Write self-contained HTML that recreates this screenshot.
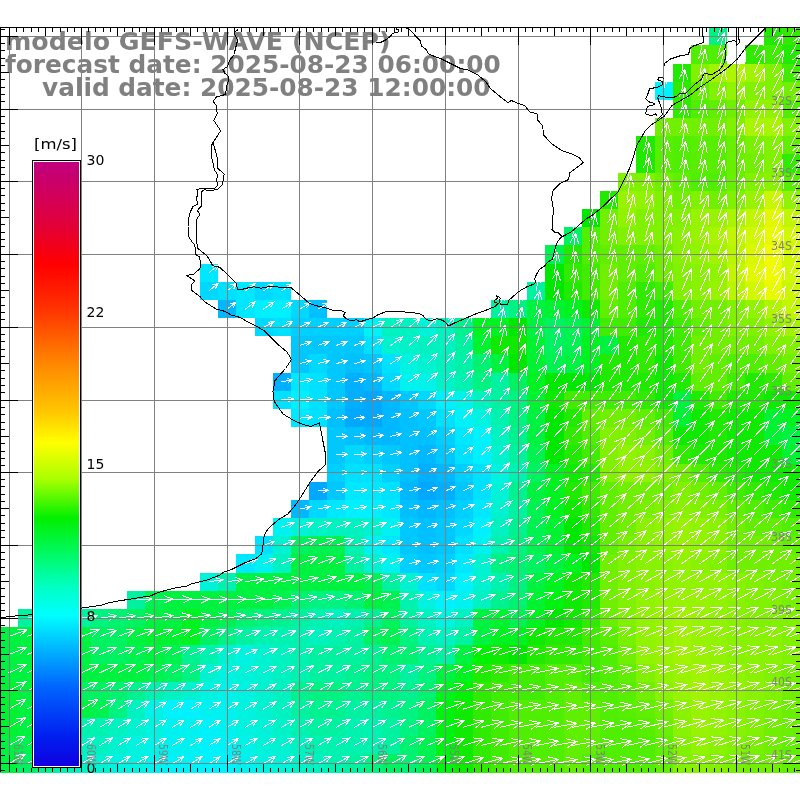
<!DOCTYPE html><html><head><meta charset="utf-8"><style>html,body{margin:0;padding:0;background:#fff;}svg{display:block}</style></head><body>
<svg width="800" height="800" viewBox="0 0 800 800">
<defs><linearGradient id="cb" x1="0" y1="1" x2="0" y2="0"><stop offset="0" stop-color="#1000e0"/><stop offset="0.05" stop-color="#0020f0"/><stop offset="0.13" stop-color="#0064ff"/><stop offset="0.19" stop-color="#00b0ff"/><stop offset="0.25" stop-color="#00ffff"/><stop offset="0.30" stop-color="#00ffbe"/><stop offset="0.345" stop-color="#00fa6e"/><stop offset="0.41" stop-color="#00f000"/><stop offset="0.475" stop-color="#aaff00"/><stop offset="0.535" stop-color="#ffff00"/><stop offset="0.585" stop-color="#ffc800"/><stop offset="0.66" stop-color="#ff8c00"/><stop offset="0.76" stop-color="#ff3000"/><stop offset="0.83" stop-color="#ff0000"/><stop offset="0.90" stop-color="#e0003c"/><stop offset="1" stop-color="#c0007f"/></linearGradient></defs>
<g shape-rendering="crispEdges">
<rect x="709" y="27" width="18" height="18" fill="#00f280"/>
<rect x="764" y="27" width="18" height="18" fill="#20ea00"/>
<rect x="782" y="27" width="18" height="18" fill="#30eb00"/>
<rect x="691" y="45" width="18" height="19" fill="#50ee00"/>
<rect x="709" y="45" width="18" height="19" fill="#50ee00"/>
<rect x="745" y="45" width="19" height="19" fill="#30eb00"/>
<rect x="764" y="45" width="18" height="19" fill="#40ed00"/>
<rect x="782" y="45" width="18" height="19" fill="#20ea00"/>
<rect x="673" y="64" width="18" height="18" fill="#20ea00"/>
<rect x="691" y="64" width="18" height="18" fill="#80f200"/>
<rect x="709" y="64" width="18" height="18" fill="#a0f400"/>
<rect x="727" y="64" width="18" height="18" fill="#b0f500"/>
<rect x="745" y="64" width="19" height="18" fill="#a0f400"/>
<rect x="764" y="64" width="18" height="18" fill="#80f200"/>
<rect x="782" y="64" width="18" height="18" fill="#40ed00"/>
<rect x="655" y="82" width="18" height="18" fill="#00f2ff"/>
<rect x="673" y="82" width="18" height="18" fill="#30eb00"/>
<rect x="691" y="82" width="18" height="18" fill="#60ef00"/>
<rect x="709" y="82" width="18" height="18" fill="#80f200"/>
<rect x="727" y="82" width="18" height="18" fill="#90f300"/>
<rect x="745" y="82" width="19" height="18" fill="#80f200"/>
<rect x="764" y="82" width="18" height="18" fill="#80f200"/>
<rect x="782" y="82" width="18" height="18" fill="#70f000"/>
<rect x="673" y="100" width="18" height="18" fill="#30eb00"/>
<rect x="691" y="100" width="18" height="18" fill="#50ee00"/>
<rect x="709" y="100" width="18" height="18" fill="#60ef00"/>
<rect x="727" y="100" width="18" height="18" fill="#70f000"/>
<rect x="745" y="100" width="19" height="18" fill="#90f300"/>
<rect x="764" y="100" width="18" height="18" fill="#90f300"/>
<rect x="782" y="100" width="18" height="18" fill="#50ee00"/>
<rect x="655" y="118" width="18" height="18" fill="#70f000"/>
<rect x="673" y="118" width="18" height="18" fill="#70f000"/>
<rect x="691" y="118" width="18" height="18" fill="#70f000"/>
<rect x="709" y="118" width="18" height="18" fill="#70f000"/>
<rect x="727" y="118" width="18" height="18" fill="#80f200"/>
<rect x="745" y="118" width="19" height="18" fill="#a8f500"/>
<rect x="764" y="118" width="18" height="18" fill="#a8f500"/>
<rect x="782" y="118" width="18" height="18" fill="#80f200"/>
<rect x="636" y="136" width="19" height="18" fill="#20ea00"/>
<rect x="655" y="136" width="18" height="18" fill="#58ee00"/>
<rect x="673" y="136" width="18" height="18" fill="#50ee00"/>
<rect x="691" y="136" width="18" height="18" fill="#58ee00"/>
<rect x="709" y="136" width="18" height="18" fill="#58ee00"/>
<rect x="727" y="136" width="18" height="18" fill="#68f000"/>
<rect x="745" y="136" width="19" height="18" fill="#78f100"/>
<rect x="764" y="136" width="18" height="18" fill="#80f200"/>
<rect x="782" y="136" width="18" height="18" fill="#60ef00"/>
<rect x="636" y="154" width="19" height="19" fill="#20ea00"/>
<rect x="655" y="154" width="18" height="19" fill="#58ee00"/>
<rect x="673" y="154" width="18" height="19" fill="#50ee00"/>
<rect x="691" y="154" width="18" height="19" fill="#58ee00"/>
<rect x="709" y="154" width="18" height="19" fill="#58ee00"/>
<rect x="727" y="154" width="18" height="19" fill="#68f000"/>
<rect x="745" y="154" width="19" height="19" fill="#70f000"/>
<rect x="764" y="154" width="18" height="19" fill="#80f200"/>
<rect x="782" y="154" width="18" height="19" fill="#30eb00"/>
<rect x="618" y="173" width="18" height="18" fill="#80f200"/>
<rect x="636" y="173" width="19" height="18" fill="#80f200"/>
<rect x="655" y="173" width="18" height="18" fill="#70f000"/>
<rect x="673" y="173" width="18" height="18" fill="#60ef00"/>
<rect x="691" y="173" width="18" height="18" fill="#50ee00"/>
<rect x="709" y="173" width="18" height="18" fill="#50ee00"/>
<rect x="727" y="173" width="18" height="18" fill="#68f000"/>
<rect x="745" y="173" width="19" height="18" fill="#80f200"/>
<rect x="764" y="173" width="18" height="18" fill="#88f200"/>
<rect x="782" y="173" width="18" height="18" fill="#58ee00"/>
<rect x="600" y="191" width="18" height="18" fill="#20ea00"/>
<rect x="618" y="191" width="18" height="18" fill="#98f300"/>
<rect x="636" y="191" width="19" height="18" fill="#90f300"/>
<rect x="655" y="191" width="18" height="18" fill="#80f200"/>
<rect x="673" y="191" width="18" height="18" fill="#70f000"/>
<rect x="691" y="191" width="18" height="18" fill="#80f200"/>
<rect x="709" y="191" width="18" height="18" fill="#70f000"/>
<rect x="727" y="191" width="18" height="18" fill="#80f200"/>
<rect x="745" y="191" width="19" height="18" fill="#98f300"/>
<rect x="764" y="191" width="18" height="18" fill="#c8f700"/>
<rect x="782" y="191" width="18" height="18" fill="#90f300"/>
<rect x="582" y="209" width="18" height="18" fill="#00e800"/>
<rect x="600" y="209" width="18" height="18" fill="#70f000"/>
<rect x="618" y="209" width="18" height="18" fill="#90f300"/>
<rect x="636" y="209" width="19" height="18" fill="#80f200"/>
<rect x="655" y="209" width="18" height="18" fill="#80f200"/>
<rect x="673" y="209" width="18" height="18" fill="#80f200"/>
<rect x="691" y="209" width="18" height="18" fill="#98f300"/>
<rect x="709" y="209" width="18" height="18" fill="#98f300"/>
<rect x="727" y="209" width="18" height="18" fill="#a8f500"/>
<rect x="745" y="209" width="19" height="18" fill="#c0f700"/>
<rect x="764" y="209" width="18" height="18" fill="#e0f900"/>
<rect x="782" y="209" width="18" height="18" fill="#c0f700"/>
<rect x="564" y="227" width="18" height="18" fill="#00f260"/>
<rect x="582" y="227" width="18" height="18" fill="#50ee00"/>
<rect x="600" y="227" width="18" height="18" fill="#70f000"/>
<rect x="618" y="227" width="18" height="18" fill="#80f200"/>
<rect x="636" y="227" width="19" height="18" fill="#80f200"/>
<rect x="655" y="227" width="18" height="18" fill="#80f200"/>
<rect x="673" y="227" width="18" height="18" fill="#88f200"/>
<rect x="691" y="227" width="18" height="18" fill="#98f300"/>
<rect x="709" y="227" width="18" height="18" fill="#a8f500"/>
<rect x="727" y="227" width="18" height="18" fill="#c0f700"/>
<rect x="745" y="227" width="19" height="18" fill="#d0f800"/>
<rect x="764" y="227" width="18" height="18" fill="#e8fa00"/>
<rect x="782" y="227" width="18" height="18" fill="#d0f800"/>
<rect x="545" y="245" width="19" height="19" fill="#00f250"/>
<rect x="564" y="245" width="18" height="19" fill="#20ea00"/>
<rect x="582" y="245" width="18" height="19" fill="#50ee00"/>
<rect x="600" y="245" width="18" height="19" fill="#60ef00"/>
<rect x="618" y="245" width="18" height="19" fill="#60ef00"/>
<rect x="636" y="245" width="19" height="19" fill="#60ef00"/>
<rect x="655" y="245" width="18" height="19" fill="#70f000"/>
<rect x="673" y="245" width="18" height="19" fill="#88f200"/>
<rect x="691" y="245" width="18" height="19" fill="#90f300"/>
<rect x="709" y="245" width="18" height="19" fill="#a0f400"/>
<rect x="727" y="245" width="18" height="19" fill="#b8f600"/>
<rect x="745" y="245" width="19" height="19" fill="#d8f800"/>
<rect x="764" y="245" width="18" height="19" fill="#f0fa00"/>
<rect x="782" y="245" width="18" height="19" fill="#d0f800"/>
<rect x="200" y="264" width="18" height="18" fill="#00e8ff"/>
<rect x="545" y="264" width="19" height="18" fill="#00e800"/>
<rect x="564" y="264" width="18" height="18" fill="#30eb00"/>
<rect x="582" y="264" width="18" height="18" fill="#40ed00"/>
<rect x="600" y="264" width="18" height="18" fill="#70f000"/>
<rect x="618" y="264" width="18" height="18" fill="#60ef00"/>
<rect x="636" y="264" width="19" height="18" fill="#50ee00"/>
<rect x="655" y="264" width="18" height="18" fill="#70f000"/>
<rect x="673" y="264" width="18" height="18" fill="#80f200"/>
<rect x="691" y="264" width="18" height="18" fill="#88f200"/>
<rect x="709" y="264" width="18" height="18" fill="#90f300"/>
<rect x="727" y="264" width="18" height="18" fill="#c0f700"/>
<rect x="745" y="264" width="19" height="18" fill="#e0f900"/>
<rect x="764" y="264" width="18" height="18" fill="#f0fa00"/>
<rect x="782" y="264" width="18" height="18" fill="#d0f800"/>
<rect x="200" y="282" width="18" height="18" fill="#00d8ff"/>
<rect x="218" y="282" width="18" height="18" fill="#00e0ff"/>
<rect x="236" y="282" width="19" height="18" fill="#00e8ff"/>
<rect x="255" y="282" width="18" height="18" fill="#00d8ff"/>
<rect x="273" y="282" width="18" height="18" fill="#00e0ff"/>
<rect x="527" y="282" width="18" height="18" fill="#00f2a0"/>
<rect x="545" y="282" width="19" height="18" fill="#00e800"/>
<rect x="564" y="282" width="18" height="18" fill="#20ea00"/>
<rect x="582" y="282" width="18" height="18" fill="#40ed00"/>
<rect x="600" y="282" width="18" height="18" fill="#70f000"/>
<rect x="618" y="282" width="18" height="18" fill="#50ee00"/>
<rect x="636" y="282" width="19" height="18" fill="#30eb00"/>
<rect x="655" y="282" width="18" height="18" fill="#40ed00"/>
<rect x="673" y="282" width="18" height="18" fill="#80f200"/>
<rect x="691" y="282" width="18" height="18" fill="#88f200"/>
<rect x="709" y="282" width="18" height="18" fill="#98f300"/>
<rect x="727" y="282" width="18" height="18" fill="#b8f600"/>
<rect x="745" y="282" width="19" height="18" fill="#d0f800"/>
<rect x="764" y="282" width="18" height="18" fill="#e8fa00"/>
<rect x="782" y="282" width="18" height="18" fill="#c8f700"/>
<rect x="218" y="300" width="18" height="18" fill="#00b8ff"/>
<rect x="236" y="300" width="19" height="18" fill="#00e8ff"/>
<rect x="255" y="300" width="18" height="18" fill="#00f0ff"/>
<rect x="273" y="300" width="18" height="18" fill="#00f0ff"/>
<rect x="291" y="300" width="18" height="18" fill="#00d8ff"/>
<rect x="309" y="300" width="18" height="18" fill="#00c0ff"/>
<rect x="491" y="300" width="18" height="18" fill="#00f2a0"/>
<rect x="509" y="300" width="18" height="18" fill="#00f280"/>
<rect x="527" y="300" width="18" height="18" fill="#00f240"/>
<rect x="545" y="300" width="19" height="18" fill="#00f230"/>
<rect x="564" y="300" width="18" height="18" fill="#00f220"/>
<rect x="582" y="300" width="18" height="18" fill="#10e900"/>
<rect x="600" y="300" width="18" height="18" fill="#60ef00"/>
<rect x="618" y="300" width="18" height="18" fill="#50ee00"/>
<rect x="636" y="300" width="19" height="18" fill="#30eb00"/>
<rect x="655" y="300" width="18" height="18" fill="#20ea00"/>
<rect x="673" y="300" width="18" height="18" fill="#50ee00"/>
<rect x="691" y="300" width="18" height="18" fill="#70f000"/>
<rect x="709" y="300" width="18" height="18" fill="#70f000"/>
<rect x="727" y="300" width="18" height="18" fill="#80f200"/>
<rect x="745" y="300" width="19" height="18" fill="#90f300"/>
<rect x="764" y="300" width="18" height="18" fill="#b0f500"/>
<rect x="782" y="300" width="18" height="18" fill="#c0f700"/>
<rect x="255" y="318" width="18" height="18" fill="#00d8ff"/>
<rect x="273" y="318" width="18" height="18" fill="#00e0ff"/>
<rect x="291" y="318" width="18" height="18" fill="#00d0ff"/>
<rect x="309" y="318" width="18" height="18" fill="#00d0ff"/>
<rect x="327" y="318" width="18" height="18" fill="#00d0ff"/>
<rect x="345" y="318" width="19" height="18" fill="#00d0ff"/>
<rect x="364" y="318" width="18" height="18" fill="#00f2f8"/>
<rect x="382" y="318" width="18" height="18" fill="#00f2c0"/>
<rect x="400" y="318" width="18" height="18" fill="#00f2c0"/>
<rect x="418" y="318" width="18" height="18" fill="#00f2d8"/>
<rect x="436" y="318" width="19" height="18" fill="#00f2c0"/>
<rect x="455" y="318" width="18" height="18" fill="#00f290"/>
<rect x="473" y="318" width="18" height="18" fill="#00f220"/>
<rect x="491" y="318" width="18" height="18" fill="#00f220"/>
<rect x="509" y="318" width="18" height="18" fill="#00e800"/>
<rect x="527" y="318" width="18" height="18" fill="#00f240"/>
<rect x="545" y="318" width="19" height="18" fill="#00f260"/>
<rect x="564" y="318" width="18" height="18" fill="#00f250"/>
<rect x="582" y="318" width="18" height="18" fill="#00f230"/>
<rect x="600" y="318" width="18" height="18" fill="#40ed00"/>
<rect x="618" y="318" width="18" height="18" fill="#40ed00"/>
<rect x="636" y="318" width="19" height="18" fill="#20ea00"/>
<rect x="655" y="318" width="18" height="18" fill="#20ea00"/>
<rect x="673" y="318" width="18" height="18" fill="#40ed00"/>
<rect x="691" y="318" width="18" height="18" fill="#60ef00"/>
<rect x="709" y="318" width="18" height="18" fill="#70f000"/>
<rect x="727" y="318" width="18" height="18" fill="#80f200"/>
<rect x="745" y="318" width="19" height="18" fill="#80f200"/>
<rect x="764" y="318" width="18" height="18" fill="#90f300"/>
<rect x="782" y="318" width="18" height="18" fill="#a0f400"/>
<rect x="291" y="336" width="18" height="18" fill="#00c8ff"/>
<rect x="309" y="336" width="18" height="18" fill="#00c8ff"/>
<rect x="327" y="336" width="18" height="18" fill="#00c8ff"/>
<rect x="345" y="336" width="19" height="18" fill="#00c8ff"/>
<rect x="364" y="336" width="18" height="18" fill="#00e0ff"/>
<rect x="382" y="336" width="18" height="18" fill="#00f2d0"/>
<rect x="400" y="336" width="18" height="18" fill="#00f2c8"/>
<rect x="418" y="336" width="18" height="18" fill="#00f2c0"/>
<rect x="436" y="336" width="19" height="18" fill="#00f2c0"/>
<rect x="455" y="336" width="18" height="18" fill="#00f2a0"/>
<rect x="473" y="336" width="18" height="18" fill="#00f230"/>
<rect x="491" y="336" width="18" height="18" fill="#10e900"/>
<rect x="509" y="336" width="18" height="18" fill="#10e900"/>
<rect x="527" y="336" width="18" height="18" fill="#00f230"/>
<rect x="545" y="336" width="19" height="18" fill="#00f260"/>
<rect x="564" y="336" width="18" height="18" fill="#00f250"/>
<rect x="582" y="336" width="18" height="18" fill="#00f220"/>
<rect x="600" y="336" width="18" height="18" fill="#00f240"/>
<rect x="618" y="336" width="18" height="18" fill="#20ea00"/>
<rect x="636" y="336" width="19" height="18" fill="#30eb00"/>
<rect x="655" y="336" width="18" height="18" fill="#20ea00"/>
<rect x="673" y="336" width="18" height="18" fill="#40ed00"/>
<rect x="691" y="336" width="18" height="18" fill="#70f000"/>
<rect x="709" y="336" width="18" height="18" fill="#70f000"/>
<rect x="727" y="336" width="18" height="18" fill="#70f000"/>
<rect x="745" y="336" width="19" height="18" fill="#70f000"/>
<rect x="764" y="336" width="18" height="18" fill="#80f200"/>
<rect x="782" y="336" width="18" height="18" fill="#80f200"/>
<rect x="291" y="354" width="18" height="19" fill="#00c8ff"/>
<rect x="309" y="354" width="18" height="19" fill="#00d8ff"/>
<rect x="327" y="354" width="18" height="19" fill="#00c8ff"/>
<rect x="345" y="354" width="19" height="19" fill="#00c0ff"/>
<rect x="364" y="354" width="18" height="19" fill="#00c8ff"/>
<rect x="382" y="354" width="18" height="19" fill="#00e0ff"/>
<rect x="400" y="354" width="18" height="19" fill="#00f2e0"/>
<rect x="418" y="354" width="18" height="19" fill="#00f2d0"/>
<rect x="436" y="354" width="19" height="19" fill="#00f2c0"/>
<rect x="455" y="354" width="18" height="19" fill="#00f2a8"/>
<rect x="473" y="354" width="18" height="19" fill="#00f270"/>
<rect x="491" y="354" width="18" height="19" fill="#00f240"/>
<rect x="509" y="354" width="18" height="19" fill="#00e800"/>
<rect x="527" y="354" width="18" height="19" fill="#00f230"/>
<rect x="545" y="354" width="19" height="19" fill="#00f250"/>
<rect x="564" y="354" width="18" height="19" fill="#00f240"/>
<rect x="582" y="354" width="18" height="19" fill="#00f220"/>
<rect x="600" y="354" width="18" height="19" fill="#20ea00"/>
<rect x="618" y="354" width="18" height="19" fill="#20ea00"/>
<rect x="636" y="354" width="19" height="19" fill="#30eb00"/>
<rect x="655" y="354" width="18" height="19" fill="#10e900"/>
<rect x="673" y="354" width="18" height="19" fill="#40ed00"/>
<rect x="691" y="354" width="18" height="19" fill="#70f000"/>
<rect x="709" y="354" width="18" height="19" fill="#60ef00"/>
<rect x="727" y="354" width="18" height="19" fill="#50ee00"/>
<rect x="745" y="354" width="19" height="19" fill="#50ee00"/>
<rect x="764" y="354" width="18" height="19" fill="#60ef00"/>
<rect x="782" y="354" width="18" height="19" fill="#70f000"/>
<rect x="273" y="373" width="18" height="18" fill="#00b0ff"/>
<rect x="291" y="373" width="18" height="18" fill="#00e8ff"/>
<rect x="309" y="373" width="18" height="18" fill="#00e0ff"/>
<rect x="327" y="373" width="18" height="18" fill="#00c8ff"/>
<rect x="345" y="373" width="19" height="18" fill="#00b0ff"/>
<rect x="364" y="373" width="18" height="18" fill="#00b8ff"/>
<rect x="382" y="373" width="18" height="18" fill="#00d8ff"/>
<rect x="400" y="373" width="18" height="18" fill="#00f2f0"/>
<rect x="418" y="373" width="18" height="18" fill="#00f2e8"/>
<rect x="436" y="373" width="19" height="18" fill="#00f2c8"/>
<rect x="455" y="373" width="18" height="18" fill="#00f2b0"/>
<rect x="473" y="373" width="18" height="18" fill="#00f280"/>
<rect x="491" y="373" width="18" height="18" fill="#00f2a0"/>
<rect x="509" y="373" width="18" height="18" fill="#00f260"/>
<rect x="527" y="373" width="18" height="18" fill="#00f220"/>
<rect x="545" y="373" width="19" height="18" fill="#00e800"/>
<rect x="564" y="373" width="18" height="18" fill="#00e800"/>
<rect x="582" y="373" width="18" height="18" fill="#00e800"/>
<rect x="600" y="373" width="18" height="18" fill="#20ea00"/>
<rect x="618" y="373" width="18" height="18" fill="#20ea00"/>
<rect x="636" y="373" width="19" height="18" fill="#20ea00"/>
<rect x="655" y="373" width="18" height="18" fill="#10e900"/>
<rect x="673" y="373" width="18" height="18" fill="#20ea00"/>
<rect x="691" y="373" width="18" height="18" fill="#60ef00"/>
<rect x="709" y="373" width="18" height="18" fill="#60ef00"/>
<rect x="727" y="373" width="18" height="18" fill="#40ed00"/>
<rect x="745" y="373" width="19" height="18" fill="#20ea00"/>
<rect x="764" y="373" width="18" height="18" fill="#30eb00"/>
<rect x="782" y="373" width="18" height="18" fill="#60ef00"/>
<rect x="273" y="391" width="18" height="18" fill="#00e0ff"/>
<rect x="291" y="391" width="18" height="18" fill="#00f0ff"/>
<rect x="309" y="391" width="18" height="18" fill="#00e0ff"/>
<rect x="327" y="391" width="18" height="18" fill="#00c8ff"/>
<rect x="345" y="391" width="19" height="18" fill="#00b0ff"/>
<rect x="364" y="391" width="18" height="18" fill="#00a8ff"/>
<rect x="382" y="391" width="18" height="18" fill="#00b8ff"/>
<rect x="400" y="391" width="18" height="18" fill="#00c8ff"/>
<rect x="418" y="391" width="18" height="18" fill="#00d8ff"/>
<rect x="436" y="391" width="19" height="18" fill="#00f0ff"/>
<rect x="455" y="391" width="18" height="18" fill="#00f2e8"/>
<rect x="473" y="391" width="18" height="18" fill="#00f2c0"/>
<rect x="491" y="391" width="18" height="18" fill="#00f2a0"/>
<rect x="509" y="391" width="18" height="18" fill="#00f280"/>
<rect x="527" y="391" width="18" height="18" fill="#00f230"/>
<rect x="545" y="391" width="19" height="18" fill="#10e900"/>
<rect x="564" y="391" width="18" height="18" fill="#40ed00"/>
<rect x="582" y="391" width="18" height="18" fill="#40ed00"/>
<rect x="600" y="391" width="18" height="18" fill="#40ed00"/>
<rect x="618" y="391" width="18" height="18" fill="#40ed00"/>
<rect x="636" y="391" width="19" height="18" fill="#30eb00"/>
<rect x="655" y="391" width="18" height="18" fill="#10e900"/>
<rect x="673" y="391" width="18" height="18" fill="#00f240"/>
<rect x="691" y="391" width="18" height="18" fill="#20ea00"/>
<rect x="709" y="391" width="18" height="18" fill="#40ed00"/>
<rect x="727" y="391" width="18" height="18" fill="#20ea00"/>
<rect x="745" y="391" width="19" height="18" fill="#20ea00"/>
<rect x="764" y="391" width="18" height="18" fill="#10e900"/>
<rect x="782" y="391" width="18" height="18" fill="#10e900"/>
<rect x="291" y="409" width="18" height="18" fill="#00e8ff"/>
<rect x="309" y="409" width="18" height="18" fill="#00e0ff"/>
<rect x="327" y="409" width="18" height="18" fill="#00c0ff"/>
<rect x="345" y="409" width="19" height="18" fill="#00a8ff"/>
<rect x="364" y="409" width="18" height="18" fill="#00a8ff"/>
<rect x="382" y="409" width="18" height="18" fill="#00b8ff"/>
<rect x="400" y="409" width="18" height="18" fill="#00c0ff"/>
<rect x="418" y="409" width="18" height="18" fill="#00c8ff"/>
<rect x="436" y="409" width="19" height="18" fill="#00e0ff"/>
<rect x="455" y="409" width="18" height="18" fill="#00f2f8"/>
<rect x="473" y="409" width="18" height="18" fill="#00f2e0"/>
<rect x="491" y="409" width="18" height="18" fill="#00f2b0"/>
<rect x="509" y="409" width="18" height="18" fill="#00f280"/>
<rect x="527" y="409" width="18" height="18" fill="#00f240"/>
<rect x="545" y="409" width="19" height="18" fill="#00e800"/>
<rect x="564" y="409" width="18" height="18" fill="#20ea00"/>
<rect x="582" y="409" width="18" height="18" fill="#60ef00"/>
<rect x="600" y="409" width="18" height="18" fill="#70f000"/>
<rect x="618" y="409" width="18" height="18" fill="#70f000"/>
<rect x="636" y="409" width="19" height="18" fill="#60ef00"/>
<rect x="655" y="409" width="18" height="18" fill="#40ed00"/>
<rect x="673" y="409" width="18" height="18" fill="#00f230"/>
<rect x="691" y="409" width="18" height="18" fill="#10e900"/>
<rect x="709" y="409" width="18" height="18" fill="#20ea00"/>
<rect x="727" y="409" width="18" height="18" fill="#10e900"/>
<rect x="745" y="409" width="19" height="18" fill="#10e900"/>
<rect x="764" y="409" width="18" height="18" fill="#00f230"/>
<rect x="782" y="409" width="18" height="18" fill="#00f220"/>
<rect x="327" y="427" width="18" height="18" fill="#00c8ff"/>
<rect x="345" y="427" width="19" height="18" fill="#00c0ff"/>
<rect x="364" y="427" width="18" height="18" fill="#00b8ff"/>
<rect x="382" y="427" width="18" height="18" fill="#00b8ff"/>
<rect x="400" y="427" width="18" height="18" fill="#00c0ff"/>
<rect x="418" y="427" width="18" height="18" fill="#00c0ff"/>
<rect x="436" y="427" width="19" height="18" fill="#00d0ff"/>
<rect x="455" y="427" width="18" height="18" fill="#00e8ff"/>
<rect x="473" y="427" width="18" height="18" fill="#00f2ff"/>
<rect x="491" y="427" width="18" height="18" fill="#00f2c0"/>
<rect x="509" y="427" width="18" height="18" fill="#00f290"/>
<rect x="527" y="427" width="18" height="18" fill="#00f240"/>
<rect x="545" y="427" width="19" height="18" fill="#00e800"/>
<rect x="564" y="427" width="18" height="18" fill="#30eb00"/>
<rect x="582" y="427" width="18" height="18" fill="#50ee00"/>
<rect x="600" y="427" width="18" height="18" fill="#80f200"/>
<rect x="618" y="427" width="18" height="18" fill="#80f200"/>
<rect x="636" y="427" width="19" height="18" fill="#70f000"/>
<rect x="655" y="427" width="18" height="18" fill="#50ee00"/>
<rect x="673" y="427" width="18" height="18" fill="#10e900"/>
<rect x="691" y="427" width="18" height="18" fill="#10e900"/>
<rect x="709" y="427" width="18" height="18" fill="#20ea00"/>
<rect x="727" y="427" width="18" height="18" fill="#10e900"/>
<rect x="745" y="427" width="19" height="18" fill="#10e900"/>
<rect x="764" y="427" width="18" height="18" fill="#00f230"/>
<rect x="782" y="427" width="18" height="18" fill="#00f240"/>
<rect x="327" y="445" width="18" height="19" fill="#00c8ff"/>
<rect x="345" y="445" width="19" height="19" fill="#00d8ff"/>
<rect x="364" y="445" width="18" height="19" fill="#00d0ff"/>
<rect x="382" y="445" width="18" height="19" fill="#00c8ff"/>
<rect x="400" y="445" width="18" height="19" fill="#00c0ff"/>
<rect x="418" y="445" width="18" height="19" fill="#00b8ff"/>
<rect x="436" y="445" width="19" height="19" fill="#00c8ff"/>
<rect x="455" y="445" width="18" height="19" fill="#00e0ff"/>
<rect x="473" y="445" width="18" height="19" fill="#00f0ff"/>
<rect x="491" y="445" width="18" height="19" fill="#00f2d0"/>
<rect x="509" y="445" width="18" height="19" fill="#00f2a0"/>
<rect x="527" y="445" width="18" height="19" fill="#00f250"/>
<rect x="545" y="445" width="19" height="19" fill="#00e800"/>
<rect x="564" y="445" width="18" height="19" fill="#20ea00"/>
<rect x="582" y="445" width="18" height="19" fill="#40ed00"/>
<rect x="600" y="445" width="18" height="19" fill="#80f200"/>
<rect x="618" y="445" width="18" height="19" fill="#90f300"/>
<rect x="636" y="445" width="19" height="19" fill="#88f200"/>
<rect x="655" y="445" width="18" height="19" fill="#70f000"/>
<rect x="673" y="445" width="18" height="19" fill="#30eb00"/>
<rect x="691" y="445" width="18" height="19" fill="#20ea00"/>
<rect x="709" y="445" width="18" height="19" fill="#20ea00"/>
<rect x="727" y="445" width="18" height="19" fill="#10e900"/>
<rect x="745" y="445" width="19" height="19" fill="#10e900"/>
<rect x="764" y="445" width="18" height="19" fill="#10e900"/>
<rect x="782" y="445" width="18" height="19" fill="#00f230"/>
<rect x="327" y="464" width="18" height="18" fill="#00d0ff"/>
<rect x="345" y="464" width="19" height="18" fill="#00e0ff"/>
<rect x="364" y="464" width="18" height="18" fill="#00e0ff"/>
<rect x="382" y="464" width="18" height="18" fill="#00d0ff"/>
<rect x="400" y="464" width="18" height="18" fill="#00c0ff"/>
<rect x="418" y="464" width="18" height="18" fill="#00b0ff"/>
<rect x="436" y="464" width="19" height="18" fill="#00b8ff"/>
<rect x="455" y="464" width="18" height="18" fill="#00d0ff"/>
<rect x="473" y="464" width="18" height="18" fill="#00e0ff"/>
<rect x="491" y="464" width="18" height="18" fill="#00f2e0"/>
<rect x="509" y="464" width="18" height="18" fill="#00f2b0"/>
<rect x="527" y="464" width="18" height="18" fill="#00f260"/>
<rect x="545" y="464" width="19" height="18" fill="#00f220"/>
<rect x="564" y="464" width="18" height="18" fill="#10e900"/>
<rect x="582" y="464" width="18" height="18" fill="#20ea00"/>
<rect x="600" y="464" width="18" height="18" fill="#80f200"/>
<rect x="618" y="464" width="18" height="18" fill="#90f300"/>
<rect x="636" y="464" width="19" height="18" fill="#90f300"/>
<rect x="655" y="464" width="18" height="18" fill="#80f200"/>
<rect x="673" y="464" width="18" height="18" fill="#70f000"/>
<rect x="691" y="464" width="18" height="18" fill="#50ee00"/>
<rect x="709" y="464" width="18" height="18" fill="#30eb00"/>
<rect x="727" y="464" width="18" height="18" fill="#20ea00"/>
<rect x="745" y="464" width="19" height="18" fill="#10e900"/>
<rect x="764" y="464" width="18" height="18" fill="#10e900"/>
<rect x="782" y="464" width="18" height="18" fill="#10e900"/>
<rect x="309" y="482" width="18" height="18" fill="#00a8ff"/>
<rect x="327" y="482" width="18" height="18" fill="#00c8ff"/>
<rect x="345" y="482" width="19" height="18" fill="#00e8ff"/>
<rect x="364" y="482" width="18" height="18" fill="#00e8ff"/>
<rect x="382" y="482" width="18" height="18" fill="#00e0ff"/>
<rect x="400" y="482" width="18" height="18" fill="#00b8ff"/>
<rect x="418" y="482" width="18" height="18" fill="#00a8ff"/>
<rect x="436" y="482" width="19" height="18" fill="#00b0ff"/>
<rect x="455" y="482" width="18" height="18" fill="#00c8ff"/>
<rect x="473" y="482" width="18" height="18" fill="#00e0ff"/>
<rect x="491" y="482" width="18" height="18" fill="#00f2d8"/>
<rect x="509" y="482" width="18" height="18" fill="#00f290"/>
<rect x="527" y="482" width="18" height="18" fill="#00f240"/>
<rect x="545" y="482" width="19" height="18" fill="#00f220"/>
<rect x="564" y="482" width="18" height="18" fill="#20ea00"/>
<rect x="582" y="482" width="18" height="18" fill="#40ed00"/>
<rect x="600" y="482" width="18" height="18" fill="#60ef00"/>
<rect x="618" y="482" width="18" height="18" fill="#70f000"/>
<rect x="636" y="482" width="19" height="18" fill="#70f000"/>
<rect x="655" y="482" width="18" height="18" fill="#70f000"/>
<rect x="673" y="482" width="18" height="18" fill="#80f200"/>
<rect x="691" y="482" width="18" height="18" fill="#70f000"/>
<rect x="709" y="482" width="18" height="18" fill="#60ef00"/>
<rect x="727" y="482" width="18" height="18" fill="#40ed00"/>
<rect x="745" y="482" width="19" height="18" fill="#30eb00"/>
<rect x="764" y="482" width="18" height="18" fill="#20ea00"/>
<rect x="782" y="482" width="18" height="18" fill="#10e900"/>
<rect x="291" y="500" width="18" height="18" fill="#00b8ff"/>
<rect x="309" y="500" width="18" height="18" fill="#00d8ff"/>
<rect x="327" y="500" width="18" height="18" fill="#00e8ff"/>
<rect x="345" y="500" width="19" height="18" fill="#00f0ff"/>
<rect x="364" y="500" width="18" height="18" fill="#00f0ff"/>
<rect x="382" y="500" width="18" height="18" fill="#00e8ff"/>
<rect x="400" y="500" width="18" height="18" fill="#00c0ff"/>
<rect x="418" y="500" width="18" height="18" fill="#00b8ff"/>
<rect x="436" y="500" width="19" height="18" fill="#00c0ff"/>
<rect x="455" y="500" width="18" height="18" fill="#00d0ff"/>
<rect x="473" y="500" width="18" height="18" fill="#00e8ff"/>
<rect x="491" y="500" width="18" height="18" fill="#00f2d0"/>
<rect x="509" y="500" width="18" height="18" fill="#00f2a0"/>
<rect x="527" y="500" width="18" height="18" fill="#00f250"/>
<rect x="545" y="500" width="19" height="18" fill="#00f220"/>
<rect x="564" y="500" width="18" height="18" fill="#10e900"/>
<rect x="582" y="500" width="18" height="18" fill="#30eb00"/>
<rect x="600" y="500" width="18" height="18" fill="#60ef00"/>
<rect x="618" y="500" width="18" height="18" fill="#70f000"/>
<rect x="636" y="500" width="19" height="18" fill="#78f100"/>
<rect x="655" y="500" width="18" height="18" fill="#80f200"/>
<rect x="673" y="500" width="18" height="18" fill="#88f200"/>
<rect x="691" y="500" width="18" height="18" fill="#80f200"/>
<rect x="709" y="500" width="18" height="18" fill="#78f100"/>
<rect x="727" y="500" width="18" height="18" fill="#60ef00"/>
<rect x="745" y="500" width="19" height="18" fill="#50ee00"/>
<rect x="764" y="500" width="18" height="18" fill="#40ed00"/>
<rect x="782" y="500" width="18" height="18" fill="#30eb00"/>
<rect x="273" y="518" width="18" height="18" fill="#00f2f0"/>
<rect x="291" y="518" width="18" height="18" fill="#00f2d8"/>
<rect x="309" y="518" width="18" height="18" fill="#00f2c8"/>
<rect x="327" y="518" width="18" height="18" fill="#00f2c0"/>
<rect x="345" y="518" width="19" height="18" fill="#00f2c0"/>
<rect x="364" y="518" width="18" height="18" fill="#00f2d0"/>
<rect x="382" y="518" width="18" height="18" fill="#00f2f0"/>
<rect x="400" y="518" width="18" height="18" fill="#00c8ff"/>
<rect x="418" y="518" width="18" height="18" fill="#00c0ff"/>
<rect x="436" y="518" width="19" height="18" fill="#00c8ff"/>
<rect x="455" y="518" width="18" height="18" fill="#00d8ff"/>
<rect x="473" y="518" width="18" height="18" fill="#00f0ff"/>
<rect x="491" y="518" width="18" height="18" fill="#00f2c0"/>
<rect x="509" y="518" width="18" height="18" fill="#00f290"/>
<rect x="527" y="518" width="18" height="18" fill="#00f250"/>
<rect x="545" y="518" width="19" height="18" fill="#00f230"/>
<rect x="564" y="518" width="18" height="18" fill="#00e800"/>
<rect x="582" y="518" width="18" height="18" fill="#20ea00"/>
<rect x="600" y="518" width="18" height="18" fill="#60ef00"/>
<rect x="618" y="518" width="18" height="18" fill="#70f000"/>
<rect x="636" y="518" width="19" height="18" fill="#88f200"/>
<rect x="655" y="518" width="18" height="18" fill="#90f300"/>
<rect x="673" y="518" width="18" height="18" fill="#98f300"/>
<rect x="691" y="518" width="18" height="18" fill="#90f300"/>
<rect x="709" y="518" width="18" height="18" fill="#88f200"/>
<rect x="727" y="518" width="18" height="18" fill="#70f000"/>
<rect x="745" y="518" width="19" height="18" fill="#60ef00"/>
<rect x="764" y="518" width="18" height="18" fill="#60ef00"/>
<rect x="782" y="518" width="18" height="18" fill="#50ee00"/>
<rect x="255" y="536" width="18" height="18" fill="#00e0ff"/>
<rect x="273" y="536" width="18" height="18" fill="#00f2d0"/>
<rect x="291" y="536" width="18" height="18" fill="#00f260"/>
<rect x="309" y="536" width="18" height="18" fill="#00f250"/>
<rect x="327" y="536" width="18" height="18" fill="#00f250"/>
<rect x="345" y="536" width="19" height="18" fill="#00f2b0"/>
<rect x="364" y="536" width="18" height="18" fill="#00f2f0"/>
<rect x="382" y="536" width="18" height="18" fill="#00e8ff"/>
<rect x="400" y="536" width="18" height="18" fill="#00c8ff"/>
<rect x="418" y="536" width="18" height="18" fill="#00c0ff"/>
<rect x="436" y="536" width="19" height="18" fill="#00c8ff"/>
<rect x="455" y="536" width="18" height="18" fill="#00e0ff"/>
<rect x="473" y="536" width="18" height="18" fill="#00f2f0"/>
<rect x="491" y="536" width="18" height="18" fill="#00f2b0"/>
<rect x="509" y="536" width="18" height="18" fill="#00f280"/>
<rect x="527" y="536" width="18" height="18" fill="#00f250"/>
<rect x="545" y="536" width="19" height="18" fill="#00f230"/>
<rect x="564" y="536" width="18" height="18" fill="#00e800"/>
<rect x="582" y="536" width="18" height="18" fill="#10e900"/>
<rect x="600" y="536" width="18" height="18" fill="#60ef00"/>
<rect x="618" y="536" width="18" height="18" fill="#78f100"/>
<rect x="636" y="536" width="19" height="18" fill="#88f200"/>
<rect x="655" y="536" width="18" height="18" fill="#90f300"/>
<rect x="673" y="536" width="18" height="18" fill="#98f300"/>
<rect x="691" y="536" width="18" height="18" fill="#90f300"/>
<rect x="709" y="536" width="18" height="18" fill="#88f200"/>
<rect x="727" y="536" width="18" height="18" fill="#70f000"/>
<rect x="745" y="536" width="19" height="18" fill="#70f000"/>
<rect x="764" y="536" width="18" height="18" fill="#70f000"/>
<rect x="782" y="536" width="18" height="18" fill="#60ef00"/>
<rect x="236" y="554" width="19" height="19" fill="#00e8ff"/>
<rect x="255" y="554" width="18" height="19" fill="#00f2f0"/>
<rect x="273" y="554" width="18" height="19" fill="#00f2c0"/>
<rect x="291" y="554" width="18" height="19" fill="#00f240"/>
<rect x="309" y="554" width="18" height="19" fill="#00f240"/>
<rect x="327" y="554" width="18" height="19" fill="#00f240"/>
<rect x="345" y="554" width="19" height="19" fill="#00f2a0"/>
<rect x="364" y="554" width="18" height="19" fill="#00f2d0"/>
<rect x="382" y="554" width="18" height="19" fill="#00f2f0"/>
<rect x="400" y="554" width="18" height="19" fill="#00d0ff"/>
<rect x="418" y="554" width="18" height="19" fill="#00c8ff"/>
<rect x="436" y="554" width="19" height="19" fill="#00d0ff"/>
<rect x="455" y="554" width="18" height="19" fill="#00e8ff"/>
<rect x="473" y="554" width="18" height="19" fill="#00f2d0"/>
<rect x="491" y="554" width="18" height="19" fill="#00f280"/>
<rect x="509" y="554" width="18" height="19" fill="#00f270"/>
<rect x="527" y="554" width="18" height="19" fill="#00f260"/>
<rect x="545" y="554" width="19" height="19" fill="#00f240"/>
<rect x="564" y="554" width="18" height="19" fill="#00f220"/>
<rect x="582" y="554" width="18" height="19" fill="#00e800"/>
<rect x="600" y="554" width="18" height="19" fill="#70f000"/>
<rect x="618" y="554" width="18" height="19" fill="#80f200"/>
<rect x="636" y="554" width="19" height="19" fill="#88f200"/>
<rect x="655" y="554" width="18" height="19" fill="#88f200"/>
<rect x="673" y="554" width="18" height="19" fill="#90f300"/>
<rect x="691" y="554" width="18" height="19" fill="#88f200"/>
<rect x="709" y="554" width="18" height="19" fill="#80f200"/>
<rect x="727" y="554" width="18" height="19" fill="#70f000"/>
<rect x="745" y="554" width="19" height="19" fill="#70f000"/>
<rect x="764" y="554" width="18" height="19" fill="#70f000"/>
<rect x="782" y="554" width="18" height="19" fill="#70f000"/>
<rect x="200" y="573" width="18" height="18" fill="#00f2d8"/>
<rect x="218" y="573" width="18" height="18" fill="#00f2b0"/>
<rect x="236" y="573" width="19" height="18" fill="#00f240"/>
<rect x="255" y="573" width="18" height="18" fill="#00f240"/>
<rect x="273" y="573" width="18" height="18" fill="#00f240"/>
<rect x="291" y="573" width="18" height="18" fill="#00f240"/>
<rect x="309" y="573" width="18" height="18" fill="#00f240"/>
<rect x="327" y="573" width="18" height="18" fill="#00f240"/>
<rect x="345" y="573" width="19" height="18" fill="#00f240"/>
<rect x="364" y="573" width="18" height="18" fill="#00f250"/>
<rect x="382" y="573" width="18" height="18" fill="#00f2a0"/>
<rect x="400" y="573" width="18" height="18" fill="#00f2d0"/>
<rect x="418" y="573" width="18" height="18" fill="#00e0ff"/>
<rect x="436" y="573" width="19" height="18" fill="#00d8ff"/>
<rect x="455" y="573" width="18" height="18" fill="#00f2ff"/>
<rect x="473" y="573" width="18" height="18" fill="#00f2d0"/>
<rect x="491" y="573" width="18" height="18" fill="#00f2b0"/>
<rect x="509" y="573" width="18" height="18" fill="#00f280"/>
<rect x="527" y="573" width="18" height="18" fill="#00f240"/>
<rect x="545" y="573" width="19" height="18" fill="#00f220"/>
<rect x="564" y="573" width="18" height="18" fill="#10e900"/>
<rect x="582" y="573" width="18" height="18" fill="#20ea00"/>
<rect x="600" y="573" width="18" height="18" fill="#70f000"/>
<rect x="618" y="573" width="18" height="18" fill="#80f200"/>
<rect x="636" y="573" width="19" height="18" fill="#88f200"/>
<rect x="655" y="573" width="18" height="18" fill="#90f300"/>
<rect x="673" y="573" width="18" height="18" fill="#90f300"/>
<rect x="691" y="573" width="18" height="18" fill="#90f300"/>
<rect x="709" y="573" width="18" height="18" fill="#90f300"/>
<rect x="727" y="573" width="18" height="18" fill="#88f200"/>
<rect x="745" y="573" width="19" height="18" fill="#80f200"/>
<rect x="764" y="573" width="18" height="18" fill="#78f100"/>
<rect x="782" y="573" width="18" height="18" fill="#70f000"/>
<rect x="127" y="591" width="18" height="18" fill="#00f2a0"/>
<rect x="145" y="591" width="19" height="18" fill="#00f250"/>
<rect x="164" y="591" width="18" height="18" fill="#00f240"/>
<rect x="182" y="591" width="18" height="18" fill="#00f240"/>
<rect x="200" y="591" width="18" height="18" fill="#00f240"/>
<rect x="218" y="591" width="18" height="18" fill="#00f240"/>
<rect x="236" y="591" width="19" height="18" fill="#00f240"/>
<rect x="255" y="591" width="18" height="18" fill="#00f240"/>
<rect x="273" y="591" width="18" height="18" fill="#00f250"/>
<rect x="291" y="591" width="18" height="18" fill="#00f270"/>
<rect x="309" y="591" width="18" height="18" fill="#00f280"/>
<rect x="327" y="591" width="18" height="18" fill="#00f280"/>
<rect x="345" y="591" width="19" height="18" fill="#00f270"/>
<rect x="364" y="591" width="18" height="18" fill="#00f240"/>
<rect x="382" y="591" width="18" height="18" fill="#00f250"/>
<rect x="400" y="591" width="18" height="18" fill="#00f2b0"/>
<rect x="418" y="591" width="18" height="18" fill="#00f2e0"/>
<rect x="436" y="591" width="19" height="18" fill="#00f2ff"/>
<rect x="455" y="591" width="18" height="18" fill="#00f2f0"/>
<rect x="473" y="591" width="18" height="18" fill="#00f2c0"/>
<rect x="491" y="591" width="18" height="18" fill="#00f290"/>
<rect x="509" y="591" width="18" height="18" fill="#00f270"/>
<rect x="527" y="591" width="18" height="18" fill="#00f230"/>
<rect x="545" y="591" width="19" height="18" fill="#00f210"/>
<rect x="564" y="591" width="18" height="18" fill="#10e900"/>
<rect x="582" y="591" width="18" height="18" fill="#20ea00"/>
<rect x="600" y="591" width="18" height="18" fill="#70f000"/>
<rect x="618" y="591" width="18" height="18" fill="#80f200"/>
<rect x="636" y="591" width="19" height="18" fill="#90f300"/>
<rect x="655" y="591" width="18" height="18" fill="#98f300"/>
<rect x="673" y="591" width="18" height="18" fill="#98f300"/>
<rect x="691" y="591" width="18" height="18" fill="#98f300"/>
<rect x="709" y="591" width="18" height="18" fill="#90f300"/>
<rect x="727" y="591" width="18" height="18" fill="#88f200"/>
<rect x="745" y="591" width="19" height="18" fill="#80f200"/>
<rect x="764" y="591" width="18" height="18" fill="#80f200"/>
<rect x="782" y="591" width="18" height="18" fill="#78f100"/>
<rect x="18" y="609" width="18" height="18" fill="#00f2a0"/>
<rect x="36" y="609" width="19" height="18" fill="#00f2a0"/>
<rect x="55" y="609" width="18" height="18" fill="#00f2a0"/>
<rect x="73" y="609" width="18" height="18" fill="#00f2a0"/>
<rect x="91" y="609" width="18" height="18" fill="#00f280"/>
<rect x="109" y="609" width="18" height="18" fill="#00f270"/>
<rect x="127" y="609" width="18" height="18" fill="#00f260"/>
<rect x="145" y="609" width="19" height="18" fill="#00f240"/>
<rect x="164" y="609" width="18" height="18" fill="#00f240"/>
<rect x="182" y="609" width="18" height="18" fill="#00f220"/>
<rect x="200" y="609" width="18" height="18" fill="#00f240"/>
<rect x="218" y="609" width="18" height="18" fill="#00f250"/>
<rect x="236" y="609" width="19" height="18" fill="#00f270"/>
<rect x="255" y="609" width="18" height="18" fill="#00f280"/>
<rect x="273" y="609" width="18" height="18" fill="#00f290"/>
<rect x="291" y="609" width="18" height="18" fill="#00f2a0"/>
<rect x="309" y="609" width="18" height="18" fill="#00f2b0"/>
<rect x="327" y="609" width="18" height="18" fill="#00f2c0"/>
<rect x="345" y="609" width="19" height="18" fill="#00f2b0"/>
<rect x="364" y="609" width="18" height="18" fill="#00f290"/>
<rect x="382" y="609" width="18" height="18" fill="#00f260"/>
<rect x="400" y="609" width="18" height="18" fill="#00f2a0"/>
<rect x="418" y="609" width="18" height="18" fill="#00f2c0"/>
<rect x="436" y="609" width="19" height="18" fill="#00f2e0"/>
<rect x="455" y="609" width="18" height="18" fill="#00f2c0"/>
<rect x="473" y="609" width="18" height="18" fill="#00f240"/>
<rect x="491" y="609" width="18" height="18" fill="#00f230"/>
<rect x="509" y="609" width="18" height="18" fill="#00f250"/>
<rect x="527" y="609" width="18" height="18" fill="#00f220"/>
<rect x="545" y="609" width="19" height="18" fill="#00e800"/>
<rect x="564" y="609" width="18" height="18" fill="#10e900"/>
<rect x="582" y="609" width="18" height="18" fill="#30eb00"/>
<rect x="600" y="609" width="18" height="18" fill="#68f000"/>
<rect x="618" y="609" width="18" height="18" fill="#80f200"/>
<rect x="636" y="609" width="19" height="18" fill="#90f300"/>
<rect x="655" y="609" width="18" height="18" fill="#98f300"/>
<rect x="673" y="609" width="18" height="18" fill="#a0f400"/>
<rect x="691" y="609" width="18" height="18" fill="#98f300"/>
<rect x="709" y="609" width="18" height="18" fill="#90f300"/>
<rect x="727" y="609" width="18" height="18" fill="#88f200"/>
<rect x="745" y="609" width="19" height="18" fill="#80f200"/>
<rect x="764" y="609" width="18" height="18" fill="#80f200"/>
<rect x="782" y="609" width="18" height="18" fill="#80f200"/>
<rect x="0" y="627" width="18" height="18" fill="#00f240"/>
<rect x="18" y="627" width="18" height="18" fill="#00f240"/>
<rect x="36" y="627" width="19" height="18" fill="#00f240"/>
<rect x="55" y="627" width="18" height="18" fill="#00f240"/>
<rect x="73" y="627" width="18" height="18" fill="#00f240"/>
<rect x="91" y="627" width="18" height="18" fill="#00f260"/>
<rect x="109" y="627" width="18" height="18" fill="#00f260"/>
<rect x="127" y="627" width="18" height="18" fill="#00f240"/>
<rect x="145" y="627" width="19" height="18" fill="#00f230"/>
<rect x="164" y="627" width="18" height="18" fill="#00f230"/>
<rect x="182" y="627" width="18" height="18" fill="#00f220"/>
<rect x="200" y="627" width="18" height="18" fill="#00f260"/>
<rect x="218" y="627" width="18" height="18" fill="#00f280"/>
<rect x="236" y="627" width="19" height="18" fill="#00f2a0"/>
<rect x="255" y="627" width="18" height="18" fill="#00f2b0"/>
<rect x="273" y="627" width="18" height="18" fill="#00f2b0"/>
<rect x="291" y="627" width="18" height="18" fill="#00f2b0"/>
<rect x="309" y="627" width="18" height="18" fill="#00f2c0"/>
<rect x="327" y="627" width="18" height="18" fill="#00f2b0"/>
<rect x="345" y="627" width="19" height="18" fill="#00f2a0"/>
<rect x="364" y="627" width="18" height="18" fill="#00f260"/>
<rect x="382" y="627" width="18" height="18" fill="#00f250"/>
<rect x="400" y="627" width="18" height="18" fill="#00f280"/>
<rect x="418" y="627" width="18" height="18" fill="#00f2b0"/>
<rect x="436" y="627" width="19" height="18" fill="#00f2c0"/>
<rect x="455" y="627" width="18" height="18" fill="#00f2a0"/>
<rect x="473" y="627" width="18" height="18" fill="#00f240"/>
<rect x="491" y="627" width="18" height="18" fill="#00f220"/>
<rect x="509" y="627" width="18" height="18" fill="#00f220"/>
<rect x="527" y="627" width="18" height="18" fill="#10e900"/>
<rect x="545" y="627" width="19" height="18" fill="#20ea00"/>
<rect x="564" y="627" width="18" height="18" fill="#20ea00"/>
<rect x="582" y="627" width="18" height="18" fill="#40ed00"/>
<rect x="600" y="627" width="18" height="18" fill="#58ee00"/>
<rect x="618" y="627" width="18" height="18" fill="#78f100"/>
<rect x="636" y="627" width="19" height="18" fill="#90f300"/>
<rect x="655" y="627" width="18" height="18" fill="#98f300"/>
<rect x="673" y="627" width="18" height="18" fill="#a0f400"/>
<rect x="691" y="627" width="18" height="18" fill="#98f300"/>
<rect x="709" y="627" width="18" height="18" fill="#90f300"/>
<rect x="727" y="627" width="18" height="18" fill="#88f200"/>
<rect x="745" y="627" width="19" height="18" fill="#88f200"/>
<rect x="764" y="627" width="18" height="18" fill="#88f200"/>
<rect x="782" y="627" width="18" height="18" fill="#80f200"/>
<rect x="0" y="645" width="18" height="19" fill="#00f240"/>
<rect x="18" y="645" width="18" height="19" fill="#00f240"/>
<rect x="36" y="645" width="19" height="19" fill="#00f240"/>
<rect x="55" y="645" width="18" height="19" fill="#00f240"/>
<rect x="73" y="645" width="18" height="19" fill="#00f240"/>
<rect x="91" y="645" width="18" height="19" fill="#00f260"/>
<rect x="109" y="645" width="18" height="19" fill="#00f260"/>
<rect x="127" y="645" width="18" height="19" fill="#00f250"/>
<rect x="145" y="645" width="19" height="19" fill="#00f240"/>
<rect x="164" y="645" width="18" height="19" fill="#00f250"/>
<rect x="182" y="645" width="18" height="19" fill="#00f290"/>
<rect x="200" y="645" width="18" height="19" fill="#00f2b0"/>
<rect x="218" y="645" width="18" height="19" fill="#00f2d0"/>
<rect x="236" y="645" width="19" height="19" fill="#00f2e0"/>
<rect x="255" y="645" width="18" height="19" fill="#00f2d0"/>
<rect x="273" y="645" width="18" height="19" fill="#00f2c0"/>
<rect x="291" y="645" width="18" height="19" fill="#00f2b0"/>
<rect x="309" y="645" width="18" height="19" fill="#00f2a0"/>
<rect x="327" y="645" width="18" height="19" fill="#00f2a0"/>
<rect x="345" y="645" width="19" height="19" fill="#00f2a0"/>
<rect x="364" y="645" width="18" height="19" fill="#00f290"/>
<rect x="382" y="645" width="18" height="19" fill="#00f270"/>
<rect x="400" y="645" width="18" height="19" fill="#00f270"/>
<rect x="418" y="645" width="18" height="19" fill="#00f290"/>
<rect x="436" y="645" width="19" height="19" fill="#00f2a0"/>
<rect x="455" y="645" width="18" height="19" fill="#00f240"/>
<rect x="473" y="645" width="18" height="19" fill="#00f200"/>
<rect x="491" y="645" width="18" height="19" fill="#10e900"/>
<rect x="509" y="645" width="18" height="19" fill="#00e800"/>
<rect x="527" y="645" width="18" height="19" fill="#20ea00"/>
<rect x="545" y="645" width="19" height="19" fill="#30eb00"/>
<rect x="564" y="645" width="18" height="19" fill="#30eb00"/>
<rect x="582" y="645" width="18" height="19" fill="#40ed00"/>
<rect x="600" y="645" width="18" height="19" fill="#50ee00"/>
<rect x="618" y="645" width="18" height="19" fill="#70f000"/>
<rect x="636" y="645" width="19" height="19" fill="#90f300"/>
<rect x="655" y="645" width="18" height="19" fill="#98f300"/>
<rect x="673" y="645" width="18" height="19" fill="#a0f400"/>
<rect x="691" y="645" width="18" height="19" fill="#98f300"/>
<rect x="709" y="645" width="18" height="19" fill="#90f300"/>
<rect x="727" y="645" width="18" height="19" fill="#88f200"/>
<rect x="745" y="645" width="19" height="19" fill="#88f200"/>
<rect x="764" y="645" width="18" height="19" fill="#88f200"/>
<rect x="782" y="645" width="18" height="19" fill="#80f200"/>
<rect x="0" y="664" width="18" height="18" fill="#00f240"/>
<rect x="18" y="664" width="18" height="18" fill="#00f240"/>
<rect x="36" y="664" width="19" height="18" fill="#00f240"/>
<rect x="55" y="664" width="18" height="18" fill="#00f240"/>
<rect x="73" y="664" width="18" height="18" fill="#00f240"/>
<rect x="91" y="664" width="18" height="18" fill="#00f240"/>
<rect x="109" y="664" width="18" height="18" fill="#00f240"/>
<rect x="127" y="664" width="18" height="18" fill="#00f240"/>
<rect x="145" y="664" width="19" height="18" fill="#00f250"/>
<rect x="164" y="664" width="18" height="18" fill="#00f260"/>
<rect x="182" y="664" width="18" height="18" fill="#00f280"/>
<rect x="200" y="664" width="18" height="18" fill="#00f2d0"/>
<rect x="218" y="664" width="18" height="18" fill="#00f2e0"/>
<rect x="236" y="664" width="19" height="18" fill="#00f2d8"/>
<rect x="255" y="664" width="18" height="18" fill="#00f2d0"/>
<rect x="273" y="664" width="18" height="18" fill="#00f2c0"/>
<rect x="291" y="664" width="18" height="18" fill="#00f2b0"/>
<rect x="309" y="664" width="18" height="18" fill="#00f2a0"/>
<rect x="327" y="664" width="18" height="18" fill="#00f2a0"/>
<rect x="345" y="664" width="19" height="18" fill="#00f290"/>
<rect x="364" y="664" width="18" height="18" fill="#00f280"/>
<rect x="382" y="664" width="18" height="18" fill="#00f280"/>
<rect x="400" y="664" width="18" height="18" fill="#00f2a0"/>
<rect x="418" y="664" width="18" height="18" fill="#00f280"/>
<rect x="436" y="664" width="19" height="18" fill="#00f240"/>
<rect x="455" y="664" width="18" height="18" fill="#00f220"/>
<rect x="473" y="664" width="18" height="18" fill="#20ea00"/>
<rect x="491" y="664" width="18" height="18" fill="#30eb00"/>
<rect x="509" y="664" width="18" height="18" fill="#40ed00"/>
<rect x="527" y="664" width="18" height="18" fill="#40ed00"/>
<rect x="545" y="664" width="19" height="18" fill="#50ee00"/>
<rect x="564" y="664" width="18" height="18" fill="#50ee00"/>
<rect x="582" y="664" width="18" height="18" fill="#40ed00"/>
<rect x="600" y="664" width="18" height="18" fill="#50ee00"/>
<rect x="618" y="664" width="18" height="18" fill="#60ef00"/>
<rect x="636" y="664" width="19" height="18" fill="#80f200"/>
<rect x="655" y="664" width="18" height="18" fill="#90f300"/>
<rect x="673" y="664" width="18" height="18" fill="#98f300"/>
<rect x="691" y="664" width="18" height="18" fill="#a0f400"/>
<rect x="709" y="664" width="18" height="18" fill="#98f300"/>
<rect x="727" y="664" width="18" height="18" fill="#90f300"/>
<rect x="745" y="664" width="19" height="18" fill="#88f200"/>
<rect x="764" y="664" width="18" height="18" fill="#80f200"/>
<rect x="782" y="664" width="18" height="18" fill="#70f000"/>
<rect x="0" y="682" width="18" height="18" fill="#00f230"/>
<rect x="18" y="682" width="18" height="18" fill="#00f240"/>
<rect x="36" y="682" width="19" height="18" fill="#00f240"/>
<rect x="55" y="682" width="18" height="18" fill="#00f240"/>
<rect x="73" y="682" width="18" height="18" fill="#00f260"/>
<rect x="91" y="682" width="18" height="18" fill="#00f260"/>
<rect x="109" y="682" width="18" height="18" fill="#00f270"/>
<rect x="127" y="682" width="18" height="18" fill="#00f290"/>
<rect x="145" y="682" width="19" height="18" fill="#00f2b0"/>
<rect x="164" y="682" width="18" height="18" fill="#00f2c0"/>
<rect x="182" y="682" width="18" height="18" fill="#00f2d0"/>
<rect x="200" y="682" width="18" height="18" fill="#00f2e0"/>
<rect x="218" y="682" width="18" height="18" fill="#00f2e8"/>
<rect x="236" y="682" width="19" height="18" fill="#00f2e0"/>
<rect x="255" y="682" width="18" height="18" fill="#00f2d0"/>
<rect x="273" y="682" width="18" height="18" fill="#00f2c0"/>
<rect x="291" y="682" width="18" height="18" fill="#00f290"/>
<rect x="309" y="682" width="18" height="18" fill="#00f280"/>
<rect x="327" y="682" width="18" height="18" fill="#00f280"/>
<rect x="345" y="682" width="19" height="18" fill="#00f290"/>
<rect x="364" y="682" width="18" height="18" fill="#00f280"/>
<rect x="382" y="682" width="18" height="18" fill="#00f280"/>
<rect x="400" y="682" width="18" height="18" fill="#00f290"/>
<rect x="418" y="682" width="18" height="18" fill="#00f270"/>
<rect x="436" y="682" width="19" height="18" fill="#00f220"/>
<rect x="455" y="682" width="18" height="18" fill="#00f200"/>
<rect x="473" y="682" width="18" height="18" fill="#30eb00"/>
<rect x="491" y="682" width="18" height="18" fill="#40ed00"/>
<rect x="509" y="682" width="18" height="18" fill="#40ed00"/>
<rect x="527" y="682" width="18" height="18" fill="#40ed00"/>
<rect x="545" y="682" width="19" height="18" fill="#50ee00"/>
<rect x="564" y="682" width="18" height="18" fill="#60ef00"/>
<rect x="582" y="682" width="18" height="18" fill="#50ee00"/>
<rect x="600" y="682" width="18" height="18" fill="#50ee00"/>
<rect x="618" y="682" width="18" height="18" fill="#58ee00"/>
<rect x="636" y="682" width="19" height="18" fill="#70f000"/>
<rect x="655" y="682" width="18" height="18" fill="#88f200"/>
<rect x="673" y="682" width="18" height="18" fill="#98f300"/>
<rect x="691" y="682" width="18" height="18" fill="#a0f400"/>
<rect x="709" y="682" width="18" height="18" fill="#98f300"/>
<rect x="727" y="682" width="18" height="18" fill="#90f300"/>
<rect x="745" y="682" width="19" height="18" fill="#88f200"/>
<rect x="764" y="682" width="18" height="18" fill="#80f200"/>
<rect x="782" y="682" width="18" height="18" fill="#70f000"/>
<rect x="0" y="700" width="18" height="18" fill="#00f230"/>
<rect x="18" y="700" width="18" height="18" fill="#00f240"/>
<rect x="36" y="700" width="19" height="18" fill="#00f240"/>
<rect x="55" y="700" width="18" height="18" fill="#00f240"/>
<rect x="73" y="700" width="18" height="18" fill="#00f240"/>
<rect x="91" y="700" width="18" height="18" fill="#00f250"/>
<rect x="109" y="700" width="18" height="18" fill="#00f280"/>
<rect x="127" y="700" width="18" height="18" fill="#00f2c0"/>
<rect x="145" y="700" width="19" height="18" fill="#00f2e8"/>
<rect x="164" y="700" width="18" height="18" fill="#00f2ff"/>
<rect x="182" y="700" width="18" height="18" fill="#00f2ff"/>
<rect x="200" y="700" width="18" height="18" fill="#00f2f0"/>
<rect x="218" y="700" width="18" height="18" fill="#00f2f0"/>
<rect x="236" y="700" width="19" height="18" fill="#00f2e0"/>
<rect x="255" y="700" width="18" height="18" fill="#00f2d0"/>
<rect x="273" y="700" width="18" height="18" fill="#00f2c0"/>
<rect x="291" y="700" width="18" height="18" fill="#00f2a0"/>
<rect x="309" y="700" width="18" height="18" fill="#00f290"/>
<rect x="327" y="700" width="18" height="18" fill="#00f290"/>
<rect x="345" y="700" width="19" height="18" fill="#00f2a0"/>
<rect x="364" y="700" width="18" height="18" fill="#00f2a0"/>
<rect x="382" y="700" width="18" height="18" fill="#00f290"/>
<rect x="400" y="700" width="18" height="18" fill="#00f280"/>
<rect x="418" y="700" width="18" height="18" fill="#00f260"/>
<rect x="436" y="700" width="19" height="18" fill="#00f210"/>
<rect x="455" y="700" width="18" height="18" fill="#10e900"/>
<rect x="473" y="700" width="18" height="18" fill="#30eb00"/>
<rect x="491" y="700" width="18" height="18" fill="#40ed00"/>
<rect x="509" y="700" width="18" height="18" fill="#50ee00"/>
<rect x="527" y="700" width="18" height="18" fill="#50ee00"/>
<rect x="545" y="700" width="19" height="18" fill="#50ee00"/>
<rect x="564" y="700" width="18" height="18" fill="#60ef00"/>
<rect x="582" y="700" width="18" height="18" fill="#60ef00"/>
<rect x="600" y="700" width="18" height="18" fill="#50ee00"/>
<rect x="618" y="700" width="18" height="18" fill="#58ee00"/>
<rect x="636" y="700" width="19" height="18" fill="#60ef00"/>
<rect x="655" y="700" width="18" height="18" fill="#70f000"/>
<rect x="673" y="700" width="18" height="18" fill="#88f200"/>
<rect x="691" y="700" width="18" height="18" fill="#98f300"/>
<rect x="709" y="700" width="18" height="18" fill="#90f300"/>
<rect x="727" y="700" width="18" height="18" fill="#88f200"/>
<rect x="745" y="700" width="19" height="18" fill="#80f200"/>
<rect x="764" y="700" width="18" height="18" fill="#78f100"/>
<rect x="782" y="700" width="18" height="18" fill="#68f000"/>
<rect x="0" y="718" width="18" height="18" fill="#00f230"/>
<rect x="18" y="718" width="18" height="18" fill="#00f240"/>
<rect x="36" y="718" width="19" height="18" fill="#00f250"/>
<rect x="55" y="718" width="18" height="18" fill="#00f260"/>
<rect x="73" y="718" width="18" height="18" fill="#00f2b0"/>
<rect x="91" y="718" width="18" height="18" fill="#00f2b0"/>
<rect x="109" y="718" width="18" height="18" fill="#00f2c0"/>
<rect x="127" y="718" width="18" height="18" fill="#00f2d0"/>
<rect x="145" y="718" width="19" height="18" fill="#00f2e0"/>
<rect x="164" y="718" width="18" height="18" fill="#00f2f0"/>
<rect x="182" y="718" width="18" height="18" fill="#00f2f0"/>
<rect x="200" y="718" width="18" height="18" fill="#00f2f8"/>
<rect x="218" y="718" width="18" height="18" fill="#00f2f0"/>
<rect x="236" y="718" width="19" height="18" fill="#00f2e0"/>
<rect x="255" y="718" width="18" height="18" fill="#00f2d8"/>
<rect x="273" y="718" width="18" height="18" fill="#00f2c8"/>
<rect x="291" y="718" width="18" height="18" fill="#00f2b0"/>
<rect x="309" y="718" width="18" height="18" fill="#00f2a0"/>
<rect x="327" y="718" width="18" height="18" fill="#00f2a0"/>
<rect x="345" y="718" width="19" height="18" fill="#00f2b0"/>
<rect x="364" y="718" width="18" height="18" fill="#00f2b0"/>
<rect x="382" y="718" width="18" height="18" fill="#00f2a0"/>
<rect x="400" y="718" width="18" height="18" fill="#00f280"/>
<rect x="418" y="718" width="18" height="18" fill="#00f260"/>
<rect x="436" y="718" width="19" height="18" fill="#00f210"/>
<rect x="455" y="718" width="18" height="18" fill="#10e900"/>
<rect x="473" y="718" width="18" height="18" fill="#30eb00"/>
<rect x="491" y="718" width="18" height="18" fill="#40ed00"/>
<rect x="509" y="718" width="18" height="18" fill="#50ee00"/>
<rect x="527" y="718" width="18" height="18" fill="#50ee00"/>
<rect x="545" y="718" width="19" height="18" fill="#50ee00"/>
<rect x="564" y="718" width="18" height="18" fill="#60ef00"/>
<rect x="582" y="718" width="18" height="18" fill="#60ef00"/>
<rect x="600" y="718" width="18" height="18" fill="#50ee00"/>
<rect x="618" y="718" width="18" height="18" fill="#50ee00"/>
<rect x="636" y="718" width="19" height="18" fill="#58ee00"/>
<rect x="655" y="718" width="18" height="18" fill="#68f000"/>
<rect x="673" y="718" width="18" height="18" fill="#88f200"/>
<rect x="691" y="718" width="18" height="18" fill="#98f300"/>
<rect x="709" y="718" width="18" height="18" fill="#90f300"/>
<rect x="727" y="718" width="18" height="18" fill="#88f200"/>
<rect x="745" y="718" width="19" height="18" fill="#80f200"/>
<rect x="764" y="718" width="18" height="18" fill="#70f000"/>
<rect x="782" y="718" width="18" height="18" fill="#68f000"/>
<rect x="0" y="736" width="18" height="18" fill="#00f240"/>
<rect x="18" y="736" width="18" height="18" fill="#00f250"/>
<rect x="36" y="736" width="19" height="18" fill="#00f280"/>
<rect x="55" y="736" width="18" height="18" fill="#00f2a0"/>
<rect x="73" y="736" width="18" height="18" fill="#00f2c0"/>
<rect x="91" y="736" width="18" height="18" fill="#00f2c0"/>
<rect x="109" y="736" width="18" height="18" fill="#00f2d0"/>
<rect x="127" y="736" width="18" height="18" fill="#00f2e0"/>
<rect x="145" y="736" width="19" height="18" fill="#00f2e8"/>
<rect x="164" y="736" width="18" height="18" fill="#00f2f0"/>
<rect x="182" y="736" width="18" height="18" fill="#00f2f0"/>
<rect x="200" y="736" width="18" height="18" fill="#00f2ff"/>
<rect x="218" y="736" width="18" height="18" fill="#00f2f8"/>
<rect x="236" y="736" width="19" height="18" fill="#00f2e8"/>
<rect x="255" y="736" width="18" height="18" fill="#00f2d8"/>
<rect x="273" y="736" width="18" height="18" fill="#00f2d0"/>
<rect x="291" y="736" width="18" height="18" fill="#00f2c0"/>
<rect x="309" y="736" width="18" height="18" fill="#00f2b0"/>
<rect x="327" y="736" width="18" height="18" fill="#00f2b0"/>
<rect x="345" y="736" width="19" height="18" fill="#00f2b0"/>
<rect x="364" y="736" width="18" height="18" fill="#00f2b0"/>
<rect x="382" y="736" width="18" height="18" fill="#00f2a0"/>
<rect x="400" y="736" width="18" height="18" fill="#00f270"/>
<rect x="418" y="736" width="18" height="18" fill="#00f250"/>
<rect x="436" y="736" width="19" height="18" fill="#00f210"/>
<rect x="455" y="736" width="18" height="18" fill="#10e900"/>
<rect x="473" y="736" width="18" height="18" fill="#30eb00"/>
<rect x="491" y="736" width="18" height="18" fill="#40ed00"/>
<rect x="509" y="736" width="18" height="18" fill="#50ee00"/>
<rect x="527" y="736" width="18" height="18" fill="#50ee00"/>
<rect x="545" y="736" width="19" height="18" fill="#50ee00"/>
<rect x="564" y="736" width="18" height="18" fill="#60ef00"/>
<rect x="582" y="736" width="18" height="18" fill="#60ef00"/>
<rect x="600" y="736" width="18" height="18" fill="#50ee00"/>
<rect x="618" y="736" width="18" height="18" fill="#50ee00"/>
<rect x="636" y="736" width="19" height="18" fill="#50ee00"/>
<rect x="655" y="736" width="18" height="18" fill="#60ef00"/>
<rect x="673" y="736" width="18" height="18" fill="#80f200"/>
<rect x="691" y="736" width="18" height="18" fill="#90f300"/>
<rect x="709" y="736" width="18" height="18" fill="#88f200"/>
<rect x="727" y="736" width="18" height="18" fill="#80f200"/>
<rect x="745" y="736" width="19" height="18" fill="#78f100"/>
<rect x="764" y="736" width="18" height="18" fill="#70f000"/>
<rect x="782" y="736" width="18" height="18" fill="#60ef00"/>
<rect x="0" y="754" width="18" height="19" fill="#00f240"/>
<rect x="18" y="754" width="18" height="19" fill="#00f260"/>
<rect x="36" y="754" width="19" height="19" fill="#00f290"/>
<rect x="55" y="754" width="18" height="19" fill="#00f2b0"/>
<rect x="73" y="754" width="18" height="19" fill="#00f2c8"/>
<rect x="91" y="754" width="18" height="19" fill="#00f2d0"/>
<rect x="109" y="754" width="18" height="19" fill="#00f2e0"/>
<rect x="127" y="754" width="18" height="19" fill="#00f2e0"/>
<rect x="145" y="754" width="19" height="19" fill="#00f2f0"/>
<rect x="164" y="754" width="18" height="19" fill="#00f2f8"/>
<rect x="182" y="754" width="18" height="19" fill="#00f2f8"/>
<rect x="200" y="754" width="18" height="19" fill="#00f2ff"/>
<rect x="218" y="754" width="18" height="19" fill="#00f2ff"/>
<rect x="236" y="754" width="19" height="19" fill="#00f2f0"/>
<rect x="255" y="754" width="18" height="19" fill="#00f2e0"/>
<rect x="273" y="754" width="18" height="19" fill="#00f2d8"/>
<rect x="291" y="754" width="18" height="19" fill="#00f2c8"/>
<rect x="309" y="754" width="18" height="19" fill="#00f2c0"/>
<rect x="327" y="754" width="18" height="19" fill="#00f2b0"/>
<rect x="345" y="754" width="19" height="19" fill="#00f2a0"/>
<rect x="364" y="754" width="18" height="19" fill="#00f280"/>
<rect x="382" y="754" width="18" height="19" fill="#00f260"/>
<rect x="400" y="754" width="18" height="19" fill="#00f270"/>
<rect x="418" y="754" width="18" height="19" fill="#00f250"/>
<rect x="436" y="754" width="19" height="19" fill="#00f210"/>
<rect x="455" y="754" width="18" height="19" fill="#10e900"/>
<rect x="473" y="754" width="18" height="19" fill="#30eb00"/>
<rect x="491" y="754" width="18" height="19" fill="#40ed00"/>
<rect x="509" y="754" width="18" height="19" fill="#50ee00"/>
<rect x="527" y="754" width="18" height="19" fill="#50ee00"/>
<rect x="545" y="754" width="19" height="19" fill="#50ee00"/>
<rect x="564" y="754" width="18" height="19" fill="#60ef00"/>
<rect x="582" y="754" width="18" height="19" fill="#50ee00"/>
<rect x="600" y="754" width="18" height="19" fill="#50ee00"/>
<rect x="618" y="754" width="18" height="19" fill="#50ee00"/>
<rect x="636" y="754" width="19" height="19" fill="#50ee00"/>
<rect x="655" y="754" width="18" height="19" fill="#60ef00"/>
<rect x="673" y="754" width="18" height="19" fill="#80f200"/>
<rect x="691" y="754" width="18" height="19" fill="#88f200"/>
<rect x="709" y="754" width="18" height="19" fill="#80f200"/>
<rect x="727" y="754" width="18" height="19" fill="#78f100"/>
<rect x="745" y="754" width="19" height="19" fill="#70f000"/>
<rect x="764" y="754" width="18" height="19" fill="#70f000"/>
<rect x="782" y="754" width="18" height="19" fill="#60ef00"/>
</g>
<g stroke="#fff" stroke-width="1" fill="none" stroke-linecap="square" shape-rendering="crispEdges">
<path d="M718.2 36.3L722.7 20.4M717.6 26.5L722.7 20.4L723.9 28.2"/>
<path d="M772.7 36.3L782.0 17.2M774.2 23.7L782.0 17.2L781.7 27.4"/>
<path d="M790.9 36.3L801.1 17.1M792.9 23.6L801.1 17.1L800.4 27.5"/>
<path d="M700.0 54.5L704.7 32.4M698.3 41.2L704.7 32.4L706.9 43.0"/>
<path d="M718.2 54.5L724.4 32.8M717.4 41.1L724.4 32.8L725.9 43.5"/>
<path d="M754.5 54.5L763.4 34.7M755.6 41.6L763.4 34.7L763.4 45.1"/>
<path d="M772.7 54.5L782.4 34.6M774.3 41.4L782.4 34.6L782.0 45.2"/>
<path d="M790.9 54.5L800.9 35.7M792.8 42.0L800.9 35.7L800.2 45.9"/>
<path d="M681.8 72.7L684.8 51.6M679.4 60.3L684.8 51.6L687.6 61.4"/>
<path d="M700.0 72.7L705.0 49.4M698.2 58.6L705.0 49.4L707.3 60.5"/>
<path d="M718.2 72.7L725.0 48.9M717.4 58.0L725.0 48.9L726.6 60.7"/>
<path d="M736.4 72.7L744.9 49.1M736.6 57.7L744.9 49.1L745.8 61.1"/>
<path d="M754.5 72.7L764.6 50.1M755.8 58.0L764.6 50.1L764.6 62.0"/>
<path d="M772.7 72.7L783.2 51.3M774.4 58.6L783.2 51.3L782.8 62.7"/>
<path d="M790.9 72.7L801.3 53.1M792.9 59.7L801.3 53.1L800.5 63.7"/>
<path d="M663.6 90.8L665.3 78.2M662.1 83.4L665.3 78.2L667.0 84.1"/>
<path d="M681.8 90.8L684.8 69.4M679.3 78.2L684.8 69.4L687.7 79.4"/>
<path d="M700.0 90.8L704.8 68.4M698.3 77.3L704.8 68.4L707.1 79.2"/>
<path d="M718.2 90.8L724.7 67.9M717.4 76.7L724.7 67.9L726.3 79.3"/>
<path d="M736.4 90.8L744.7 68.1M736.6 76.4L744.7 68.1L745.5 79.7"/>
<path d="M754.5 90.8L764.2 69.1M755.7 76.7L764.2 69.1L764.2 80.5"/>
<path d="M772.7 90.8L783.2 69.4M774.4 76.8L783.2 69.4L782.8 80.9"/>
<path d="M790.9 90.8L801.9 70.2M793.0 77.1L801.9 70.2L801.1 81.4"/>
<path d="M681.8 109.0L684.8 87.5M679.3 96.4L684.8 87.5L687.7 97.6"/>
<path d="M700.0 109.0L704.7 87.0M698.3 95.7L704.7 87.0L706.9 97.6"/>
<path d="M718.2 109.0L724.5 86.9M717.4 95.4L724.5 86.9L726.0 97.9"/>
<path d="M736.4 109.0L744.4 87.0M736.6 95.1L744.4 87.0L745.1 98.2"/>
<path d="M754.5 109.0L764.4 86.9M755.8 94.7L764.4 86.9L764.4 98.5"/>
<path d="M772.7 109.0L783.4 87.2M774.4 94.7L783.4 87.2L782.9 98.9"/>
<path d="M790.9 109.0L801.5 89.1M793.0 95.8L801.5 89.1L800.7 99.9"/>
<path d="M663.6 127.2L667.5 104.1M661.3 113.5L667.5 104.1L670.3 115.0"/>
<path d="M681.8 127.2L685.9 104.2M679.6 113.5L685.9 104.2L688.6 115.1"/>
<path d="M700.0 127.2L705.1 104.4M698.4 113.4L705.1 104.4L707.3 115.4"/>
<path d="M718.2 127.2L724.2 104.6M717.2 113.3L724.2 104.6L726.0 115.7"/>
<path d="M736.4 127.2L743.9 104.6M736.2 113.0L743.9 104.6L745.0 116.0"/>
<path d="M754.5 127.2L763.9 104.1M755.3 112.4L763.9 104.1L764.3 116.1"/>
<path d="M772.7 127.2L782.8 104.5M774.0 112.5L782.8 104.5L782.8 116.4"/>
<path d="M790.9 127.2L801.3 105.8M792.6 113.1L801.3 105.8L800.9 117.2"/>
<path d="M645.5 145.4L648.8 124.4M643.2 132.9L648.8 124.4L651.4 134.2"/>
<path d="M663.6 145.4L667.4 122.9M661.4 132.1L667.4 122.9L670.1 133.5"/>
<path d="M681.8 145.4L685.7 123.2M679.7 132.2L685.7 123.2L688.3 133.7"/>
<path d="M700.0 145.4L704.9 123.2M698.4 132.0L704.9 123.2L707.1 133.9"/>
<path d="M718.2 145.4L724.1 123.4M717.2 131.9L724.1 123.4L725.8 134.2"/>
<path d="M736.4 145.4L743.7 123.4M736.2 131.6L743.7 123.4L744.8 134.5"/>
<path d="M754.5 145.4L763.4 123.5M755.2 131.4L763.4 123.5L763.8 134.8"/>
<path d="M772.7 145.4L782.4 123.6M773.9 131.3L782.4 123.6L782.4 135.1"/>
<path d="M790.9 145.4L801.0 124.7M792.5 131.8L801.0 124.7L800.6 135.8"/>
<path d="M645.5 163.6L648.8 142.6M643.2 151.1L648.8 142.6L651.4 152.4"/>
<path d="M663.6 163.6L667.4 141.1M661.4 150.2L667.4 141.1L670.1 151.7"/>
<path d="M681.8 163.6L685.7 141.4M679.7 150.3L685.7 141.4L688.3 151.9"/>
<path d="M700.0 163.6L704.9 141.4M698.4 150.1L704.9 141.4L707.1 152.1"/>
<path d="M718.2 163.6L724.1 141.6M717.2 150.1L724.1 141.6L725.8 152.4"/>
<path d="M736.4 163.6L743.7 141.6M736.2 149.8L743.7 141.6L744.8 152.7"/>
<path d="M754.5 163.6L763.3 141.9M755.2 149.7L763.3 141.9L763.7 153.1"/>
<path d="M772.7 163.6L782.4 141.8M773.9 149.5L782.4 141.8L782.4 153.2"/>
<path d="M790.9 163.6L800.4 144.1M792.4 150.8L800.4 144.1L800.0 154.5"/>
<path d="M627.3 181.7L630.8 158.2M624.7 167.8L630.8 158.2L633.8 169.2"/>
<path d="M645.5 181.7L649.2 158.2M643.0 167.8L649.2 158.2L652.1 169.3"/>
<path d="M663.6 181.7L667.5 158.7M661.3 168.0L667.5 158.7L670.3 169.5"/>
<path d="M681.8 181.7L685.8 159.1M679.6 168.3L685.8 159.1L688.5 169.8"/>
<path d="M700.0 181.7L704.9 159.7M698.4 168.4L704.9 159.7L707.0 170.3"/>
<path d="M718.2 181.7L724.0 160.0M717.2 168.4L724.0 160.0L725.7 170.7"/>
<path d="M736.4 181.7L743.7 159.8M736.2 168.0L743.7 159.8L744.8 170.8"/>
<path d="M754.5 181.7L763.5 159.7M755.2 167.6L763.5 159.7L763.9 171.1"/>
<path d="M772.7 181.7L782.5 159.8M773.9 167.5L782.5 159.8L782.5 171.3"/>
<path d="M790.9 181.7L800.9 161.3M792.5 168.3L800.9 161.3L800.5 172.2"/>
<path d="M609.1 199.9L612.0 178.9M606.6 187.5L612.0 178.9L614.9 188.7"/>
<path d="M627.3 199.9L630.9 175.7M624.6 185.6L630.9 175.7L634.0 187.1"/>
<path d="M645.5 199.9L649.2 176.0M642.9 185.7L649.2 176.0L652.3 187.2"/>
<path d="M663.6 199.9L667.6 176.4M661.3 186.0L667.6 176.4L670.4 187.5"/>
<path d="M681.8 199.9L685.9 176.9M679.6 186.2L685.9 176.9L688.6 187.8"/>
<path d="M700.0 199.9L705.2 176.7M698.4 185.9L705.2 176.7L707.4 187.9"/>
<path d="M718.2 199.9L724.2 177.3M717.2 186.1L724.2 177.3L726.0 188.4"/>
<path d="M736.4 199.9L743.9 177.3M736.2 185.8L743.9 177.3L745.0 188.7"/>
<path d="M754.5 199.9L763.7 177.3M755.3 185.4L763.7 177.3L764.1 189.0"/>
<path d="M772.7 199.9L783.2 176.4M774.0 184.7L783.2 176.4L783.2 188.8"/>
<path d="M790.9 199.9L801.5 178.1M792.6 185.6L801.5 178.1L801.1 189.8"/>
<path d="M590.9 218.1L594.8 198.1M589.2 206.1L594.8 198.1L597.0 207.6"/>
<path d="M609.1 218.1L614.7 195.4M607.8 204.3L614.7 195.4L616.7 206.5"/>
<path d="M627.3 218.1L633.7 194.7M626.3 203.7L633.7 194.7L635.4 206.2"/>
<path d="M645.5 218.1L652.3 195.3M644.8 204.0L652.3 195.3L653.7 206.6"/>
<path d="M663.6 218.1L671.0 195.5M663.3 204.0L671.0 195.5L672.2 206.8"/>
<path d="M681.8 218.1L689.4 195.5M681.7 204.0L689.4 195.5L690.5 206.9"/>
<path d="M700.0 218.1L708.0 195.0M700.0 203.6L708.0 195.0L709.0 206.7"/>
<path d="M718.2 218.1L726.3 195.1M718.3 203.6L726.3 195.1L727.3 206.8"/>
<path d="M736.4 218.1L744.9 194.7M736.6 203.3L744.9 194.7L745.7 206.6"/>
<path d="M754.5 218.1L763.8 194.3M755.1 202.9L763.8 194.3L764.4 206.6"/>
<path d="M772.7 218.1L782.9 193.8M773.7 202.5L782.9 193.8L783.2 206.4"/>
<path d="M790.9 218.1L801.3 194.8M792.2 203.0L801.3 194.8L801.3 207.0"/>
<path d="M572.7 236.3L575.2 218.9M570.7 226.1L575.2 218.9L577.5 227.0"/>
<path d="M590.9 236.3L595.2 214.2M589.0 223.0L595.2 214.2L597.6 224.7"/>
<path d="M609.1 236.3L614.7 213.6M607.8 222.4L614.7 213.6L616.7 224.7"/>
<path d="M627.3 236.3L633.6 213.3M626.3 222.2L633.6 213.3L635.3 224.6"/>
<path d="M645.5 236.3L652.3 213.5M644.8 222.1L652.3 213.5L653.7 224.8"/>
<path d="M663.6 236.3L671.0 213.6M663.3 222.1L671.0 213.6L672.2 225.0"/>
<path d="M681.8 236.3L689.4 213.5M681.7 222.0L689.4 213.5L690.5 225.0"/>
<path d="M700.0 236.3L708.0 213.2M700.0 221.8L708.0 213.2L709.0 224.9"/>
<path d="M718.2 236.3L726.5 212.8M718.3 221.5L726.5 212.8L727.4 224.7"/>
<path d="M736.4 236.3L745.1 212.3M736.6 221.1L745.1 212.3L745.9 224.5"/>
<path d="M754.5 236.3L764.0 212.1M755.1 220.9L764.0 212.1L764.6 224.6"/>
<path d="M772.7 236.3L783.0 211.8M773.7 220.5L783.0 211.8L783.3 224.5"/>
<path d="M790.9 236.3L801.5 212.6M792.2 220.9L801.5 212.6L801.5 225.0"/>
<path d="M554.5 254.5L556.8 236.6M552.4 244.0L556.8 236.6L559.3 244.9"/>
<path d="M572.7 254.5L575.7 233.4M570.3 242.1L575.7 233.4L578.5 243.2"/>
<path d="M590.9 254.5L595.2 232.4M589.0 241.2L595.2 232.4L597.6 242.9"/>
<path d="M609.1 254.5L614.6 232.2M607.9 240.9L614.6 232.2L616.6 243.0"/>
<path d="M627.3 254.5L633.3 232.3M626.4 240.9L633.3 232.3L635.0 243.2"/>
<path d="M645.5 254.5L652.0 232.5M644.9 240.8L652.0 232.5L653.4 243.4"/>
<path d="M663.6 254.5L670.9 232.2M663.4 240.6L670.9 232.2L672.0 243.4"/>
<path d="M681.8 254.5L689.4 231.7M681.7 240.2L689.4 231.7L690.5 243.2"/>
<path d="M700.0 254.5L707.9 231.6M700.0 240.1L707.9 231.6L708.9 243.1"/>
<path d="M718.2 254.5L726.4 231.2M718.3 239.8L726.4 231.2L727.3 243.0"/>
<path d="M736.4 254.5L745.0 230.7M736.6 239.4L745.0 230.7L745.9 242.8"/>
<path d="M754.5 254.5L764.1 230.1M755.1 238.9L764.1 230.1L764.6 242.6"/>
<path d="M772.7 254.5L783.1 229.7M773.7 238.6L783.1 229.7L783.4 242.6"/>
<path d="M790.9 254.5L801.5 230.8M792.2 239.1L801.5 230.8L801.5 243.2"/>
<path d="M209.1 272.7L218.4 264.9M212.8 266.5L218.4 264.9L215.8 270.1"/>
<path d="M554.5 272.7L557.1 252.4M552.1 260.8L557.1 252.4L560.0 261.8"/>
<path d="M572.7 272.7L575.7 251.2M570.2 260.0L575.7 251.2L578.6 261.2"/>
<path d="M590.9 272.7L595.1 251.0M589.0 259.6L595.1 251.0L597.5 261.3"/>
<path d="M609.1 272.7L614.7 250.0M607.8 258.8L614.7 250.0L616.7 261.0"/>
<path d="M627.3 272.7L633.3 250.5M626.4 259.0L633.3 250.5L635.0 261.4"/>
<path d="M645.5 272.7L651.9 251.1M644.9 259.3L651.9 251.1L653.3 261.8"/>
<path d="M663.6 272.7L670.9 250.4M663.4 258.8L670.9 250.4L672.0 261.6"/>
<path d="M681.8 272.7L689.4 250.1M681.7 258.5L689.4 250.1L690.5 261.4"/>
<path d="M700.0 272.7L707.8 249.9M700.0 258.4L707.8 249.9L708.8 261.4"/>
<path d="M718.2 272.7L726.3 249.8M718.3 258.2L726.3 249.8L727.2 261.4"/>
<path d="M736.4 272.7L745.1 248.7M736.6 257.5L745.1 248.7L745.9 260.9"/>
<path d="M754.5 272.7L764.1 248.1M755.1 257.0L764.1 248.1L764.7 260.7"/>
<path d="M772.7 272.7L783.1 247.9M773.7 256.8L783.1 247.9L783.4 260.8"/>
<path d="M790.9 272.7L801.5 249.0M792.2 257.3L801.5 249.0L801.5 261.4"/>
<path d="M209.1 290.8L218.1 283.3M212.7 284.9L218.1 283.3L215.6 288.4"/>
<path d="M227.3 290.8L236.6 283.4M231.0 284.8L236.6 283.4L234.0 288.5"/>
<path d="M245.5 290.8L255.1 283.4M249.4 284.8L255.1 283.4L252.3 288.6"/>
<path d="M263.6 290.8L273.1 283.9M267.6 285.1L273.1 283.9L270.3 288.8"/>
<path d="M281.8 290.8L291.6 284.0M286.0 285.1L291.6 284.0L288.6 288.9"/>
<path d="M536.4 290.8L538.4 275.4M534.5 281.8L538.4 275.4L540.5 282.5"/>
<path d="M554.5 290.8L557.6 270.7M552.3 278.9L557.6 270.7L560.2 280.1"/>
<path d="M572.7 290.8L576.4 269.9M570.7 278.4L576.4 269.9L578.9 279.8"/>
<path d="M590.9 290.8L596.3 269.4M589.7 277.7L596.3 269.4L598.1 279.8"/>
<path d="M609.1 290.8L616.3 268.6M608.8 276.9L616.3 268.6L617.5 279.8"/>
<path d="M627.3 290.8L634.7 269.6M627.3 277.4L634.7 269.6L635.6 280.4"/>
<path d="M645.5 290.8L653.1 270.6M645.8 278.0L653.1 270.6L653.7 280.9"/>
<path d="M663.6 290.8L671.9 270.3M664.3 277.7L671.9 270.3L672.3 280.9"/>
<path d="M681.8 290.8L691.1 268.9M682.7 276.7L691.1 268.9L691.3 280.3"/>
<path d="M700.0 290.8L709.7 268.8M701.1 276.6L709.7 268.8L709.7 280.4"/>
<path d="M718.2 290.8L728.4 268.6M719.5 276.4L728.4 268.6L728.2 280.3"/>
<path d="M736.4 290.8L747.2 268.0M738.0 275.9L747.2 268.0L746.9 280.1"/>
<path d="M754.5 290.8L766.0 267.6M756.5 275.5L766.0 267.6L765.5 280.0"/>
<path d="M772.7 290.8L784.9 267.2M774.9 275.2L784.9 267.2L784.2 279.9"/>
<path d="M790.9 290.8L803.0 268.1M793.3 275.7L803.0 268.1L802.1 280.4"/>
<path d="M227.3 309.0L235.8 302.3M230.8 303.6L235.8 302.3L233.4 306.9"/>
<path d="M245.5 309.0L255.2 301.8M249.5 303.1L255.2 301.8L252.3 306.9"/>
<path d="M263.6 309.0L273.8 302.0M268.0 303.1L273.8 302.0L270.7 307.0"/>
<path d="M281.8 309.0L292.2 302.3M286.3 303.2L292.2 302.3L288.9 307.2"/>
<path d="M300.0 309.0L310.0 302.9M304.4 303.6L310.0 302.9L306.8 307.5"/>
<path d="M318.2 309.0L327.8 303.5M322.5 304.0L327.8 303.5L324.6 307.8"/>
<path d="M500.0 309.0L502.2 293.6M498.2 299.9L502.2 293.6L504.2 300.8"/>
<path d="M518.2 309.0L520.8 292.7M516.4 299.3L520.8 292.7L522.8 300.3"/>
<path d="M536.4 309.0L539.6 290.8M534.6 298.2L539.6 290.8L541.7 299.4"/>
<path d="M554.5 309.0L558.2 290.4M552.9 297.9L558.2 290.4L560.2 299.3"/>
<path d="M572.7 309.0L576.8 290.0M571.3 297.6L576.8 290.0L578.7 299.1"/>
<path d="M590.9 309.0L596.6 289.0M590.2 296.7L596.6 289.0L598.0 298.9"/>
<path d="M609.1 309.0L616.9 287.4M609.3 295.4L616.9 287.4L617.7 298.4"/>
<path d="M627.3 309.0L635.7 288.1M627.9 295.6L635.7 288.1L636.1 298.9"/>
<path d="M645.5 309.0L654.3 289.2M646.5 296.2L654.3 289.2L654.3 299.6"/>
<path d="M663.6 309.0L673.0 289.9M665.1 296.5L673.0 289.9L672.6 300.1"/>
<path d="M681.8 309.0L691.9 288.9M683.5 295.7L691.9 288.9L691.4 299.7"/>
<path d="M700.0 309.0L710.7 288.2M701.9 295.2L710.7 288.2L710.1 299.4"/>
<path d="M718.2 309.0L729.1 288.3M720.2 295.3L729.1 288.3L728.3 299.5"/>
<path d="M736.4 309.0L747.6 288.0M738.6 295.0L747.6 288.0L746.8 299.4"/>
<path d="M754.5 309.0L766.2 287.8M757.0 294.8L766.2 287.8L765.3 299.4"/>
<path d="M772.7 309.0L785.1 287.2M775.4 294.3L785.1 287.2L783.9 299.2"/>
<path d="M790.9 309.0L803.7 286.9M793.8 294.1L803.7 286.9L802.4 299.1"/>
<path d="M263.6 327.2L274.0 321.7M268.4 322.1L274.0 321.7L270.5 326.1"/>
<path d="M281.8 327.2L292.4 321.7M286.7 322.0L292.4 321.7L288.8 326.2"/>
<path d="M300.0 327.2L310.2 322.0M304.7 322.3L310.2 322.0L306.8 326.3"/>
<path d="M318.2 327.2L328.5 322.1M323.0 322.3L328.5 322.1L325.0 326.3"/>
<path d="M336.4 327.2L346.7 322.2M341.2 322.4L346.7 322.2L343.1 326.4"/>
<path d="M354.5 327.2L364.9 322.3M359.4 322.4L364.9 322.3L361.3 326.4"/>
<path d="M372.7 327.2L384.5 321.7M378.3 321.8L384.5 321.7L380.4 326.4"/>
<path d="M390.9 327.2L403.3 319.3M396.3 320.4L403.3 319.3L399.4 325.2"/>
<path d="M409.1 327.2L420.3 317.8M413.6 319.7L420.3 317.8L417.2 324.1"/>
<path d="M427.3 327.2L437.1 317.4M430.9 319.8L437.1 317.4L434.7 323.6"/>
<path d="M445.5 327.2L454.9 316.0M448.5 319.1L454.9 316.0L452.9 322.7"/>
<path d="M463.6 327.2L472.3 313.6M465.8 317.9L472.3 313.6L471.1 321.3"/>
<path d="M481.8 327.2L490.0 309.6M483.0 315.7L490.0 309.6L489.9 318.9"/>
<path d="M500.0 327.2L503.4 308.1M498.2 315.8L503.4 308.1L505.6 317.1"/>
<path d="M518.2 327.2L522.0 307.2M516.4 315.2L522.0 307.2L524.2 316.7"/>
<path d="M536.4 327.2L540.0 309.1M534.9 316.3L540.0 309.1L541.9 317.7"/>
<path d="M554.5 327.2L558.2 310.1M553.2 316.9L558.2 310.1L559.9 318.3"/>
<path d="M572.7 327.2L577.4 309.8M571.9 316.5L577.4 309.8L578.7 318.3"/>
<path d="M590.9 327.2L596.8 309.2M590.7 315.9L596.8 309.2L597.7 318.2"/>
<path d="M609.1 327.2L617.0 306.6M609.5 314.1L617.0 306.6L617.6 317.2"/>
<path d="M627.3 327.2L636.3 307.0M628.4 314.1L636.3 307.0L636.3 317.6"/>
<path d="M645.5 327.2L654.6 308.0M646.8 314.6L654.6 308.0L654.3 318.2"/>
<path d="M663.6 327.2L673.3 308.3M665.4 314.7L673.3 308.3L672.8 318.5"/>
<path d="M681.8 327.2L692.4 307.8M683.9 314.2L692.4 307.8L691.5 318.4"/>
<path d="M700.0 327.2L711.5 307.3M702.6 313.8L711.5 307.3L710.3 318.3"/>
<path d="M718.2 327.2L730.1 307.1M720.9 313.6L730.1 307.1L728.8 318.2"/>
<path d="M736.4 327.2L748.7 306.8M739.3 313.4L748.7 306.8L747.3 318.2"/>
<path d="M754.5 327.2L767.1 307.0M757.6 313.4L767.1 307.0L765.5 318.3"/>
<path d="M772.7 327.2L785.7 306.7M776.0 313.2L785.7 306.7L784.0 318.2"/>
<path d="M790.9 327.2L804.3 306.5M794.4 313.0L804.3 306.5L802.5 318.2"/>
<path d="M300.0 345.4L310.7 341.9M305.3 341.3L310.7 341.9L306.7 345.5"/>
<path d="M318.2 345.4L328.9 341.8M323.5 341.3L328.9 341.8L324.9 345.4"/>
<path d="M336.4 345.4L347.0 341.6M341.6 341.2L347.0 341.6L343.1 345.4"/>
<path d="M354.5 345.4L365.1 341.5M359.7 341.1L365.1 341.5L361.3 345.3"/>
<path d="M372.7 345.4L383.1 339.4M377.4 340.0L383.1 339.4L379.7 344.1"/>
<path d="M390.9 345.4L402.4 337.1M395.7 338.5L402.4 337.1L399.0 342.9"/>
<path d="M409.1 345.4L419.8 335.7M413.2 337.9L419.8 335.7L417.0 342.1"/>
<path d="M427.3 345.4L437.3 334.7M430.8 337.4L437.3 334.7L435.0 341.3"/>
<path d="M445.5 345.4L454.5 333.8M448.3 337.1L454.5 333.8L452.8 340.7"/>
<path d="M463.6 345.4L472.1 332.3M465.9 336.4L472.1 332.3L471.0 339.7"/>
<path d="M481.8 345.4L490.7 328.6M483.5 334.2L490.7 328.6L490.1 337.7"/>
<path d="M500.0 345.4L505.0 325.2M498.9 333.1L505.0 325.2L506.8 335.0"/>
<path d="M518.2 345.4L523.5 325.2M517.2 333.0L523.5 325.2L525.1 335.1"/>
<path d="M536.4 345.4L541.4 327.1M535.6 334.1L541.4 327.1L542.7 336.1"/>
<path d="M554.5 345.4L559.4 328.5M554.0 335.0L559.4 328.5L560.5 336.9"/>
<path d="M572.7 345.4L578.6 328.4M572.7 334.7L578.6 328.4L579.3 337.0"/>
<path d="M590.9 345.4L598.2 327.4M591.5 333.8L598.2 327.4L598.5 336.7"/>
<path d="M609.1 345.4L616.8 328.6M610.1 334.4L616.8 328.6L616.7 337.4"/>
<path d="M627.3 345.4L636.9 326.4M629.0 332.9L636.9 326.4L636.4 336.6"/>
<path d="M645.5 345.4L655.5 326.2M647.4 332.6L655.5 326.2L654.9 336.6"/>
<path d="M663.6 345.4L673.8 326.7M665.7 332.9L673.8 326.7L673.0 336.9"/>
<path d="M681.8 345.4L692.6 326.1M684.1 332.4L692.6 326.1L691.6 336.7"/>
<path d="M700.0 345.4L711.7 325.1M702.6 331.7L711.7 325.1L710.5 336.3"/>
<path d="M718.2 345.4L730.1 325.3M720.9 331.8L730.1 325.3L728.8 336.4"/>
<path d="M736.4 345.4L748.5 325.4M739.3 331.8L748.5 325.4L747.1 336.5"/>
<path d="M754.5 345.4L766.9 325.5M757.6 331.8L766.9 325.5L765.3 336.6"/>
<path d="M772.7 345.4L785.5 325.3M776.0 331.6L785.5 325.3L783.8 336.6"/>
<path d="M790.9 345.4L803.9 325.4M794.3 331.6L803.9 325.4L802.1 336.7"/>
<path d="M300.0 363.6L310.9 360.6M305.5 359.8L310.9 360.6L306.7 364.1"/>
<path d="M318.2 363.6L329.5 360.5M323.9 359.7L329.5 360.5L325.1 364.1"/>
<path d="M336.4 363.6L347.3 360.6M341.9 359.8L347.3 360.6L343.1 364.1"/>
<path d="M354.5 363.6L365.2 360.7M360.0 359.9L365.2 360.7L361.1 364.0"/>
<path d="M372.7 363.6L382.7 358.3M377.3 358.6L382.7 358.3L379.4 362.5"/>
<path d="M390.9 363.6L400.8 356.9M395.2 357.9L400.8 356.9L397.8 361.7"/>
<path d="M409.1 363.6L419.6 354.8M413.3 356.6L419.6 354.8L416.7 360.7"/>
<path d="M427.3 363.6L437.3 353.6M430.9 356.0L437.3 353.6L434.8 359.9"/>
<path d="M445.5 363.6L454.9 352.3M448.5 355.4L454.9 352.3L452.9 359.1"/>
<path d="M463.6 363.6L472.7 351.1M466.3 354.8L472.7 351.1L471.1 358.3"/>
<path d="M481.8 363.6L490.8 349.1M484.1 353.7L490.8 349.1L489.7 357.2"/>
<path d="M500.0 363.6L508.1 347.0M501.3 352.7L508.1 347.0L507.8 355.8"/>
<path d="M518.2 363.6L525.2 344.4M518.4 351.4L525.2 344.4L525.8 354.2"/>
<path d="M536.4 363.6L543.2 345.9M536.7 352.3L543.2 345.9L543.6 355.0"/>
<path d="M554.5 363.6L561.3 346.9M555.1 352.9L561.3 346.9L561.6 355.5"/>
<path d="M572.7 363.6L580.1 346.6M573.6 352.6L580.1 346.6L580.2 355.5"/>
<path d="M590.9 363.6L599.2 346.0M592.1 352.1L599.2 346.0L599.0 355.3"/>
<path d="M609.1 363.6L618.7 344.6M610.8 351.0L618.7 344.6L618.2 354.8"/>
<path d="M627.3 363.6L637.3 344.8M629.2 351.1L637.3 344.8L636.5 355.0"/>
<path d="M645.5 363.6L656.0 344.6M647.7 350.9L656.0 344.6L655.1 355.0"/>
<path d="M663.6 363.6L674.0 345.5M666.0 351.4L674.0 345.5L673.0 355.5"/>
<path d="M681.8 363.6L693.2 344.6M684.5 350.7L693.2 344.6L691.9 355.1"/>
<path d="M700.0 363.6L712.4 343.7M703.1 350.0L712.4 343.7L710.8 354.8"/>
<path d="M718.2 363.6L730.6 344.2M721.4 350.3L730.6 344.2L728.9 355.1"/>
<path d="M736.4 363.6L748.7 344.7M739.6 350.6L748.7 344.7L747.0 355.4"/>
<path d="M754.5 363.6L767.1 344.8M757.9 350.6L767.1 344.8L765.2 355.5"/>
<path d="M772.7 363.6L785.7 344.6M776.3 350.4L785.7 344.6L783.7 355.5"/>
<path d="M790.9 363.6L804.3 344.4M794.7 350.2L804.3 344.4L802.2 355.4"/>
<path d="M281.8 381.7L292.3 379.9M287.3 378.7L292.3 379.9L288.1 382.8"/>
<path d="M300.0 381.7L311.9 379.5M306.3 378.2L311.9 379.5L307.1 382.8"/>
<path d="M318.2 381.7L329.9 379.5M324.3 378.2L329.9 379.5L325.2 382.8"/>
<path d="M336.4 381.7L347.4 379.5M342.1 378.3L347.4 379.5L343.0 382.6"/>
<path d="M354.5 381.7L365.0 379.5M360.0 378.5L365.0 379.5L360.8 382.5"/>
<path d="M372.7 381.7L382.9 377.9M377.7 377.6L382.9 377.9L379.2 381.5"/>
<path d="M390.9 381.7L401.1 375.9M395.5 376.5L401.1 375.9L397.7 380.4"/>
<path d="M409.1 381.7L419.8 374.0M413.6 375.3L419.8 374.0L416.6 379.5"/>
<path d="M427.3 381.7L437.3 372.8M431.1 374.7L437.3 372.8L434.6 378.6"/>
<path d="M445.5 381.7L455.5 371.4M449.0 374.0L455.5 371.4L453.1 377.9"/>
<path d="M463.6 381.7L473.4 370.2M466.8 373.3L473.4 370.2L471.4 377.1"/>
<path d="M481.8 381.7L491.6 368.3M484.7 372.3L491.6 368.3L489.9 376.1"/>
<path d="M500.0 381.7L508.3 368.5M502.1 372.7L508.3 368.5L507.2 375.9"/>
<path d="M518.2 381.7L527.5 366.9M520.5 371.6L527.5 366.9L526.3 375.2"/>
<path d="M536.4 381.7L546.7 365.3M538.9 370.5L546.7 365.3L545.4 374.5"/>
<path d="M554.5 381.7L565.4 364.4M557.2 369.9L565.4 364.4L564.0 374.1"/>
<path d="M572.7 381.7L583.7 364.5M575.5 369.9L583.7 364.5L582.2 374.2"/>
<path d="M590.9 381.7L601.9 364.6M593.8 370.0L601.9 364.6L600.5 374.3"/>
<path d="M609.1 381.7L620.7 363.9M612.1 369.5L620.7 363.9L619.1 374.0"/>
<path d="M627.3 381.7L639.0 364.0M630.4 369.5L639.0 364.0L637.3 374.1"/>
<path d="M645.5 381.7L657.3 364.1M648.7 369.5L657.3 364.1L655.6 374.2"/>
<path d="M663.6 381.7L675.4 364.5M666.9 369.8L675.4 364.5L673.6 374.4"/>
<path d="M681.8 381.7L693.9 364.3M685.2 369.6L693.9 364.3L692.0 374.3"/>
<path d="M700.0 381.7L713.2 362.9M703.7 368.6L713.2 362.9L711.1 373.8"/>
<path d="M718.2 381.7L731.5 363.1M722.0 368.7L731.5 363.1L729.3 373.9"/>
<path d="M736.4 381.7L749.4 363.9M740.2 369.2L749.4 363.9L747.2 374.3"/>
<path d="M754.5 381.7L767.3 364.7M758.4 369.7L767.3 364.7L765.0 374.7"/>
<path d="M772.7 381.7L785.9 364.5M776.8 369.5L785.9 364.5L783.5 374.6"/>
<path d="M790.9 381.7L805.0 363.7M795.3 368.8L805.0 363.7L802.4 374.3"/>
<path d="M281.8 399.9L293.7 398.9M288.3 397.0L293.7 398.9L288.7 401.7"/>
<path d="M300.0 399.9L312.3 398.9M306.7 396.9L312.3 398.9L307.1 401.7"/>
<path d="M318.2 399.9L330.1 398.9M324.6 397.0L330.1 398.9L325.1 401.7"/>
<path d="M336.4 399.9L347.6 398.9M342.5 397.2L347.6 398.9L342.9 401.6"/>
<path d="M354.5 399.9L365.1 399.0M360.3 397.3L365.1 399.0L360.7 401.5"/>
<path d="M372.7 399.9L382.8 397.2M377.9 396.4L382.8 397.2L378.9 400.4"/>
<path d="M390.9 399.9L400.5 394.8M395.3 395.2L400.5 394.8L397.3 398.9"/>
<path d="M409.1 399.9L418.3 393.5M413.0 394.5L418.3 393.5L415.5 398.1"/>
<path d="M427.3 399.9L436.0 392.1M430.6 393.8L436.0 392.1L433.7 397.2"/>
<path d="M445.5 399.9L454.2 391.2M448.7 393.3L454.2 391.2L452.1 396.7"/>
<path d="M463.6 399.9L472.6 389.9M466.7 392.6L472.6 389.9L470.6 396.1"/>
<path d="M481.8 399.9L491.2 388.7M484.9 391.8L491.2 388.7L489.3 395.5"/>
<path d="M500.0 399.9L509.6 387.6M503.0 391.1L509.6 387.6L507.8 394.9"/>
<path d="M518.2 399.9L528.3 386.8M521.3 390.6L528.3 386.8L526.4 394.5"/>
<path d="M536.4 399.9L547.9 384.9M539.9 389.2L547.9 384.9L545.8 393.7"/>
<path d="M554.5 399.9L567.1 383.3M558.3 388.1L567.1 383.3L564.8 393.0"/>
<path d="M572.7 399.9L585.9 382.2M576.7 387.4L585.9 382.2L583.6 392.5"/>
<path d="M590.9 399.9L604.0 382.1M594.8 387.4L604.0 382.1L601.7 392.5"/>
<path d="M609.1 399.9L622.1 382.0M612.9 387.3L622.1 382.0L619.9 392.4"/>
<path d="M627.3 399.9L640.4 382.1M631.2 387.4L640.4 382.1L638.1 392.5"/>
<path d="M645.5 399.9L658.4 382.6M649.4 387.6L658.4 382.6L656.1 392.7"/>
<path d="M663.6 399.9L676.2 383.3M667.5 388.2L676.2 383.3L673.9 393.1"/>
<path d="M681.8 399.9L693.1 385.3M685.3 389.5L693.1 385.3L691.0 393.9"/>
<path d="M700.0 399.9L713.1 383.2M704.1 388.0L713.1 383.2L710.6 393.1"/>
<path d="M718.2 399.9L731.9 382.6M722.5 387.5L731.9 382.6L729.3 392.9"/>
<path d="M736.4 399.9L749.7 383.4M740.6 388.0L749.7 383.4L747.1 393.2"/>
<path d="M754.5 399.9L768.0 383.5M758.9 388.1L768.0 383.5L765.3 393.3"/>
<path d="M772.7 399.9L786.0 383.9M777.0 388.3L786.0 383.9L783.3 393.5"/>
<path d="M790.9 399.9L804.3 384.0M795.3 388.4L804.3 384.0L801.5 393.6"/>
<path d="M300.0 418.1L312.1 417.1M306.6 415.2L312.1 417.1L307.0 419.9"/>
<path d="M318.2 418.1L330.1 417.1M324.6 415.2L330.1 417.1L325.1 419.8"/>
<path d="M336.4 418.1L347.4 417.1M342.4 415.4L347.4 417.1L342.7 419.7"/>
<path d="M354.5 418.1L364.9 417.2M360.2 415.6L364.9 417.2L360.6 419.6"/>
<path d="M372.7 418.1L382.9 415.7M377.9 414.8L382.9 415.7L378.9 418.7"/>
<path d="M390.9 418.1L401.0 414.0M395.8 413.9L401.0 414.0L397.4 417.8"/>
<path d="M409.1 418.1L418.7 412.6M413.4 413.1L418.7 412.6L415.6 416.9"/>
<path d="M427.3 418.1L436.2 411.2M430.9 412.5L436.2 411.2L433.6 415.9"/>
<path d="M445.5 418.1L454.4 410.2M448.9 411.9L454.4 410.2L452.0 415.4"/>
<path d="M463.6 418.1L472.8 408.9M467.0 411.2L472.8 408.9L470.6 414.8"/>
<path d="M481.8 418.1L491.3 408.3M485.2 410.7L491.3 408.3L489.1 414.4"/>
<path d="M500.0 418.1L510.3 407.1M503.6 409.9L510.3 407.1L507.9 413.9"/>
<path d="M518.2 418.1L529.3 405.8M522.0 409.0L529.3 405.8L526.8 413.4"/>
<path d="M536.4 418.1L548.6 404.3M540.6 408.0L548.6 404.3L546.0 412.7"/>
<path d="M554.5 418.1L568.0 402.8M559.1 406.9L568.0 402.8L565.1 412.1"/>
<path d="M572.7 418.1L586.6 402.0M577.4 406.4L586.6 402.0L583.7 411.8"/>
<path d="M590.9 418.1L605.8 400.6M595.9 405.4L605.8 400.6L602.7 411.2"/>
<path d="M609.1 418.1L624.1 400.2M614.0 405.1L624.1 400.2L621.0 411.0"/>
<path d="M627.3 418.1L642.4 400.2M632.3 405.1L642.4 400.2L639.2 411.0"/>
<path d="M645.5 418.1L660.3 400.6M650.4 405.4L660.3 400.6L657.2 411.2"/>
<path d="M663.6 418.1L678.0 401.3M668.4 405.9L678.0 401.3L675.0 411.5"/>
<path d="M681.8 418.1L694.2 403.8M686.0 407.6L694.2 403.8L691.6 412.5"/>
<path d="M700.0 418.1L713.7 402.4M704.6 406.6L713.7 402.4L710.7 412.0"/>
<path d="M718.2 418.1L732.2 402.1M722.9 406.4L732.2 402.1L729.2 411.9"/>
<path d="M736.4 418.1L750.1 402.5M741.0 406.6L750.1 402.5L747.1 412.0"/>
<path d="M754.5 418.1L768.4 402.5M759.3 406.7L768.4 402.5L765.4 412.1"/>
<path d="M772.7 418.1L785.4 404.0M777.1 407.7L785.4 404.0L782.6 412.6"/>
<path d="M790.9 418.1L803.9 403.7M795.4 407.5L803.9 403.7L801.0 412.5"/>
<path d="M336.4 436.3L347.6 436.3M342.7 434.1L347.6 436.3L342.7 438.5"/>
<path d="M354.5 436.3L365.6 435.8M360.7 433.9L365.6 435.8L360.8 438.2"/>
<path d="M372.7 436.3L383.5 435.3M378.6 433.6L383.5 435.3L379.0 437.9"/>
<path d="M390.9 436.3L401.4 433.5M396.2 432.7L401.4 433.5L397.3 436.8"/>
<path d="M409.1 436.3L419.2 431.9M413.9 431.8L419.2 431.9L415.7 435.8"/>
<path d="M427.3 436.3L436.7 430.4M431.4 431.2L436.7 430.4L433.7 434.8"/>
<path d="M445.5 436.3L454.6 429.4M449.3 430.6L454.6 429.4L452.0 434.2"/>
<path d="M463.6 436.3L472.7 428.2M467.1 430.0L472.7 428.2L470.3 433.5"/>
<path d="M481.8 436.3L491.1 427.5M485.3 429.6L491.1 427.5L488.7 433.2"/>
<path d="M500.0 436.3L510.4 426.0M503.8 428.5L510.4 426.0L507.9 432.5"/>
<path d="M518.2 436.3L529.4 424.7M522.2 427.6L529.4 424.7L526.7 432.0"/>
<path d="M536.4 436.3L549.1 422.9M540.9 426.3L549.1 422.9L546.1 431.3"/>
<path d="M554.5 436.3L568.5 421.4M559.5 425.2L568.5 421.4L565.3 430.7"/>
<path d="M572.7 436.3L587.5 420.4M577.9 424.5L587.5 420.4L584.1 430.2"/>
<path d="M590.9 436.3L606.1 419.7M596.2 424.0L606.1 419.7L602.7 429.9"/>
<path d="M609.1 436.3L625.0 418.6M614.6 423.2L625.0 418.6L621.5 429.5"/>
<path d="M627.3 436.3L643.3 418.6M632.8 423.3L643.3 418.6L639.7 429.5"/>
<path d="M645.5 436.3L661.2 419.0M650.9 423.5L661.2 419.0L657.7 429.7"/>
<path d="M663.6 436.3L678.9 419.7M669.0 424.0L678.9 419.7L675.4 430.0"/>
<path d="M681.8 436.3L696.0 421.0M686.8 424.9L696.0 421.0L692.7 430.5"/>
<path d="M700.0 436.3L714.2 421.1M705.0 425.0L714.2 421.1L710.9 430.5"/>
<path d="M718.2 436.3L732.7 420.8M723.3 424.8L732.7 420.8L729.4 430.4"/>
<path d="M736.4 436.3L750.7 421.2M741.4 425.0L750.7 421.2L747.4 430.6"/>
<path d="M754.5 436.3L768.9 421.2M759.7 425.0L768.9 421.2L765.6 430.6"/>
<path d="M772.7 436.3L785.9 422.6M777.4 426.0L785.9 422.6L782.8 431.2"/>
<path d="M790.9 436.3L803.7 423.0M795.5 426.3L803.7 423.0L800.7 431.3"/>
<path d="M336.4 454.5L347.6 454.1M342.6 452.1L347.6 454.1L342.8 456.5"/>
<path d="M354.5 454.5L366.2 453.8M361.0 451.8L366.2 453.8L361.2 456.4"/>
<path d="M372.7 454.5L384.2 453.5M379.0 451.7L384.2 453.5L379.4 456.1"/>
<path d="M390.9 454.5L401.9 452.1M396.6 451.0L401.9 452.1L397.6 455.3"/>
<path d="M409.1 454.5L419.5 450.7M414.2 450.3L419.5 450.7L415.7 454.4"/>
<path d="M427.3 454.5L436.9 449.4M431.7 449.7L436.9 449.4L433.7 453.5"/>
<path d="M445.5 454.5L454.9 448.3M449.6 449.2L454.9 448.3L452.0 452.9"/>
<path d="M463.6 454.5L473.0 447.1M467.5 448.5L473.0 447.1L470.3 452.2"/>
<path d="M481.8 454.5L491.1 446.3M485.4 448.1L491.1 446.3L488.6 451.7"/>
<path d="M500.0 454.5L510.0 444.5M503.7 446.9L510.0 444.5L507.6 450.8"/>
<path d="M518.2 454.5L529.2 443.4M522.2 446.1L529.2 443.4L526.5 450.4"/>
<path d="M536.4 454.5L549.0 441.7M541.0 444.8L549.0 441.7L546.0 449.8"/>
<path d="M554.5 454.5L568.8 439.9M559.7 443.5L568.8 439.9L565.4 449.1"/>
<path d="M572.7 454.5L587.6 439.3M578.1 443.0L587.6 439.3L584.0 448.8"/>
<path d="M590.9 454.5L606.3 438.6M596.5 442.6L606.3 438.6L602.7 448.6"/>
<path d="M609.1 454.5L625.6 437.3M615.0 441.6L625.6 437.3L621.7 448.1"/>
<path d="M627.3 454.5L644.1 437.1M633.3 441.4L644.1 437.1L640.1 448.0"/>
<path d="M645.5 454.5L662.2 437.2M651.5 441.5L662.2 437.2L658.2 448.1"/>
<path d="M663.6 454.5L680.0 437.7M669.5 441.9L680.0 437.7L676.1 448.3"/>
<path d="M681.8 454.5L697.0 439.0M687.3 442.8L697.0 439.0L693.4 448.7"/>
<path d="M700.0 454.5L714.9 439.3M705.4 443.1L714.9 439.3L711.3 448.9"/>
<path d="M718.2 454.5L733.1 439.3M723.6 443.1L733.1 439.3L729.5 448.9"/>
<path d="M736.4 454.5L751.0 439.7M741.7 443.3L751.0 439.7L747.5 449.0"/>
<path d="M754.5 454.5L769.2 439.7M759.9 443.3L769.2 439.7L765.7 449.0"/>
<path d="M772.7 454.5L787.4 439.7M778.1 443.3L787.4 439.7L783.9 449.1"/>
<path d="M790.9 454.5L804.3 441.1M795.8 444.3L804.3 441.1L801.1 449.6"/>
<path d="M336.4 472.7L347.9 472.3M342.7 470.2L347.9 472.3L342.9 474.7"/>
<path d="M354.5 472.7L366.4 471.9M361.1 469.9L366.4 471.9L361.4 474.6"/>
<path d="M372.7 472.7L384.6 471.6M379.2 469.8L384.6 471.6L379.6 474.4"/>
<path d="M390.9 472.7L402.2 470.3M396.8 469.1L402.2 470.3L397.7 473.5"/>
<path d="M409.1 472.7L419.6 469.1M414.3 468.6L419.6 469.1L415.7 472.7"/>
<path d="M427.3 472.7L436.9 468.2M431.8 468.2L436.9 468.2L433.6 472.0"/>
<path d="M445.5 472.7L454.9 467.2M449.7 467.8L454.9 467.2L451.8 471.4"/>
<path d="M463.6 472.7L473.1 466.1M467.6 467.1L473.1 466.1L470.2 470.8"/>
<path d="M481.8 472.7L491.0 465.0M485.5 466.6L491.0 465.0L488.4 470.1"/>
<path d="M500.0 472.7L509.7 463.0M503.5 465.3L509.7 463.0L507.3 469.1"/>
<path d="M518.2 472.7L528.9 462.0M522.1 464.6L528.9 462.0L526.3 468.7"/>
<path d="M536.4 472.7L548.8 460.3M540.9 463.3L548.8 460.3L545.7 468.1"/>
<path d="M554.5 472.7L568.3 458.9M559.6 462.3L568.3 458.9L564.9 467.6"/>
<path d="M572.7 472.7L587.5 457.9M578.1 461.5L587.5 457.9L583.9 467.3"/>
<path d="M590.9 472.7L605.9 457.6M596.4 461.3L605.9 457.6L602.3 467.2"/>
<path d="M609.1 472.7L625.9 455.8M615.3 459.9L625.9 455.8L621.8 466.5"/>
<path d="M627.3 472.7L644.4 455.5M633.6 459.7L644.4 455.5L640.3 466.4"/>
<path d="M645.5 472.7L662.7 455.6M651.8 459.7L662.7 455.6L658.4 466.4"/>
<path d="M663.6 472.7L680.6 455.9M669.9 459.9L680.6 455.9L676.4 466.6"/>
<path d="M681.8 472.7L698.5 456.2M688.0 460.2L698.5 456.2L694.4 466.7"/>
<path d="M700.0 472.7L716.1 456.9M705.9 460.6L716.1 456.9L712.1 466.9"/>
<path d="M718.2 472.7L733.7 457.5M723.9 461.1L733.7 457.5L729.8 467.2"/>
<path d="M736.4 472.7L751.6 457.8M742.0 461.4L751.6 457.8L747.8 467.3"/>
<path d="M754.5 472.7L769.5 458.1M760.1 461.6L769.5 458.1L765.8 467.4"/>
<path d="M772.7 472.7L787.7 458.2M778.3 461.6L787.7 458.2L784.0 467.4"/>
<path d="M790.9 472.7L805.9 458.2M796.5 461.6L805.9 458.2L802.1 467.5"/>
<path d="M318.2 490.8L328.6 490.3M323.9 488.5L328.6 490.3L324.1 492.6"/>
<path d="M336.4 490.8L347.6 490.1M342.5 488.2L347.6 490.1L342.8 492.6"/>
<path d="M354.5 490.8L366.6 489.9M361.2 488.0L366.6 489.9L361.5 492.7"/>
<path d="M372.7 490.8L384.8 489.8M379.3 487.9L384.8 489.8L379.7 492.6"/>
<path d="M390.9 490.8L402.7 489.1M397.2 487.5L402.7 489.1L397.9 492.1"/>
<path d="M409.1 490.8L419.7 488.6M414.6 487.5L419.7 488.6L415.5 491.6"/>
<path d="M427.3 490.8L437.2 487.8M432.3 487.2L437.2 487.8L433.5 491.1"/>
<path d="M445.5 490.8L455.3 486.8M450.2 486.7L455.3 486.8L451.8 490.5"/>
<path d="M463.6 490.8L473.7 485.7M468.3 486.0L473.7 485.7L470.3 489.9"/>
<path d="M481.8 490.8L491.9 484.5M486.3 485.3L491.9 484.5L488.7 489.3"/>
<path d="M500.0 490.8L511.1 482.5M504.6 484.0L511.1 482.5L507.9 488.3"/>
<path d="M518.2 490.8L530.1 480.1M522.8 482.5L530.1 480.1L527.0 487.1"/>
<path d="M536.4 490.8L550.0 478.4M541.6 481.2L550.0 478.4L546.5 486.5"/>
<path d="M554.5 490.8L568.8 477.6M560.0 480.6L568.8 477.6L565.1 486.2"/>
<path d="M572.7 490.8L588.2 476.3M578.6 479.6L588.2 476.3L584.3 485.7"/>
<path d="M590.9 490.8L606.9 475.6M596.9 479.2L606.9 475.6L602.9 485.4"/>
<path d="M609.1 490.8L625.6 474.9M615.3 478.7L625.6 474.9L621.5 485.1"/>
<path d="M627.3 490.8L644.1 474.6M633.6 478.4L644.1 474.6L639.9 485.0"/>
<path d="M645.5 490.8L662.3 474.6M651.8 478.5L662.3 474.6L658.1 485.0"/>
<path d="M663.6 490.8L680.5 474.7M670.0 478.5L680.5 474.7L676.3 485.1"/>
<path d="M681.8 490.8L699.1 474.4M688.3 478.2L699.1 474.4L694.7 485.0"/>
<path d="M700.0 490.8L717.0 474.7M706.4 478.5L717.0 474.7L712.7 485.1"/>
<path d="M718.2 490.8L734.9 475.1M724.5 478.7L734.9 475.1L730.6 485.2"/>
<path d="M736.4 490.8L752.5 475.7M742.4 479.2L752.5 475.7L748.4 485.5"/>
<path d="M754.5 490.8L770.3 476.0M760.5 479.4L770.3 476.0L766.3 485.6"/>
<path d="M772.7 490.8L788.2 476.3M778.6 479.7L788.2 476.3L784.3 485.7"/>
<path d="M790.9 490.8L806.1 476.6M796.7 479.9L806.1 476.6L802.2 485.8"/>
<path d="M300.0 509.0L310.6 506.8M305.5 505.7L310.6 506.8L306.4 509.8"/>
<path d="M318.2 509.0L329.6 506.6M324.1 505.4L329.6 506.6L325.1 509.9"/>
<path d="M336.4 509.0L348.2 506.5M342.5 505.3L348.2 506.5L343.5 509.9"/>
<path d="M354.5 509.0L366.6 506.5M360.8 505.2L366.6 506.5L361.8 509.9"/>
<path d="M372.7 509.0L384.8 506.5M379.0 505.2L384.8 506.5L380.0 509.9"/>
<path d="M390.9 509.0L402.7 506.2M397.0 505.1L402.7 506.2L398.1 509.7"/>
<path d="M409.1 509.0L419.8 506.2M414.5 505.3L419.8 506.2L415.7 509.5"/>
<path d="M427.3 509.0L437.6 505.8M432.4 505.2L437.6 505.8L433.7 509.2"/>
<path d="M445.5 509.0L455.9 505.2M450.6 504.9L455.9 505.2L452.0 508.9"/>
<path d="M463.6 509.0L474.1 504.3M468.6 504.3L474.1 504.3L470.4 508.4"/>
<path d="M481.8 509.0L492.5 503.3M486.7 503.7L492.5 503.3L488.9 507.9"/>
<path d="M500.0 509.0L511.7 501.1M505.0 502.3L511.7 501.1L508.1 506.9"/>
<path d="M518.2 509.0L530.1 499.0M522.9 501.1L530.1 499.0L526.8 505.7"/>
<path d="M536.4 509.0L550.1 497.4M541.8 499.8L550.1 497.4L546.3 505.1"/>
<path d="M554.5 509.0L569.3 496.3M560.3 499.0L569.3 496.3L565.3 504.8"/>
<path d="M572.7 509.0L588.4 495.3M578.8 498.3L588.4 495.3L584.2 504.4"/>
<path d="M590.9 509.0L607.1 494.6M597.2 497.8L607.1 494.6L602.8 504.1"/>
<path d="M609.1 509.0L626.2 493.7M615.7 497.1L626.2 493.7L621.7 503.7"/>
<path d="M627.3 509.0L644.7 493.4M634.0 496.8L644.7 493.4L640.1 503.6"/>
<path d="M645.5 509.0L663.0 493.2M652.2 496.7L663.0 493.2L658.4 503.6"/>
<path d="M663.6 509.0L681.3 493.1M670.5 496.6L681.3 493.1L676.7 503.5"/>
<path d="M681.8 509.0L699.7 492.9M688.7 496.5L699.7 492.9L695.0 503.5"/>
<path d="M700.0 509.0L717.7 493.1M706.8 496.6L717.7 493.1L713.0 503.5"/>
<path d="M718.2 509.0L735.7 493.2M724.9 496.7L735.7 493.2L731.1 503.6"/>
<path d="M736.4 509.0L753.4 493.7M742.9 497.1L753.4 493.7L748.9 503.7"/>
<path d="M754.5 509.0L771.3 493.9M761.0 497.3L771.3 493.9L766.9 503.8"/>
<path d="M772.7 509.0L789.2 494.2M779.1 497.5L789.2 494.2L784.8 503.9"/>
<path d="M790.9 509.0L807.0 494.5M797.1 497.7L807.0 494.5L802.8 504.0"/>
<path d="M281.8 527.2L294.2 522.7M287.9 522.2L294.2 522.7L289.7 527.1"/>
<path d="M300.0 527.2L313.1 522.5M306.4 522.0L313.1 522.5L308.3 527.1"/>
<path d="M318.2 527.2L331.8 522.4M324.9 521.9L331.8 522.4L326.7 527.2"/>
<path d="M336.4 527.2L350.2 522.4M343.2 521.8L350.2 522.4L345.1 527.2"/>
<path d="M354.5 527.2L368.4 522.5M361.4 521.9L368.4 522.5L363.2 527.3"/>
<path d="M372.7 527.2L386.2 522.7M379.4 522.1L386.2 522.7L381.1 527.3"/>
<path d="M390.9 527.2L403.5 523.1M397.2 522.5L403.5 523.1L398.8 527.4"/>
<path d="M409.1 527.2L419.9 523.9M414.5 523.2L419.9 523.9L415.8 527.5"/>
<path d="M427.3 527.2L437.9 524.1M432.7 523.4L437.9 524.1L433.8 527.6"/>
<path d="M445.5 527.2L456.4 524.3M451.0 523.4L456.4 524.3L452.1 527.7"/>
<path d="M463.6 527.2L474.6 523.2M469.0 522.8L474.6 523.2L470.6 527.1"/>
<path d="M481.8 527.2L493.0 522.0M487.1 522.1L493.0 522.0L489.1 526.5"/>
<path d="M500.0 527.2L512.3 519.3M505.4 520.4L512.3 519.3L508.5 525.2"/>
<path d="M518.2 527.2L530.5 516.9M523.1 519.0L530.5 516.9L527.1 523.8"/>
<path d="M536.4 527.2L550.2 515.6M541.8 518.0L550.2 515.6L546.4 523.4"/>
<path d="M554.5 527.2L569.1 515.0M560.3 517.5L569.1 515.0L565.1 523.2"/>
<path d="M572.7 527.2L588.4 514.1M578.9 516.8L588.4 514.1L584.1 522.9"/>
<path d="M590.9 527.2L607.2 513.5M597.4 516.4L607.2 513.5L602.7 522.7"/>
<path d="M609.1 527.2L626.7 512.4M616.1 515.5L626.7 512.4L621.8 522.3"/>
<path d="M627.3 527.2L645.2 512.2M634.4 515.3L645.2 512.2L640.3 522.3"/>
<path d="M645.5 527.2L663.9 511.8M652.8 514.9L663.9 511.8L658.8 522.1"/>
<path d="M663.6 527.2L682.2 511.6M671.0 514.8L682.2 511.6L677.1 522.1"/>
<path d="M681.8 527.2L700.6 511.5M689.3 514.7L700.6 511.5L695.4 522.0"/>
<path d="M700.0 527.2L718.6 511.6M707.4 514.8L718.6 511.6L713.5 522.1"/>
<path d="M718.2 527.2L736.6 511.8M725.5 514.9L736.6 511.8L731.5 522.1"/>
<path d="M736.4 527.2L754.3 512.2M743.5 515.3L754.3 512.2L749.4 522.3"/>
<path d="M754.5 527.2L772.1 512.4M761.5 515.5L772.1 512.4L767.3 522.3"/>
<path d="M772.7 527.2L790.3 512.4M779.7 515.5L790.3 512.4L785.5 522.3"/>
<path d="M790.9 527.2L808.2 512.7M797.8 515.7L808.2 512.7L803.4 522.4"/>
<path d="M263.6 545.4L274.8 541.3M269.1 540.9L274.8 541.3L270.7 545.3"/>
<path d="M281.8 545.4L295.1 540.5M288.3 540.1L295.1 540.5L290.2 545.3"/>
<path d="M300.0 545.4L316.5 539.4M308.1 538.8L316.5 539.4L310.4 545.2"/>
<path d="M318.2 545.4L335.1 539.2M326.5 538.6L335.1 539.2L328.9 545.2"/>
<path d="M336.4 545.4L353.3 539.2M344.7 538.6L353.3 539.2L347.1 545.2"/>
<path d="M354.5 545.4L368.8 540.2M361.5 539.7L368.8 540.2L363.5 545.3"/>
<path d="M372.7 545.4L385.1 540.9M378.8 540.4L385.1 540.9L380.6 545.3"/>
<path d="M390.9 545.4L402.3 541.2M396.5 540.8L402.3 541.2L398.1 545.3"/>
<path d="M409.1 545.4L420.3 543.8M415.1 542.3L420.3 543.8L415.7 546.7"/>
<path d="M427.3 545.4L438.2 543.7M433.1 542.3L438.2 543.7L433.7 546.6"/>
<path d="M445.5 545.4L456.6 543.6M451.3 542.2L456.6 543.6L452.1 546.5"/>
<path d="M463.6 545.4L475.4 543.3M469.8 541.9L475.4 543.3L470.6 546.5"/>
<path d="M481.8 545.4L494.6 542.0M488.3 541.0L494.6 542.0L489.6 546.0"/>
<path d="M500.0 545.4L514.2 540.2M507.0 539.7L514.2 540.2L509.0 545.3"/>
<path d="M518.2 545.4L532.9 537.7M524.9 538.2L532.9 537.7L527.9 544.0"/>
<path d="M536.4 545.4L551.1 535.1M542.6 536.7L551.1 535.1L546.7 542.5"/>
<path d="M554.5 545.4L569.9 534.3M561.0 536.2L569.9 534.3L565.3 542.2"/>
<path d="M572.7 545.4L589.1 533.2M579.6 535.4L589.1 533.2L584.3 541.8"/>
<path d="M590.9 545.4L607.5 532.8M597.8 535.1L607.5 532.8L602.7 541.5"/>
<path d="M609.1 545.4L627.2 531.2M616.5 533.9L627.2 531.2L622.0 541.0"/>
<path d="M627.3 545.4L645.9 530.9M634.9 533.6L645.9 530.9L640.6 540.9"/>
<path d="M645.5 545.4L664.4 530.6M653.2 533.4L664.4 530.6L659.0 540.8"/>
<path d="M663.6 545.4L682.7 530.5M671.4 533.3L682.7 530.5L677.3 540.7"/>
<path d="M681.8 545.4L701.1 530.3M689.7 533.2L701.1 530.3L695.6 540.7"/>
<path d="M700.0 545.4L719.1 530.5M707.8 533.3L719.1 530.5L713.6 540.7"/>
<path d="M718.2 545.4L737.1 530.6M725.9 533.4L737.1 530.6L731.7 540.8"/>
<path d="M736.4 545.4L754.8 531.0M743.9 533.7L754.8 531.0L749.5 540.9"/>
<path d="M754.5 545.4L773.0 531.0M762.1 533.7L773.0 531.0L767.7 540.9"/>
<path d="M772.7 545.4L791.2 531.0M780.3 533.7L791.2 531.0L785.9 540.9"/>
<path d="M790.9 545.4L809.0 531.2M798.3 533.9L809.0 531.2L803.8 541.0"/>
<path d="M245.5 563.6L256.9 559.4M251.0 559.0L256.9 559.4L252.7 563.5"/>
<path d="M263.6 563.6L276.0 559.0M269.7 558.6L276.0 559.0L271.5 563.5"/>
<path d="M281.8 563.6L295.6 558.6M288.6 558.1L295.6 558.6L290.5 563.4"/>
<path d="M300.0 563.6L317.4 557.2M308.5 556.6L317.4 557.2L311.0 563.4"/>
<path d="M318.2 563.6L335.5 557.2M326.7 556.6L335.5 557.2L329.2 563.4"/>
<path d="M336.4 563.6L353.7 557.2M344.9 556.6L353.7 557.2L347.3 563.4"/>
<path d="M354.5 563.6L369.2 558.2M361.7 557.7L369.2 558.2L363.8 563.4"/>
<path d="M372.7 563.6L386.0 558.7M379.3 558.2L386.0 558.7L381.1 563.4"/>
<path d="M390.9 563.6L403.3 559.0M397.0 558.6L403.3 559.0L398.8 563.5"/>
<path d="M409.1 563.6L420.3 561.2M414.9 560.0L420.3 561.2L415.9 564.4"/>
<path d="M427.3 563.6L438.3 561.1M433.0 560.0L438.3 561.1L433.9 564.3"/>
<path d="M445.5 563.6L456.6 560.9M451.2 559.9L456.6 560.9L452.3 564.2"/>
<path d="M463.6 563.6L475.4 560.6M469.7 559.6L475.4 560.6L470.8 564.2"/>
<path d="M481.8 563.6L495.5 559.9M488.8 558.8L495.5 559.9L490.2 564.2"/>
<path d="M500.0 563.6L515.4 557.5M507.5 557.1L515.4 557.5L509.8 563.2"/>
<path d="M518.2 563.6L533.2 555.6M525.1 556.1L533.2 555.6L528.2 562.0"/>
<path d="M536.4 563.6L551.5 554.7M543.1 555.6L551.5 554.7L546.6 561.5"/>
<path d="M554.5 563.6L570.1 553.6M561.3 554.9L570.1 553.6L565.2 561.0"/>
<path d="M572.7 563.6L588.7 552.4M579.5 554.2L588.7 552.4L583.8 560.4"/>
<path d="M590.9 563.6L607.6 551.8M598.0 553.7L607.6 551.8L602.6 560.2"/>
<path d="M609.1 563.6L628.2 550.1M617.2 552.3L628.2 550.1L622.5 559.7"/>
<path d="M627.3 563.6L646.7 549.8M635.5 552.0L646.7 549.8L640.9 559.6"/>
<path d="M645.5 563.6L665.1 549.7M653.7 551.9L665.1 549.7L659.2 559.6"/>
<path d="M663.6 563.6L683.2 549.6M671.9 551.9L683.2 549.6L677.3 559.6"/>
<path d="M681.8 563.6L701.6 549.5M690.2 551.8L701.6 549.5L695.6 559.5"/>
<path d="M700.0 563.6L719.5 549.6M708.2 551.9L719.5 549.6L713.7 559.5"/>
<path d="M718.2 563.6L737.5 549.7M726.3 552.0L737.5 549.7L731.8 559.5"/>
<path d="M736.4 563.6L755.3 549.9M744.4 552.2L755.3 549.9L749.7 559.6"/>
<path d="M754.5 563.6L773.5 549.9M762.5 552.2L773.5 549.9L767.9 559.6"/>
<path d="M772.7 563.6L791.7 549.8M780.7 552.2L791.7 549.8L786.0 559.6"/>
<path d="M790.9 563.6L809.8 549.8M798.8 552.2L809.8 549.8L804.2 559.5"/>
<path d="M209.1 581.7L222.9 579.8M216.5 578.0L222.9 579.8L217.2 583.3"/>
<path d="M227.3 581.7L242.2 579.5M235.2 577.6L242.2 579.5L236.1 583.4"/>
<path d="M245.5 581.7L263.7 578.9M255.1 576.6L263.7 578.9L256.3 583.7"/>
<path d="M263.6 581.7L281.9 578.7M273.3 576.5L281.9 578.7L274.5 583.6"/>
<path d="M281.8 581.7L300.0 578.5M291.4 576.4L300.0 578.5L292.7 583.5"/>
<path d="M300.0 581.7L318.0 577.7M309.3 576.0L318.0 577.7L310.9 583.0"/>
<path d="M318.2 581.7L336.0 576.9M327.2 575.5L336.0 576.9L329.1 582.5"/>
<path d="M336.4 581.7L353.9 576.0M345.1 575.1L353.9 576.0L347.3 582.0"/>
<path d="M354.5 581.7L372.0 575.6M363.1 574.9L372.0 575.6L365.5 581.7"/>
<path d="M372.7 581.7L389.6 575.4M380.9 574.9L389.6 575.4L383.4 581.5"/>
<path d="M390.9 581.7L405.4 575.9M397.9 575.6L405.4 575.9L400.2 581.3"/>
<path d="M409.1 581.7L422.2 576.4M415.4 576.2L422.2 576.4L417.5 581.3"/>
<path d="M427.3 581.7L438.3 577.3M432.6 577.1L438.3 577.3L434.4 581.4"/>
<path d="M445.5 581.7L456.3 577.4M450.7 577.2L456.3 577.4L452.4 581.4"/>
<path d="M463.6 581.7L475.5 577.0M469.3 576.8L475.5 577.0L471.2 581.4"/>
<path d="M481.8 581.7L494.9 576.4M488.2 576.2L494.9 576.4L490.2 581.3"/>
<path d="M500.0 581.7L514.0 576.1M506.8 575.8L514.0 576.1L509.0 581.3"/>
<path d="M518.2 581.7L533.3 575.0M525.4 575.0L533.3 575.0L528.0 580.9"/>
<path d="M536.4 581.7L553.0 573.6M544.1 574.0L553.0 573.6L547.3 580.4"/>
<path d="M554.5 581.7L571.7 572.6M562.4 573.3L571.7 572.6L566.0 580.0"/>
<path d="M572.7 581.7L591.1 571.9M581.1 572.6L591.1 571.9L585.0 579.8"/>
<path d="M590.9 581.7L609.6 571.7M599.4 572.4L609.6 571.7L603.4 579.7"/>
<path d="M609.1 581.7L629.7 570.6M618.5 571.5L629.7 570.6L622.8 579.5"/>
<path d="M627.3 581.7L648.2 570.3M636.8 571.3L648.2 570.3L641.2 579.4"/>
<path d="M645.5 581.7L666.5 570.2M655.0 571.1L666.5 570.2L659.5 579.4"/>
<path d="M663.6 581.7L684.9 570.0M673.3 571.0L684.9 570.0L677.8 579.3"/>
<path d="M681.8 581.7L703.0 570.0M691.4 571.0L703.0 570.0L696.0 579.3"/>
<path d="M700.0 581.7L721.2 569.9M709.6 571.0L721.2 569.9L714.2 579.2"/>
<path d="M718.2 581.7L739.3 569.9M727.7 570.9L739.3 569.9L732.4 579.2"/>
<path d="M736.4 581.7L757.3 569.9M745.8 571.0L757.3 569.9L750.4 579.2"/>
<path d="M754.5 581.7L775.2 569.9M763.9 571.1L775.2 569.9L768.5 579.2"/>
<path d="M772.7 581.7L793.2 570.0M781.9 571.2L793.2 570.0L786.5 579.1"/>
<path d="M790.9 581.7L811.2 570.1M800.0 571.2L811.2 570.1L804.6 579.1"/>
<path d="M136.4 599.9L151.9 599.1M145.0 596.4L151.9 599.1L145.3 602.5"/>
<path d="M154.5 599.9L172.5 599.0M164.5 595.9L172.5 599.0L164.8 602.9"/>
<path d="M172.7 599.9L191.2 599.0M182.9 595.8L191.2 599.0L183.3 603.0"/>
<path d="M190.9 599.9L209.4 599.0M201.1 595.8L209.4 599.0L201.5 603.0"/>
<path d="M209.1 599.9L227.5 599.0M219.3 595.8L227.5 599.0L219.6 603.0"/>
<path d="M227.3 599.9L245.7 599.0M237.4 595.8L245.7 599.0L237.8 603.0"/>
<path d="M245.5 599.9L263.9 598.4M255.5 595.5L263.9 598.4L256.1 602.7"/>
<path d="M263.6 599.9L282.0 597.9M273.6 595.2L282.0 597.9L274.3 602.4"/>
<path d="M281.8 599.9L299.6 597.4M291.3 595.0L299.6 597.4L292.3 602.0"/>
<path d="M300.0 599.9L316.8 596.9M308.8 594.9L316.8 596.9L310.0 601.5"/>
<path d="M318.2 599.9L334.3 596.3M326.5 594.7L334.3 596.3L328.0 601.0"/>
<path d="M336.4 599.9L352.4 595.6M344.5 594.4L352.4 595.6L346.2 600.6"/>
<path d="M354.5 599.9L370.9 595.0M362.8 594.0L370.9 595.0L364.7 600.4"/>
<path d="M372.7 599.9L390.3 594.1M381.4 593.2L390.3 594.1L383.7 600.1"/>
<path d="M390.9 599.9L407.8 593.8M399.2 593.2L407.8 593.8L401.6 599.8"/>
<path d="M409.1 599.9L423.3 594.7M416.0 594.2L423.3 594.7L418.1 599.7"/>
<path d="M427.3 599.9L440.1 595.1M433.5 594.7L440.1 595.1L435.4 599.7"/>
<path d="M445.5 599.9L457.4 595.4M451.2 595.0L457.4 595.4L453.0 599.7"/>
<path d="M463.6 599.9L475.9 595.1M469.6 594.8L475.9 595.1L471.5 599.6"/>
<path d="M481.8 599.9L495.4 594.5M488.4 594.2L495.4 594.5L490.5 599.5"/>
<path d="M500.0 599.9L514.9 593.9M507.2 593.6L514.9 593.9L509.5 599.5"/>
<path d="M518.2 599.9L533.8 593.2M525.7 593.1L533.8 593.2L528.3 599.2"/>
<path d="M536.4 599.9L553.6 592.1M544.5 592.2L553.6 592.1L547.6 598.9"/>
<path d="M554.5 599.9L572.5 591.3M563.0 591.6L572.5 591.3L566.3 598.6"/>
<path d="M572.7 599.9L591.3 590.5M581.3 591.0L591.3 590.5L585.0 598.3"/>
<path d="M590.9 599.9L609.7 589.9M599.5 590.7L609.7 589.9L603.4 598.0"/>
<path d="M609.1 599.9L629.7 588.9M618.5 589.7L629.7 588.9L622.8 597.8"/>
<path d="M627.3 599.9L648.3 588.7M636.9 589.5L648.3 588.7L641.3 597.8"/>
<path d="M645.5 599.9L666.9 588.5M655.3 589.4L666.9 588.5L659.7 597.7"/>
<path d="M663.6 599.9L685.2 588.4M673.5 589.3L685.2 588.4L678.0 597.7"/>
<path d="M681.8 599.9L703.4 588.4M691.7 589.3L703.4 588.4L696.2 597.7"/>
<path d="M700.0 599.9L721.6 588.4M709.9 589.3L721.6 588.4L714.4 597.7"/>
<path d="M718.2 599.9L739.6 588.5M728.0 589.4L739.6 588.5L732.4 597.7"/>
<path d="M736.4 599.9L757.6 588.6M746.1 589.5L757.6 588.6L750.5 597.7"/>
<path d="M754.5 599.9L775.6 588.7M764.2 589.5L775.6 588.7L768.5 597.8"/>
<path d="M772.7 599.9L793.8 588.7M782.4 589.5L793.8 588.7L786.7 597.8"/>
<path d="M790.9 599.9L811.7 588.8M800.4 589.6L811.7 588.8L804.8 597.8"/>
<path d="M27.3 618.1L42.7 615.9M35.5 613.9L42.7 615.9L36.4 619.9"/>
<path d="M45.5 618.1L60.9 615.9M53.7 613.9L60.9 615.9L54.6 619.9"/>
<path d="M63.6 618.1L79.1 615.9M71.9 613.9L79.1 615.9L72.7 619.9"/>
<path d="M81.8 618.1L97.3 615.9M90.1 613.9L97.3 615.9L90.9 619.9"/>
<path d="M100.0 618.1L116.4 615.8M108.8 613.6L116.4 615.8L109.7 620.0"/>
<path d="M118.2 618.1L135.1 615.7M127.2 613.5L135.1 615.7L128.1 620.1"/>
<path d="M136.4 618.1L153.7 615.7M145.6 613.4L153.7 615.7L146.6 620.1"/>
<path d="M154.5 618.1L172.8 615.5M164.3 613.1L172.8 615.5L165.3 620.2"/>
<path d="M172.7 618.1L191.0 615.4M182.5 613.0L191.0 615.4L183.5 620.2"/>
<path d="M190.9 618.1L210.1 615.1M201.1 612.7L210.1 615.1L202.3 620.2"/>
<path d="M209.1 618.1L227.3 615.2M218.8 612.9L227.3 615.2L219.9 620.0"/>
<path d="M227.3 618.1L245.0 615.1M236.7 613.0L245.0 615.1L237.8 619.9"/>
<path d="M245.5 618.1L262.2 615.2M254.3 613.2L262.2 615.2L255.5 619.7"/>
<path d="M263.6 618.1L279.9 614.8M272.1 613.1L279.9 614.8L273.4 619.4"/>
<path d="M281.8 618.1L297.5 614.4M289.9 613.0L297.5 614.4L291.3 619.1"/>
<path d="M300.0 618.1L315.1 614.1M307.7 612.9L315.1 614.1L309.2 618.8"/>
<path d="M318.2 618.1L332.7 613.8M325.5 612.9L332.7 613.8L327.2 618.5"/>
<path d="M336.4 618.1L350.3 613.6M343.3 612.9L350.3 613.6L345.1 618.3"/>
<path d="M354.5 618.1L368.9 613.3M361.6 612.6L368.9 613.3L363.5 618.2"/>
<path d="M372.7 618.1L387.9 612.8M380.2 612.2L387.9 612.8L382.3 618.1"/>
<path d="M390.9 618.1L407.4 612.1M399.0 611.5L407.4 612.1L401.3 618.0"/>
<path d="M409.1 618.1L423.7 612.6M416.2 612.2L423.7 612.6L418.4 617.9"/>
<path d="M427.3 618.1L440.9 612.8M433.9 612.5L440.9 612.8L436.0 617.8"/>
<path d="M445.5 618.1L458.1 613.0M451.6 612.8L458.1 613.0L453.6 617.7"/>
<path d="M463.6 618.1L477.1 612.5M470.1 612.3L477.1 612.5L472.3 617.6"/>
<path d="M481.8 618.1L498.8 610.8M489.9 610.7L498.8 610.8L492.8 617.3"/>
<path d="M500.0 618.1L517.3 610.4M508.2 610.4L517.3 610.4L511.2 617.2"/>
<path d="M518.2 618.1L534.6 610.7M525.9 610.7L534.6 610.7L528.8 617.1"/>
<path d="M536.4 618.1L554.0 610.0M544.7 610.1L554.0 610.0L547.9 617.0"/>
<path d="M554.5 618.1L573.0 609.5M563.2 609.7L573.0 609.5L566.6 616.9"/>
<path d="M572.7 618.1L591.6 609.2M581.6 609.4L591.6 609.2L585.0 616.8"/>
<path d="M590.9 618.1L610.4 608.7M600.0 609.0L610.4 608.7L603.7 616.7"/>
<path d="M609.1 618.1L629.9 608.0M618.8 608.3L629.9 608.0L622.8 616.5"/>
<path d="M627.3 618.1L648.7 607.7M637.3 608.1L648.7 607.7L641.3 616.5"/>
<path d="M645.5 618.1L667.3 607.6M655.6 607.9L667.3 607.6L659.8 616.4"/>
<path d="M663.6 618.1L685.7 607.5M673.9 607.9L685.7 607.5L678.1 616.5"/>
<path d="M681.8 618.1L704.1 607.5M692.2 607.8L704.1 607.5L696.4 616.5"/>
<path d="M700.0 618.1L722.1 607.6M710.3 607.9L722.1 607.6L714.4 616.5"/>
<path d="M718.2 618.1L740.1 607.7M728.4 608.0L740.1 607.7L732.5 616.5"/>
<path d="M736.4 618.1L758.1 607.8M746.6 608.1L758.1 607.8L750.6 616.6"/>
<path d="M754.5 618.1L776.1 608.0M764.7 608.2L776.1 608.0L768.6 616.6"/>
<path d="M772.7 618.1L794.3 608.0M782.9 608.2L794.3 608.0L786.8 616.6"/>
<path d="M790.9 618.1L812.5 608.0M801.1 608.2L812.5 608.0L805.0 616.7"/>
<path d="M9.1 636.3L26.5 630.0M17.6 629.4L26.5 630.0L20.1 636.1"/>
<path d="M27.3 636.3L44.6 629.9M35.8 629.3L44.6 629.9L38.3 636.1"/>
<path d="M45.5 636.3L62.8 629.9M53.9 629.3L62.8 629.9L56.4 636.1"/>
<path d="M63.6 636.3L81.0 629.9M72.1 629.3L81.0 629.9L74.6 636.1"/>
<path d="M81.8 636.3L99.1 629.8M90.3 629.3L99.1 629.8L92.8 636.1"/>
<path d="M100.0 636.3L116.4 630.2M108.0 629.6L116.4 630.2L110.4 636.0"/>
<path d="M118.2 636.3L134.6 630.1M126.2 629.6L134.6 630.1L128.6 636.0"/>
<path d="M136.4 636.3L153.7 629.8M144.8 629.2L153.7 629.8L147.3 636.0"/>
<path d="M154.5 636.3L172.3 629.6M163.2 629.1L172.3 629.6L165.8 636.0"/>
<path d="M172.7 636.3L190.4 629.5M181.4 629.0L190.4 629.5L184.0 636.0"/>
<path d="M190.9 636.3L209.1 629.3M199.7 628.8L209.1 629.3L202.5 635.9"/>
<path d="M209.1 636.3L225.4 629.9M217.0 629.5L225.4 629.9L219.5 635.9"/>
<path d="M227.3 636.3L242.7 630.2M234.7 629.9L242.7 630.2L237.1 635.9"/>
<path d="M245.5 636.3L259.9 630.5M252.5 630.2L259.9 630.5L254.7 635.9"/>
<path d="M263.6 636.3L277.6 630.6M270.4 630.4L277.6 630.6L272.6 635.8"/>
<path d="M281.8 636.3L295.8 630.5M288.5 630.3L295.8 630.5L290.8 635.8"/>
<path d="M300.0 636.3L314.0 630.5M306.7 630.3L314.0 630.5L309.0 635.7"/>
<path d="M318.2 636.3L331.7 630.6M324.6 630.5L331.7 630.6L326.9 635.7"/>
<path d="M336.4 636.3L350.3 630.3M343.0 630.2L350.3 630.3L345.3 635.7"/>
<path d="M354.5 636.3L368.9 630.1M361.4 630.0L368.9 630.1L363.8 635.6"/>
<path d="M372.7 636.3L388.8 629.2M380.4 629.2L388.8 629.2L383.1 635.5"/>
<path d="M390.9 636.3L407.4 629.0M398.7 629.0L407.4 629.0L401.6 635.4"/>
<path d="M409.1 636.3L424.2 629.6M416.3 629.6L424.2 629.6L418.9 635.5"/>
<path d="M427.3 636.3L441.1 630.1M433.8 630.1L441.1 630.1L436.2 635.5"/>
<path d="M445.5 636.3L458.8 630.3M451.8 630.3L458.8 630.3L454.1 635.6"/>
<path d="M463.6 636.3L478.0 630.1M470.5 630.0L478.0 630.1L472.9 635.6"/>
<path d="M481.8 636.3L498.9 629.2M490.0 629.0L498.9 629.2L492.8 635.6"/>
<path d="M500.0 636.3L518.0 629.0M508.7 628.7L518.0 629.0L511.5 635.7"/>
<path d="M518.2 636.3L536.2 629.0M526.9 628.7L536.2 629.0L529.7 635.7"/>
<path d="M536.4 636.3L555.7 628.5M545.7 628.1L555.7 628.5L548.7 635.7"/>
<path d="M554.5 636.3L574.3 628.3M564.1 628.0L574.3 628.3L567.2 635.7"/>
<path d="M572.7 636.3L592.4 628.3M582.2 628.0L592.4 628.3L585.3 635.7"/>
<path d="M590.9 636.3L611.4 628.0M600.8 627.6L611.4 628.0L604.0 635.6"/>
<path d="M609.1 636.3L630.2 627.8M619.3 627.4L630.2 627.8L622.6 635.6"/>
<path d="M627.3 636.3L649.2 627.5M637.8 627.1L649.2 627.5L641.3 635.6"/>
<path d="M645.5 636.3L667.9 627.2M656.3 626.8L667.9 627.2L659.8 635.6"/>
<path d="M663.6 636.3L686.3 627.1M674.6 626.7L686.3 627.1L678.2 635.6"/>
<path d="M681.8 636.3L704.7 627.1M692.9 626.6L704.7 627.1L696.5 635.6"/>
<path d="M700.0 636.3L722.7 627.1M710.9 626.7L722.7 627.1L714.5 635.6"/>
<path d="M718.2 636.3L740.7 627.2M729.0 626.8L740.7 627.2L732.6 635.6"/>
<path d="M736.4 636.3L758.6 627.3M747.1 626.9L758.6 627.3L750.6 635.6"/>
<path d="M754.5 636.3L776.8 627.3M765.3 626.9L776.8 627.3L768.8 635.6"/>
<path d="M772.7 636.3L795.0 627.3M783.5 626.9L795.0 627.3L787.0 635.6"/>
<path d="M790.9 636.3L813.0 627.4M801.6 627.0L813.0 627.4L805.0 635.6"/>
<path d="M9.1 654.5L26.2 647.5M17.4 647.2L26.2 647.5L20.1 653.9"/>
<path d="M27.3 654.5L44.4 647.5M35.5 647.2L44.4 647.5L38.2 653.9"/>
<path d="M45.5 654.5L62.6 647.5M53.7 647.2L62.6 647.5L56.4 653.9"/>
<path d="M63.6 654.5L80.7 647.5M71.9 647.2L80.7 647.5L74.6 653.9"/>
<path d="M81.8 654.5L98.9 647.4M90.0 647.2L98.9 647.4L92.8 653.9"/>
<path d="M100.0 654.5L116.2 647.8M107.8 647.5L116.2 647.8L110.4 653.9"/>
<path d="M118.2 654.5L134.4 647.7M125.9 647.5L134.4 647.7L128.6 653.9"/>
<path d="M136.4 654.5L153.0 647.5M144.3 647.3L153.0 647.5L147.0 653.8"/>
<path d="M154.5 654.5L171.6 647.3M162.7 647.1L171.6 647.3L165.5 653.8"/>
<path d="M172.7 654.5L189.3 647.5M180.7 647.3L189.3 647.5L183.4 653.8"/>
<path d="M190.9 654.5L205.7 648.2M198.0 648.1L205.7 648.2L200.4 653.8"/>
<path d="M209.1 654.5L223.0 648.5M215.7 648.4L223.0 648.5L218.1 653.8"/>
<path d="M227.3 654.5L240.3 648.9M233.5 648.8L240.3 648.9L235.7 653.9"/>
<path d="M245.5 654.5L258.0 649.0M251.4 649.0L258.0 649.0L253.6 653.9"/>
<path d="M263.6 654.5L276.6 648.8M269.8 648.7L276.6 648.8L272.0 653.8"/>
<path d="M281.8 654.5L295.2 648.5M288.2 648.5L295.2 648.5L290.5 653.8"/>
<path d="M300.0 654.5L313.8 648.3M306.5 648.3L313.8 648.3L309.0 653.7"/>
<path d="M318.2 654.5L332.4 648.1M324.9 648.1L332.4 648.1L327.4 653.6"/>
<path d="M336.4 654.5L350.6 648.0M343.1 648.1L350.6 648.0L345.6 653.6"/>
<path d="M354.5 654.5L368.7 648.0M361.2 648.1L368.7 648.0L363.8 653.6"/>
<path d="M372.7 654.5L387.3 647.7M379.6 647.8L387.3 647.7L382.2 653.5"/>
<path d="M390.9 654.5L406.4 647.3M398.2 647.4L406.4 647.3L401.0 653.4"/>
<path d="M409.1 654.5L424.7 647.7M416.6 647.6L424.7 647.7L419.2 653.7"/>
<path d="M427.3 654.5L442.2 648.5M434.5 648.2L442.2 648.5L436.8 654.1"/>
<path d="M445.5 654.5L460.1 649.1M452.6 648.6L460.1 649.1L454.7 654.3"/>
<path d="M463.6 654.5L481.1 648.5M472.3 647.7L481.1 648.5L474.6 654.5"/>
<path d="M481.8 654.5L501.2 648.2M491.5 647.1L501.2 648.2L493.9 654.7"/>
<path d="M500.0 654.5L519.9 648.4M510.0 647.2L519.9 648.4L512.4 654.9"/>
<path d="M518.2 654.5L537.8 648.7M528.1 647.4L537.8 648.7L530.3 655.1"/>
<path d="M536.4 654.5L556.8 648.7M546.7 647.3L556.8 648.7L549.0 655.2"/>
<path d="M554.5 654.5L575.5 648.9M565.2 647.2L575.5 648.9L567.4 655.4"/>
<path d="M572.7 654.5L593.7 648.9M583.4 647.2L593.7 648.9L585.6 655.4"/>
<path d="M590.9 654.5L612.3 648.8M601.8 647.1L612.3 648.8L604.0 655.4"/>
<path d="M609.1 654.5L630.9 648.6M620.2 646.9L630.9 648.6L622.5 655.4"/>
<path d="M627.3 654.5L649.8 648.3M638.7 646.6L649.8 648.3L641.1 655.4"/>
<path d="M645.5 654.5L668.8 647.9M657.3 646.2L668.8 647.9L659.8 655.4"/>
<path d="M663.6 654.5L687.1 647.7M675.5 646.1L687.1 647.7L678.2 655.3"/>
<path d="M681.8 654.5L705.5 647.5M693.7 645.9L705.5 647.5L696.5 655.2"/>
<path d="M700.0 654.5L723.4 647.3M711.7 645.9L723.4 647.3L714.5 655.0"/>
<path d="M718.2 654.5L741.3 647.2M729.7 645.9L741.3 647.2L732.6 654.9"/>
<path d="M736.4 654.5L759.2 647.0M747.7 645.8L759.2 647.0L750.6 654.8"/>
<path d="M754.5 654.5L777.4 647.0M765.9 645.8L777.4 647.0L768.8 654.8"/>
<path d="M772.7 654.5L795.6 647.0M784.1 645.8L795.6 647.0L787.0 654.8"/>
<path d="M790.9 654.5L813.6 647.1M802.2 645.9L813.6 647.1L805.1 654.8"/>
<path d="M9.1 672.7L25.8 664.8M17.0 665.0L25.8 664.8L20.0 671.5"/>
<path d="M27.3 672.7L44.0 664.8M35.1 665.0L44.0 664.8L38.2 671.5"/>
<path d="M45.5 672.7L62.2 664.8M53.3 665.0L62.2 664.8L56.4 671.5"/>
<path d="M63.6 672.7L80.3 664.8M71.5 665.0L80.3 664.8L74.6 671.5"/>
<path d="M81.8 672.7L98.5 664.7M89.6 664.9L98.5 664.7L92.7 671.5"/>
<path d="M100.0 672.7L116.7 664.7M107.8 664.9L116.7 664.7L110.9 671.4"/>
<path d="M118.2 672.7L134.8 664.7M126.0 664.9L134.8 664.7L129.1 671.4"/>
<path d="M136.4 672.7L153.0 664.6M144.1 664.9L153.0 664.6L147.3 671.4"/>
<path d="M154.5 672.7L170.8 664.8M162.1 665.1L170.8 664.8L165.2 671.4"/>
<path d="M172.7 672.7L188.5 665.0M180.1 665.3L188.5 665.0L183.1 671.4"/>
<path d="M190.9 672.7L205.8 665.4M197.8 665.7L205.8 665.4L200.7 671.5"/>
<path d="M209.1 672.7L221.8 666.4M215.0 666.7L221.8 666.4L217.4 671.6"/>
<path d="M227.3 672.7L239.5 666.6M233.0 666.9L239.5 666.6L235.3 671.7"/>
<path d="M245.5 672.7L257.9 666.5M251.3 666.8L257.9 666.5L253.7 671.6"/>
<path d="M263.6 672.7L276.3 666.4M269.5 666.6L276.3 666.4L272.0 671.6"/>
<path d="M281.8 672.7L294.9 666.1M287.9 666.4L294.9 666.1L290.5 671.6"/>
<path d="M300.0 672.7L313.5 665.9M306.3 666.2L313.5 665.9L308.9 671.5"/>
<path d="M318.2 672.7L332.1 665.7M324.6 666.0L332.1 665.7L327.4 671.4"/>
<path d="M336.4 672.7L350.3 665.6M342.8 666.0L350.3 665.6L345.6 671.4"/>
<path d="M354.5 672.7L368.9 665.4M361.2 665.8L368.9 665.4L364.0 671.4"/>
<path d="M372.7 672.7L387.5 665.2M379.6 665.6L387.5 665.2L382.5 671.3"/>
<path d="M390.9 672.7L405.7 665.1M397.7 665.6L405.7 665.1L400.7 671.3"/>
<path d="M409.1 672.7L423.3 666.1M415.8 666.2L423.3 666.1L418.3 671.8"/>
<path d="M427.3 672.7L442.6 666.4M434.6 666.1L442.6 666.4L437.1 672.1"/>
<path d="M445.5 672.7L462.8 666.3M454.0 665.7L462.8 666.3L456.4 672.5"/>
<path d="M463.6 672.7L482.2 666.9M472.9 665.8L482.2 666.9L475.2 673.0"/>
<path d="M481.8 672.7L502.4 667.3M492.3 665.6L502.4 667.3L494.4 673.6"/>
<path d="M500.0 672.7L521.2 668.1M511.0 666.0L521.2 668.1L512.8 674.3"/>
<path d="M518.2 672.7L539.8 668.2M529.5 665.9L539.8 668.2L531.2 674.4"/>
<path d="M536.4 672.7L558.0 668.3M547.7 666.0L558.0 668.3L549.4 674.4"/>
<path d="M554.5 672.7L576.7 668.4M566.1 665.9L576.7 668.4L567.8 674.6"/>
<path d="M572.7 672.7L594.8 668.1M584.2 665.8L594.8 668.1L586.0 674.4"/>
<path d="M590.9 672.7L612.5 667.9M602.1 665.8L612.5 667.9L604.0 674.2"/>
<path d="M609.1 672.7L631.0 667.6M620.4 665.5L631.0 667.6L622.4 674.1"/>
<path d="M627.3 672.7L649.6 667.2M638.7 665.3L649.6 667.2L640.9 674.0"/>
<path d="M645.5 672.7L668.5 666.8M657.3 664.8L668.5 666.8L659.6 673.8"/>
<path d="M663.6 672.7L687.1 666.4M675.6 664.6L687.1 666.4L678.0 673.7"/>
<path d="M681.8 672.7L705.4 666.0M693.7 664.3L705.4 666.0L696.3 673.5"/>
<path d="M700.0 672.7L723.7 665.6M711.9 664.1L723.7 665.6L714.6 673.3"/>
<path d="M718.2 672.7L741.5 665.4M729.9 664.0L741.5 665.4L732.7 673.1"/>
<path d="M736.4 672.7L759.4 665.2M747.8 663.9L759.4 665.2L750.8 672.9"/>
<path d="M754.5 672.7L777.4 665.2M765.9 664.0L777.4 665.2L768.8 672.9"/>
<path d="M772.7 672.7L795.4 665.3M784.0 664.1L795.4 665.3L786.9 672.9"/>
<path d="M790.9 672.7L813.2 665.4M802.0 664.3L813.2 665.4L804.8 672.9"/>
<path d="M9.1 690.8L25.8 681.9M16.8 682.6L25.8 681.9L20.2 689.1"/>
<path d="M27.3 690.8L43.6 682.1M34.7 682.8L43.6 682.1L38.1 689.1"/>
<path d="M45.5 690.8L61.7 682.0M52.9 682.7L61.7 682.0L56.3 689.1"/>
<path d="M63.6 690.8L79.9 682.0M71.0 682.7L79.9 682.0L74.5 689.0"/>
<path d="M81.8 690.8L97.2 682.4M88.8 683.1L97.2 682.4L92.1 689.1"/>
<path d="M100.0 690.8L115.3 682.3M106.9 683.1L115.3 682.3L110.3 689.1"/>
<path d="M118.2 690.8L133.1 682.5M124.9 683.3L133.1 682.5L128.2 689.1"/>
<path d="M136.4 690.8L150.4 682.9M142.7 683.7L150.4 682.9L145.8 689.1"/>
<path d="M154.5 690.8L167.7 683.4M160.5 684.1L167.7 683.4L163.4 689.2"/>
<path d="M172.7 690.8L185.4 683.6M178.4 684.3L185.4 683.6L181.3 689.2"/>
<path d="M190.9 690.8L203.2 683.8M196.4 684.5L203.2 683.8L199.2 689.3"/>
<path d="M209.1 690.8L221.0 684.0M214.4 684.7L221.0 684.0L217.1 689.3"/>
<path d="M227.3 690.8L239.0 684.2M232.5 684.8L239.0 684.2L235.1 689.4"/>
<path d="M245.5 690.8L257.4 684.1M250.8 684.7L257.4 684.1L253.5 689.4"/>
<path d="M263.6 690.8L276.0 683.9M269.2 684.5L276.0 683.9L271.9 689.4"/>
<path d="M281.8 690.8L294.6 683.7M287.6 684.3L294.6 683.7L290.4 689.3"/>
<path d="M300.0 690.8L314.1 683.1M306.4 683.7L314.1 683.1L309.4 689.2"/>
<path d="M318.2 690.8L332.7 682.9M324.8 683.5L332.7 682.9L327.9 689.2"/>
<path d="M336.4 690.8L350.9 682.9M343.0 683.6L350.9 682.9L346.1 689.2"/>
<path d="M354.5 690.8L368.7 683.2M361.0 683.8L368.7 683.2L364.0 689.3"/>
<path d="M372.7 690.8L387.3 683.0M379.4 683.6L387.3 683.0L382.5 689.3"/>
<path d="M390.9 690.8L405.5 683.1M397.6 683.6L405.5 683.1L400.6 689.3"/>
<path d="M409.1 690.8L423.6 684.0M415.9 684.1L423.6 684.0L418.6 689.8"/>
<path d="M427.3 690.8L443.0 684.3M434.8 684.1L443.0 684.3L437.4 690.2"/>
<path d="M445.5 690.8L463.7 684.2M454.4 683.5L463.7 684.2L457.0 690.7"/>
<path d="M463.6 690.8L483.1 684.8M473.4 683.6L483.1 684.8L475.8 691.2"/>
<path d="M481.8 690.8L502.8 685.3M492.5 683.7L502.8 685.3L494.7 691.8"/>
<path d="M500.0 690.8L521.6 686.2M511.2 684.0L521.6 686.2L513.0 692.5"/>
<path d="M518.2 690.8L539.9 686.5M529.5 684.2L539.9 686.5L531.2 692.6"/>
<path d="M536.4 690.8L558.1 686.7M547.8 684.3L558.1 686.7L549.4 692.8"/>
<path d="M554.5 690.8L576.7 686.9M566.2 684.3L576.7 686.9L567.8 693.0"/>
<path d="M572.7 690.8L595.3 686.6M584.6 684.0L595.3 686.6L586.2 692.9"/>
<path d="M590.9 690.8L613.0 686.4M602.5 684.0L613.0 686.4L604.2 692.7"/>
<path d="M609.1 690.8L631.1 686.2M620.6 683.9L631.1 686.2L622.4 692.5"/>
<path d="M627.3 690.8L649.4 685.7M638.7 683.6L649.4 685.7L640.7 692.3"/>
<path d="M645.5 690.8L668.1 685.2M657.1 683.2L668.1 685.2L659.3 692.1"/>
<path d="M663.6 690.8L686.8 684.6M675.5 682.8L686.8 684.6L677.9 691.9"/>
<path d="M681.8 690.8L705.3 684.1M693.7 682.5L705.3 684.1L696.3 691.6"/>
<path d="M700.0 690.8L723.6 683.6M711.8 682.2L723.6 683.6L714.7 691.4"/>
<path d="M718.2 690.8L741.4 683.3M729.8 682.1L741.4 683.3L732.7 691.1"/>
<path d="M736.4 690.8L759.3 682.9M747.7 681.9L759.3 682.9L750.8 690.9"/>
<path d="M754.5 690.8L777.3 683.0M765.8 682.0L777.3 683.0L768.8 690.9"/>
<path d="M772.7 690.8L795.2 683.1M783.9 682.1L795.2 683.1L786.9 690.9"/>
<path d="M790.9 690.8L813.0 683.2M801.8 682.2L813.0 683.2L804.8 690.9"/>
<path d="M9.1 709.0L25.5 699.5M16.5 700.5L25.5 699.5L20.2 706.9"/>
<path d="M27.3 709.0L43.2 699.7M34.4 700.7L43.2 699.7L38.1 706.9"/>
<path d="M45.5 709.0L61.4 699.7M52.6 700.7L61.4 699.7L56.2 706.9"/>
<path d="M63.6 709.0L79.5 699.6M70.7 700.6L79.5 699.6L74.4 706.8"/>
<path d="M81.8 709.0L97.7 699.6M88.9 700.6L97.7 699.6L92.6 706.8"/>
<path d="M100.0 709.0L115.4 699.7M106.9 700.8L115.4 699.7L110.5 706.8"/>
<path d="M118.2 709.0L132.3 700.4M124.5 701.4L132.3 700.4L127.8 707.0"/>
<path d="M136.4 709.0L148.9 701.4M141.9 702.3L148.9 701.4L144.9 707.2"/>
<path d="M154.5 709.0L166.0 702.0M159.6 702.8L166.0 702.0L162.3 707.3"/>
<path d="M172.7 709.0L183.6 702.3M177.5 703.1L183.6 702.3L180.1 707.4"/>
<path d="M190.9 709.0L201.7 702.3M195.7 703.1L201.7 702.3L198.3 707.3"/>
<path d="M209.1 709.0L220.3 702.1M214.0 702.9L220.3 702.1L216.8 707.3"/>
<path d="M227.3 709.0L238.6 702.2M232.3 703.0L238.6 702.2L234.9 707.4"/>
<path d="M245.5 709.0L257.2 702.0M250.7 702.8L257.2 702.0L253.4 707.4"/>
<path d="M263.6 709.0L275.8 701.8M269.1 702.6L275.8 701.8L271.9 707.4"/>
<path d="M281.8 709.0L294.5 701.7M287.5 702.4L294.5 701.7L290.4 707.4"/>
<path d="M300.0 709.0L313.5 701.3M306.1 702.0L313.5 701.3L309.1 707.3"/>
<path d="M318.2 709.0L332.2 701.1M324.5 701.8L332.2 701.1L327.6 707.3"/>
<path d="M336.4 709.0L350.4 701.2M342.7 701.9L350.4 701.2L345.8 707.4"/>
<path d="M354.5 709.0L368.2 701.5M360.8 702.1L368.2 701.5L363.7 707.5"/>
<path d="M372.7 709.0L386.5 701.6M379.0 702.2L386.5 701.6L381.9 707.5"/>
<path d="M390.9 709.0L405.1 701.5M397.4 702.0L405.1 701.5L400.4 707.6"/>
<path d="M409.1 709.0L424.1 701.9M416.1 702.1L424.1 701.9L418.9 708.0"/>
<path d="M427.3 709.0L443.4 702.3M435.0 702.1L443.4 702.3L437.7 708.4"/>
<path d="M445.5 709.0L464.2 702.2M454.6 701.5L464.2 702.2L457.3 708.8"/>
<path d="M463.6 709.0L483.5 702.8M473.6 701.7L483.5 702.8L476.0 709.4"/>
<path d="M481.8 709.0L502.8 703.5M492.5 701.8L502.8 703.5L494.7 710.0"/>
<path d="M500.0 709.0L521.6 704.4M511.2 702.2L521.6 704.4L513.0 710.7"/>
<path d="M518.2 709.0L540.3 704.6M529.7 702.2L540.3 704.6L531.5 710.8"/>
<path d="M536.4 709.0L558.5 704.8M548.0 702.4L558.5 704.8L549.6 711.0"/>
<path d="M554.5 709.0L576.7 705.1M566.2 702.5L576.7 705.1L567.8 711.2"/>
<path d="M572.7 709.0L595.3 704.9M584.6 702.3L595.3 704.9L586.2 711.1"/>
<path d="M590.9 709.0L613.5 704.8M602.7 702.2L613.5 704.8L604.4 711.0"/>
<path d="M609.1 709.0L631.2 704.7M620.7 702.3L631.2 704.7L622.4 710.9"/>
<path d="M627.3 709.0L649.5 704.2M638.8 702.0L649.5 704.2L640.7 710.6"/>
<path d="M645.5 709.0L667.8 703.6M656.9 701.6L667.8 703.6L659.0 710.3"/>
<path d="M663.6 709.0L686.2 703.0M675.1 701.2L686.2 703.0L677.5 710.0"/>
<path d="M681.8 709.0L704.9 702.4M693.5 700.8L704.9 702.4L696.1 709.8"/>
<path d="M700.0 709.0L723.4 701.9M711.7 700.4L723.4 701.9L714.5 709.6"/>
<path d="M718.2 709.0L741.2 701.5M729.7 700.3L741.2 701.5L732.6 709.3"/>
<path d="M736.4 709.0L759.1 701.2M747.6 700.2L759.1 701.2L750.6 709.1"/>
<path d="M754.5 709.0L777.1 701.3M765.7 700.3L777.1 701.3L768.7 709.1"/>
<path d="M772.7 709.0L795.0 701.3M783.8 700.3L795.0 701.3L786.8 709.1"/>
<path d="M790.9 709.0L812.8 701.5M801.7 700.5L812.8 701.5L804.7 709.1"/>
<path d="M9.1 727.2L25.5 717.7M16.5 718.7L25.5 717.7L20.2 725.1"/>
<path d="M27.3 727.2L43.2 717.9M34.4 718.9L43.2 717.9L38.1 725.1"/>
<path d="M45.5 727.2L61.0 718.1M52.4 719.1L61.0 718.1L56.0 725.1"/>
<path d="M63.6 727.2L78.7 718.3M70.4 719.2L78.7 718.3L73.8 725.1"/>
<path d="M81.8 727.2L94.8 719.5M87.6 720.3L94.8 719.5L90.6 725.4"/>
<path d="M100.0 727.2L113.0 719.4M105.8 720.3L113.0 719.4L108.8 725.4"/>
<path d="M118.2 727.2L130.7 719.6M123.7 720.5L130.7 719.6L126.7 725.4"/>
<path d="M136.4 727.2L148.4 719.8M141.7 720.7L148.4 719.8L144.6 725.4"/>
<path d="M154.5 727.2L166.2 720.0M159.7 720.9L166.2 720.0L162.5 725.4"/>
<path d="M172.7 727.2L183.9 720.2M177.7 721.1L183.9 720.2L180.4 725.5"/>
<path d="M190.9 727.2L202.1 720.2M195.8 721.1L202.1 720.2L198.6 725.5"/>
<path d="M209.1 727.2L220.1 720.4M214.0 721.2L220.1 720.4L216.6 725.5"/>
<path d="M227.3 727.2L238.6 720.3M232.3 721.1L238.6 720.3L234.9 725.6"/>
<path d="M245.5 727.2L257.2 720.2M250.7 721.0L257.2 720.2L253.4 725.5"/>
<path d="M263.6 727.2L275.6 720.1M269.0 720.9L275.6 720.1L271.7 725.6"/>
<path d="M281.8 727.2L294.3 720.0M287.4 720.7L294.3 720.0L290.2 725.6"/>
<path d="M300.0 727.2L313.1 719.7M305.9 720.4L313.1 719.7L308.8 725.5"/>
<path d="M318.2 727.2L331.8 719.5M324.3 720.2L331.8 719.5L327.3 725.5"/>
<path d="M336.4 727.2L350.0 719.6M342.5 720.3L350.0 719.6L345.5 725.6"/>
<path d="M354.5 727.2L367.8 719.9M360.6 720.5L367.8 719.9L363.4 725.7"/>
<path d="M372.7 727.2L386.0 720.0M378.8 720.6L386.0 720.0L381.6 725.8"/>
<path d="M390.9 727.2L404.7 719.9M397.2 720.4L404.7 719.9L400.1 725.8"/>
<path d="M409.1 727.2L424.1 720.1M416.1 720.3L424.1 720.1L418.9 726.1"/>
<path d="M427.3 727.2L443.4 720.4M435.0 720.3L443.4 720.4L437.7 726.6"/>
<path d="M445.5 727.2L464.2 720.4M454.6 719.7L464.2 720.4L457.3 727.0"/>
<path d="M463.6 727.2L483.5 721.0M473.6 719.8L483.5 721.0L476.0 727.6"/>
<path d="M481.8 727.2L502.8 721.7M492.5 720.0L502.8 721.7L494.7 728.2"/>
<path d="M500.0 727.2L521.6 722.6M511.2 720.4L521.6 722.6L513.0 728.8"/>
<path d="M518.2 727.2L540.3 722.8M529.7 720.4L540.3 722.8L531.5 729.0"/>
<path d="M536.4 727.2L558.5 723.0M548.0 720.5L558.5 723.0L549.6 729.2"/>
<path d="M554.5 727.2L576.7 723.3M566.2 720.7L576.7 723.3L567.8 729.3"/>
<path d="M572.7 727.2L595.3 723.1M584.6 720.5L595.3 723.1L586.2 729.3"/>
<path d="M590.9 727.2L613.5 723.0M602.7 720.4L613.5 723.0L604.4 729.2"/>
<path d="M609.1 727.2L631.2 722.9M620.7 720.5L631.2 722.9L622.4 729.1"/>
<path d="M627.3 727.2L649.3 722.4M638.7 720.2L649.3 722.4L640.6 728.8"/>
<path d="M645.5 727.2L667.6 721.8M656.8 719.9L667.6 721.8L658.9 728.5"/>
<path d="M663.6 727.2L686.0 721.2M675.0 719.5L686.0 721.2L677.4 728.2"/>
<path d="M681.8 727.2L704.9 720.6M693.5 719.0L704.9 720.6L696.1 728.0"/>
<path d="M700.0 727.2L723.4 720.1M711.7 718.6L723.4 720.1L714.5 727.8"/>
<path d="M718.2 727.2L741.2 719.7M729.7 718.5L741.2 719.7L732.6 727.5"/>
<path d="M736.4 727.2L759.1 719.4M747.6 718.4L759.1 719.4L750.6 727.2"/>
<path d="M754.5 727.2L777.1 719.4M765.7 718.5L777.1 719.4L768.7 727.2"/>
<path d="M772.7 727.2L794.8 719.6M783.7 718.6L794.8 719.6L786.6 727.2"/>
<path d="M790.9 727.2L812.8 719.7M801.7 718.7L812.8 719.7L804.7 727.2"/>
<path d="M9.1 745.4L25.1 736.1M16.3 737.1L25.1 736.1L19.9 743.3"/>
<path d="M27.3 745.4L42.8 736.3M34.2 737.3L42.8 736.3L37.8 743.3"/>
<path d="M45.5 745.4L59.7 737.0M51.8 737.9L59.7 737.0L55.1 743.5"/>
<path d="M63.6 745.4L77.1 737.4M69.6 738.3L77.1 737.4L72.7 743.5"/>
<path d="M81.8 745.4L94.4 737.9M87.4 738.7L94.4 737.9L90.3 743.6"/>
<path d="M100.0 745.4L112.5 737.8M105.6 738.7L112.5 737.8L108.5 743.6"/>
<path d="M118.2 745.4L130.3 738.0M123.6 738.9L130.3 738.0L126.4 743.6"/>
<path d="M136.4 745.4L148.0 738.3M141.5 739.1L148.0 738.3L144.3 743.7"/>
<path d="M154.5 745.4L166.0 738.3M159.6 739.2L166.0 738.3L162.3 743.7"/>
<path d="M172.7 745.4L183.9 738.4M177.7 739.3L183.9 738.4L180.4 743.7"/>
<path d="M190.9 745.4L202.1 738.4M195.8 739.3L202.1 738.4L198.6 743.6"/>
<path d="M209.1 745.4L219.9 738.7M213.9 739.5L219.9 738.7L216.5 743.7"/>
<path d="M227.3 745.4L238.3 738.7M232.2 739.4L238.3 738.7L234.8 743.8"/>
<path d="M245.5 745.4L257.0 738.5M250.6 739.3L257.0 738.5L253.3 743.8"/>
<path d="M263.6 745.4L275.6 738.3M269.0 739.1L275.6 738.3L271.7 743.8"/>
<path d="M281.8 745.4L294.1 738.3M287.3 739.0L294.1 738.3L290.1 743.8"/>
<path d="M300.0 745.4L312.7 738.1M305.7 738.8L312.7 738.1L308.6 743.8"/>
<path d="M318.2 745.4L331.3 737.9M324.1 738.6L331.3 737.9L327.0 743.8"/>
<path d="M336.4 745.4L349.6 738.0M342.3 738.7L349.6 738.0L345.2 743.8"/>
<path d="M354.5 745.4L367.8 738.1M360.6 738.7L367.8 738.1L363.4 743.9"/>
<path d="M372.7 745.4L386.0 738.2M378.8 738.8L386.0 738.2L381.6 743.9"/>
<path d="M390.9 745.4L404.7 738.1M397.2 738.6L404.7 738.1L400.1 744.0"/>
<path d="M409.1 745.4L424.5 738.1M416.3 738.3L424.5 738.1L419.2 744.3"/>
<path d="M427.3 745.4L443.9 738.4M435.2 738.2L443.9 738.4L438.0 744.7"/>
<path d="M445.5 745.4L464.2 738.6M454.6 737.9L464.2 738.6L457.3 745.2"/>
<path d="M463.6 745.4L483.5 739.2M473.6 738.0L483.5 739.2L476.0 745.8"/>
<path d="M481.8 745.4L502.8 739.9M492.5 738.2L502.8 739.9L494.7 746.4"/>
<path d="M500.0 745.4L521.6 740.8M511.2 738.6L521.6 740.8L513.0 747.0"/>
<path d="M518.2 745.4L540.3 741.0M529.7 738.6L540.3 741.0L531.5 747.2"/>
<path d="M536.4 745.4L558.5 741.2M548.0 738.7L558.5 741.2L549.6 747.4"/>
<path d="M554.5 745.4L576.7 741.5M566.2 738.9L576.7 741.5L567.8 747.5"/>
<path d="M572.7 745.4L595.3 741.3M584.6 738.7L595.3 741.3L586.2 747.5"/>
<path d="M590.9 745.4L613.5 741.1M602.7 738.6L613.5 741.1L604.4 747.4"/>
<path d="M609.1 745.4L631.2 741.1M620.7 738.6L631.2 741.1L622.4 747.3"/>
<path d="M627.3 745.4L649.3 740.6M638.7 738.4L649.3 740.6L640.6 747.0"/>
<path d="M645.5 745.4L667.3 740.1M656.7 738.1L667.3 740.1L658.8 746.7"/>
<path d="M663.6 745.4L685.8 739.4M674.9 737.7L685.8 739.4L677.2 746.4"/>
<path d="M681.8 745.4L704.7 738.8M693.4 737.2L704.7 738.8L696.0 746.2"/>
<path d="M700.0 745.4L723.2 738.3M711.6 736.9L723.2 738.3L714.4 745.9"/>
<path d="M718.2 745.4L741.0 738.0M729.6 736.8L741.0 738.0L732.5 745.7"/>
<path d="M736.4 745.4L758.9 737.6M747.5 736.6L758.9 737.6L750.5 745.4"/>
<path d="M754.5 745.4L776.9 737.7M765.6 736.7L776.9 737.7L768.6 745.4"/>
<path d="M772.7 745.4L794.8 737.8M783.7 736.8L794.8 737.8L786.6 745.4"/>
<path d="M790.9 745.4L812.6 737.9M801.6 736.9L812.6 737.9L804.6 745.4"/>
<path d="M9.1 763.6L25.1 754.3M16.3 755.3L25.1 754.3L19.9 761.5"/>
<path d="M27.3 763.6L42.4 754.8M34.1 755.7L42.4 754.8L37.5 761.6"/>
<path d="M45.5 763.6L59.3 755.4M51.7 756.3L59.3 755.4L54.8 761.7"/>
<path d="M63.6 763.6L76.7 755.9M69.4 756.7L76.7 755.9L72.4 761.8"/>
<path d="M81.8 763.6L94.2 756.2M87.3 757.0L94.2 756.2L90.2 761.8"/>
<path d="M100.0 763.6L112.1 756.3M105.4 757.1L112.1 756.3L108.2 761.8"/>
<path d="M118.2 763.6L129.9 756.5M123.4 757.3L129.9 756.5L126.1 761.9"/>
<path d="M136.4 763.6L148.0 756.4M141.5 757.3L148.0 756.4L144.3 761.8"/>
<path d="M154.5 763.6L165.8 756.6M159.5 757.5L165.8 756.6L162.2 761.9"/>
<path d="M172.7 763.6L183.7 756.7M177.6 757.6L183.7 756.7L180.2 761.9"/>
<path d="M190.9 763.6L201.9 756.7M195.7 757.6L201.9 756.7L198.4 761.9"/>
<path d="M209.1 763.6L219.9 756.9M213.9 757.7L219.9 756.9L216.5 761.9"/>
<path d="M227.3 763.6L238.2 756.9M232.1 757.7L238.2 756.9L234.7 762.0"/>
<path d="M245.5 763.6L256.8 756.8M250.5 757.5L256.8 756.8L253.1 762.0"/>
<path d="M263.6 763.6L275.4 756.6M268.9 757.4L275.4 756.6L271.6 762.0"/>
<path d="M281.8 763.6L293.9 756.6M287.2 757.3L293.9 756.6L289.9 762.0"/>
<path d="M300.0 763.6L312.5 756.4M305.6 757.1L312.5 756.4L308.4 762.0"/>
<path d="M318.2 763.6L330.9 756.4M323.9 757.0L330.9 756.4L326.7 762.0"/>
<path d="M336.4 763.6L349.6 756.2M342.3 756.9L349.6 756.2L345.2 762.0"/>
<path d="M354.5 763.6L368.2 756.1M360.8 756.7L368.2 756.1L363.7 762.0"/>
<path d="M372.7 763.6L387.3 755.7M379.4 756.3L387.3 755.7L382.4 762.0"/>
<path d="M390.9 763.6L406.4 755.3M398.0 755.9L406.4 755.3L401.2 762.0"/>
<path d="M409.1 763.6L424.5 756.3M416.3 756.5L424.5 756.3L419.2 762.5"/>
<path d="M427.3 763.6L443.9 756.6M435.2 756.4L443.9 756.6L438.0 762.9"/>
<path d="M445.5 763.6L464.2 756.8M454.6 756.1L464.2 756.8L457.3 763.4"/>
<path d="M463.6 763.6L483.5 757.4M473.6 756.2L483.5 757.4L476.0 764.0"/>
<path d="M481.8 763.6L502.8 758.1M492.5 756.4L502.8 758.1L494.7 764.6"/>
<path d="M500.0 763.6L521.6 759.0M511.2 756.8L521.6 759.0L513.0 765.2"/>
<path d="M518.2 763.6L540.3 759.1M529.7 756.8L540.3 759.1L531.5 765.4"/>
<path d="M536.4 763.6L558.5 759.4M548.0 756.9L558.5 759.4L549.6 765.5"/>
<path d="M554.5 763.6L576.7 759.7M566.2 757.0L576.7 759.7L567.8 765.7"/>
<path d="M572.7 763.6L595.3 759.4M584.6 756.8L595.3 759.4L586.2 765.7"/>
<path d="M590.9 763.6L613.1 759.4M602.5 756.9L613.1 759.4L604.2 765.5"/>
<path d="M609.1 763.6L631.2 759.3M620.7 756.8L631.2 759.3L622.4 765.5"/>
<path d="M627.3 763.6L649.3 758.8M638.7 756.6L649.3 758.8L640.6 765.2"/>
<path d="M645.5 763.6L667.3 758.2M656.7 756.3L667.3 758.2L658.8 764.8"/>
<path d="M663.6 763.6L685.8 757.6M674.9 755.9L685.8 757.6L677.2 764.6"/>
<path d="M681.8 763.6L704.7 757.0M693.4 755.4L704.7 757.0L696.0 764.3"/>
<path d="M700.0 763.6L723.0 756.5M711.5 755.1L723.0 756.5L714.3 764.1"/>
<path d="M718.2 763.6L740.8 756.2M729.5 755.0L740.8 756.2L732.3 763.9"/>
<path d="M736.4 763.6L758.7 755.9M747.4 754.9L758.7 755.9L750.4 763.6"/>
<path d="M754.5 763.6L776.7 755.9M765.5 755.0L776.7 755.9L768.4 763.6"/>
<path d="M772.7 763.6L794.8 755.9M783.7 755.0L794.8 755.9L786.6 763.6"/>
<path d="M790.9 763.6L812.6 756.1M801.6 755.1L812.6 756.1L804.6 763.6"/>
</g>
<g fill="#808080" shape-rendering="crispEdges">
<rect x="9" y="28" width="1" height="744"/>
<rect x="81" y="28" width="1" height="744"/>
<rect x="154" y="28" width="1" height="744"/>
<rect x="227" y="28" width="1" height="744"/>
<rect x="299" y="28" width="1" height="744"/>
<rect x="372" y="28" width="1" height="744"/>
<rect x="445" y="28" width="1" height="744"/>
<rect x="518" y="28" width="1" height="744"/>
<rect x="590" y="28" width="1" height="744"/>
<rect x="663" y="28" width="1" height="744"/>
<rect x="736" y="28" width="1" height="744"/>
<rect x="0" y="36" width="800" height="1"/>
<rect x="0" y="109" width="800" height="1"/>
<rect x="0" y="181" width="800" height="1"/>
<rect x="0" y="254" width="800" height="1"/>
<rect x="0" y="327" width="800" height="1"/>
<rect x="0" y="400" width="800" height="1"/>
<rect x="0" y="472" width="800" height="1"/>
<rect x="0" y="545" width="800" height="1"/>
<rect x="0" y="618" width="800" height="1"/>
<rect x="0" y="690" width="800" height="1"/>
<rect x="0" y="763" width="800" height="1"/>
</g>
<g font-family="DejaVu Sans, sans-serif" font-weight="bold" font-size="24.5" fill="#808080">
<text x="5" y="50" textLength="385.6" lengthAdjust="spacingAndGlyphs">modelo GEFS-WAVE (NCEP)</text>
<text x="5" y="73.2" textLength="495.8" lengthAdjust="spacingAndGlyphs">forecast date: 2025-08-23 06:00:00</text>
<text x="42" y="95.9" textLength="448.6" lengthAdjust="spacingAndGlyphs">valid date: 2025-08-23 12:00:00</text>
</g>
<g stroke="#000" stroke-width="1" fill="none" stroke-linejoin="round" shape-rendering="crispEdges">
<polyline points="238.5,29.5 235.0,31.5 234.5,33.5 237.5,40.5 235.0,50.5 234.5,54.5 229.5,60.5 227.5,66.5 223.0,69.5 225.0,73.5 228.0,75.5 228.5,80.5 226.8,86.0 225.5,94.3 222.0,95.6 216.5,97.0 213.1,101.1 216.5,105.9 217.2,113.5 213.8,120.4 220.7,130.7 213.1,142.4 211.7,145.1 211.7,157.5 214.5,169.9 217.9,175.4 216.2,180.9 216.8,180.5 217.4,185.5 214.2,188.5 204.2,188.5 196.8,189.2 197.4,191.5 196.8,199.2 197.4,204.2 193.0,206.5 190.5,211.5 188.6,218.0 188.0,226.5 188.0,235.5 191.1,240.5 194.9,245.5 195.5,254.2 199.2,256.8 200.5,261.8 199.9,269.2 197.0,271.0 194.0,274.0 186.5,275.5 194.8,280.8 191.0,285.2 191.8,290.5 200.0,296.5 204.5,301.8 216.5,309.2 225.5,311.5 231.5,315.2 240.5,317.5 246.5,321.2 257.0,326.5 264.5,331.0 278.0,344.5 287.0,352.0 291.5,359.5 285.5,368.5 275.0,380.5 273.0,391.5 274.2,401.5 283.0,414.0 295.5,421.5 305.5,425.2 310.5,426.5 316.8,424.0 319.2,422.8 320.5,427.8 323.0,441.5 325.5,454.0 325.0,465.2 318.0,471.5 310.5,481.5 300.5,497.5 295.5,505.0 288.0,513.8 278.0,520.0 268.0,528.8 264.2,535.0 263.0,545.0 261.8,553.8 255.5,558.8 245.5,562.5 233.0,568.8 223.0,572.5 219.2,575.4 214.2,577.2 208.0,579.8 200.5,581.6 190.5,584.1 186.8,586.0 175.5,587.9 165.5,590.4 155.5,593.5 150.5,596.0 141.8,597.2 130.5,599.1 118.0,601.0 108.0,602.9 100.5,605.4 82.4,607.9 31.8,614.8 21.8,615.4 8.0,616.6 5.5,617.2 0.5,617.9"/>
<polyline points="213.1,142.5 217.2,157.5 217.9,168.5 224.1,174.0 223.4,179.5 222.0,185.0 221.8,185.5 218.0,189.2 211.8,190.5 204.2,189.9 201.1,191.8 201.1,199.2 201.8,205.5 197.4,210.5 199.9,214.2 196.1,220.5 196.8,228.0 196.1,235.5 197.4,248.0 201.8,251.8 206.8,255.5 209.8,260.5 212.8,265.8 219.5,267.2 225.5,272.5 231.5,278.5 236.0,283.0 237.5,289.0 240.5,289.8 246.5,288.2 254.0,286.8 261.5,288.2 267.5,286.8 273.5,286.8 288.5,287.5 290.5,287.2 294.5,290.5 299.5,294.8 305.5,300.0 310.0,303.8 317.5,306.0 326.5,308.2 334.0,310.5 341.5,310.5 345.2,312.8 343.0,315.8 347.5,319.5 352.0,321.0 356.5,319.5 359.5,321.8 362.5,321.0 367.0,319.5 373.0,318.0 377.5,315.0 385.0,312.0 392.5,311.2 401.5,311.2 406.5,312.5 418.5,313.2 423.0,315.5 426.0,319.2 430.5,320.8 436.5,318.8 440.2,319.2 445.5,322.2 448.5,326.0 454.5,323.0 465.0,318.5 475.5,314.0 486.0,310.2 495.0,306.5 498.0,303.5 494.2,302.0 495.0,299.8 498.0,298.2 496.5,296.0 498.8,296.8 500.2,298.2 499.5,302.0 501.0,305.0 507.8,304.2 508.5,300.5 514.5,295.2 517.5,292.5 520.5,290.5 527.5,286.5 535.5,283.5 536.0,281.5 534.5,279.0 536.0,275.5 537.5,272.5 539.5,269.5 544.5,266.0 547.5,262.5 552.5,259.0 553.5,255.5 554.5,250.5 556.0,245.5 557.5,241.5 560.5,238.0 562.5,236.5 566.5,234.5 571.5,231.5 576.5,227.5 582.5,222.0 587.5,218.0 590.5,216.5 600.4,208.8 609.2,200.5 618.0,191.8 623.0,181.8 629.2,169.2 633.0,158.0 636.8,145.5 641.8,136.8 645.0,131.0 651.0,125.0 657.0,121.2 664.5,116.0 672.0,105.5 682.5,99.5 690.5,94.9 698.8,88.0 711.1,79.8 726.3,68.8 737.3,59.1 745.5,48.1 755.1,38.5 764.8,28.9 766.0,27.5"/>
<polyline points="375.5,42.5 380.5,42.5 385.5,40.0 390.5,36.2 393.0,33.1 398.0,32.5 398.5,29.4 395.5,28.8"/>
<polyline points="404.5,27.5 406.5,28.1 410.5,30.5 416.5,36.9 420.5,41.2 421.5,46.2 425.5,48.8 429.2,54.5 440.5,58.5 450.5,63.5 460.5,68.5 468.0,70.0 478.0,75.0 485.5,81.5 490.5,88.5 498.0,95.0 508.0,102.5 511.5,100.5 518.0,103.5 524.5,105.5 529.5,111.5 530.5,112.1 537.0,113.8 537.8,120.2 542.7,125.9 543.5,134.9 551.6,143.8 561.4,150.3 572.8,154.4 579.2,157.6 583.3,162.5 576.0,168.2 569.5,173.1 568.7,179.5 559.8,183.6 553.2,190.1 551.6,198.2 553.2,208.0 553.0,215.5 552.5,222.5 552.0,229.5 554.5,232.0 557.5,232.0 560.0,234.5 561.5,236.0 562.5,236.5"/>
<polyline points="657.0,120.5 662.2,114.5 661.5,108.5 657.8,98.0 658.5,95.8 670.5,98.0 676.5,96.5 679.5,93.5 685.5,93.5 694.5,84.5 700.5,80.0 701.5,79.8 702.9,75.6 704.9,72.9 711.1,75.0 719.4,70.1 723.5,64.6 725.5,57.8 724.9,48.1 726.3,42.6 730.4,41.2 734.5,40.6 736.5,42.6 736.5,45.4 738.0,44.0 740.0,41.9 738.0,37.1 738.0,30.2 738.0,27.5"/>
<polyline points="657.0,116.0 655.5,113.8 651.0,116.0 645.8,113.8 646.5,109.2 648.0,106.2 654.0,104.8 654.0,103.2 648.8,101.8 645.8,98.8 648.0,93.5 649.5,89.0 658.5,86.8 663.0,84.5 662.2,81.5 657.8,80.0 659.2,77.0 664.5,78.5 664.5,78.5"/>
<polyline points="664.5,65.8 664.5,63.5 670.5,59.0 679.5,56.0 688.5,54.5 690.0,48.5 693.0,46.2 697.4,44.7 703.5,42.6 703.5,38.5 702.2,33.0 702.9,27.5"/>
</g>
<g fill="#000" shape-rendering="crispEdges">
<rect x="0" y="27" width="800" height="1"/>
<rect x="0" y="27" width="1" height="745"/>
<rect x="9" y="28" width="1" height="17"/>
<rect x="9" y="755" width="1" height="17"/>
<rect x="16" y="28" width="1" height="4"/>
<rect x="16" y="768" width="1" height="4"/>
<rect x="23" y="28" width="1" height="4"/>
<rect x="23" y="768" width="1" height="4"/>
<rect x="31" y="28" width="1" height="4"/>
<rect x="31" y="768" width="1" height="4"/>
<rect x="38" y="28" width="1" height="4"/>
<rect x="38" y="768" width="1" height="4"/>
<rect x="45" y="28" width="1" height="8"/>
<rect x="45" y="764" width="1" height="8"/>
<rect x="52" y="28" width="1" height="4"/>
<rect x="52" y="768" width="1" height="4"/>
<rect x="60" y="28" width="1" height="4"/>
<rect x="60" y="768" width="1" height="4"/>
<rect x="67" y="28" width="1" height="4"/>
<rect x="67" y="768" width="1" height="4"/>
<rect x="74" y="28" width="1" height="4"/>
<rect x="74" y="768" width="1" height="4"/>
<rect x="81" y="28" width="1" height="17"/>
<rect x="81" y="755" width="1" height="17"/>
<rect x="88" y="28" width="1" height="4"/>
<rect x="88" y="768" width="1" height="4"/>
<rect x="95" y="28" width="1" height="4"/>
<rect x="95" y="768" width="1" height="4"/>
<rect x="103" y="28" width="1" height="4"/>
<rect x="103" y="768" width="1" height="4"/>
<rect x="110" y="28" width="1" height="4"/>
<rect x="110" y="768" width="1" height="4"/>
<rect x="117" y="28" width="1" height="8"/>
<rect x="117" y="764" width="1" height="8"/>
<rect x="124" y="28" width="1" height="4"/>
<rect x="124" y="768" width="1" height="4"/>
<rect x="132" y="28" width="1" height="4"/>
<rect x="132" y="768" width="1" height="4"/>
<rect x="139" y="28" width="1" height="4"/>
<rect x="139" y="768" width="1" height="4"/>
<rect x="146" y="28" width="1" height="4"/>
<rect x="146" y="768" width="1" height="4"/>
<rect x="154" y="28" width="1" height="17"/>
<rect x="154" y="755" width="1" height="17"/>
<rect x="161" y="28" width="1" height="4"/>
<rect x="161" y="768" width="1" height="4"/>
<rect x="168" y="28" width="1" height="4"/>
<rect x="168" y="768" width="1" height="4"/>
<rect x="176" y="28" width="1" height="4"/>
<rect x="176" y="768" width="1" height="4"/>
<rect x="183" y="28" width="1" height="4"/>
<rect x="183" y="768" width="1" height="4"/>
<rect x="190" y="28" width="1" height="8"/>
<rect x="190" y="764" width="1" height="8"/>
<rect x="197" y="28" width="1" height="4"/>
<rect x="197" y="768" width="1" height="4"/>
<rect x="205" y="28" width="1" height="4"/>
<rect x="205" y="768" width="1" height="4"/>
<rect x="212" y="28" width="1" height="4"/>
<rect x="212" y="768" width="1" height="4"/>
<rect x="219" y="28" width="1" height="4"/>
<rect x="219" y="768" width="1" height="4"/>
<rect x="227" y="28" width="1" height="17"/>
<rect x="227" y="755" width="1" height="17"/>
<rect x="234" y="28" width="1" height="4"/>
<rect x="234" y="768" width="1" height="4"/>
<rect x="241" y="28" width="1" height="4"/>
<rect x="241" y="768" width="1" height="4"/>
<rect x="249" y="28" width="1" height="4"/>
<rect x="249" y="768" width="1" height="4"/>
<rect x="256" y="28" width="1" height="4"/>
<rect x="256" y="768" width="1" height="4"/>
<rect x="263" y="28" width="1" height="8"/>
<rect x="263" y="764" width="1" height="8"/>
<rect x="270" y="28" width="1" height="4"/>
<rect x="270" y="768" width="1" height="4"/>
<rect x="278" y="28" width="1" height="4"/>
<rect x="278" y="768" width="1" height="4"/>
<rect x="285" y="28" width="1" height="4"/>
<rect x="285" y="768" width="1" height="4"/>
<rect x="292" y="28" width="1" height="4"/>
<rect x="292" y="768" width="1" height="4"/>
<rect x="299" y="28" width="1" height="17"/>
<rect x="299" y="755" width="1" height="17"/>
<rect x="306" y="28" width="1" height="4"/>
<rect x="306" y="768" width="1" height="4"/>
<rect x="313" y="28" width="1" height="4"/>
<rect x="313" y="768" width="1" height="4"/>
<rect x="321" y="28" width="1" height="4"/>
<rect x="321" y="768" width="1" height="4"/>
<rect x="328" y="28" width="1" height="4"/>
<rect x="328" y="768" width="1" height="4"/>
<rect x="335" y="28" width="1" height="8"/>
<rect x="335" y="764" width="1" height="8"/>
<rect x="342" y="28" width="1" height="4"/>
<rect x="342" y="768" width="1" height="4"/>
<rect x="350" y="28" width="1" height="4"/>
<rect x="350" y="768" width="1" height="4"/>
<rect x="357" y="28" width="1" height="4"/>
<rect x="357" y="768" width="1" height="4"/>
<rect x="364" y="28" width="1" height="4"/>
<rect x="364" y="768" width="1" height="4"/>
<rect x="372" y="28" width="1" height="17"/>
<rect x="372" y="755" width="1" height="17"/>
<rect x="379" y="28" width="1" height="4"/>
<rect x="379" y="768" width="1" height="4"/>
<rect x="386" y="28" width="1" height="4"/>
<rect x="386" y="768" width="1" height="4"/>
<rect x="394" y="28" width="1" height="4"/>
<rect x="394" y="768" width="1" height="4"/>
<rect x="401" y="28" width="1" height="4"/>
<rect x="401" y="768" width="1" height="4"/>
<rect x="408" y="28" width="1" height="8"/>
<rect x="408" y="764" width="1" height="8"/>
<rect x="415" y="28" width="1" height="4"/>
<rect x="415" y="768" width="1" height="4"/>
<rect x="423" y="28" width="1" height="4"/>
<rect x="423" y="768" width="1" height="4"/>
<rect x="430" y="28" width="1" height="4"/>
<rect x="430" y="768" width="1" height="4"/>
<rect x="437" y="28" width="1" height="4"/>
<rect x="437" y="768" width="1" height="4"/>
<rect x="445" y="28" width="1" height="17"/>
<rect x="445" y="755" width="1" height="17"/>
<rect x="452" y="28" width="1" height="4"/>
<rect x="452" y="768" width="1" height="4"/>
<rect x="459" y="28" width="1" height="4"/>
<rect x="459" y="768" width="1" height="4"/>
<rect x="467" y="28" width="1" height="4"/>
<rect x="467" y="768" width="1" height="4"/>
<rect x="474" y="28" width="1" height="4"/>
<rect x="474" y="768" width="1" height="4"/>
<rect x="481" y="28" width="1" height="8"/>
<rect x="481" y="764" width="1" height="8"/>
<rect x="488" y="28" width="1" height="4"/>
<rect x="488" y="768" width="1" height="4"/>
<rect x="496" y="28" width="1" height="4"/>
<rect x="496" y="768" width="1" height="4"/>
<rect x="503" y="28" width="1" height="4"/>
<rect x="503" y="768" width="1" height="4"/>
<rect x="510" y="28" width="1" height="4"/>
<rect x="510" y="768" width="1" height="4"/>
<rect x="518" y="28" width="1" height="17"/>
<rect x="518" y="755" width="1" height="17"/>
<rect x="525" y="28" width="1" height="4"/>
<rect x="525" y="768" width="1" height="4"/>
<rect x="532" y="28" width="1" height="4"/>
<rect x="532" y="768" width="1" height="4"/>
<rect x="540" y="28" width="1" height="4"/>
<rect x="540" y="768" width="1" height="4"/>
<rect x="547" y="28" width="1" height="4"/>
<rect x="547" y="768" width="1" height="4"/>
<rect x="554" y="28" width="1" height="8"/>
<rect x="554" y="764" width="1" height="8"/>
<rect x="561" y="28" width="1" height="4"/>
<rect x="561" y="768" width="1" height="4"/>
<rect x="569" y="28" width="1" height="4"/>
<rect x="569" y="768" width="1" height="4"/>
<rect x="576" y="28" width="1" height="4"/>
<rect x="576" y="768" width="1" height="4"/>
<rect x="583" y="28" width="1" height="4"/>
<rect x="583" y="768" width="1" height="4"/>
<rect x="590" y="28" width="1" height="17"/>
<rect x="590" y="755" width="1" height="17"/>
<rect x="597" y="28" width="1" height="4"/>
<rect x="597" y="768" width="1" height="4"/>
<rect x="604" y="28" width="1" height="4"/>
<rect x="604" y="768" width="1" height="4"/>
<rect x="612" y="28" width="1" height="4"/>
<rect x="612" y="768" width="1" height="4"/>
<rect x="619" y="28" width="1" height="4"/>
<rect x="619" y="768" width="1" height="4"/>
<rect x="626" y="28" width="1" height="8"/>
<rect x="626" y="764" width="1" height="8"/>
<rect x="633" y="28" width="1" height="4"/>
<rect x="633" y="768" width="1" height="4"/>
<rect x="641" y="28" width="1" height="4"/>
<rect x="641" y="768" width="1" height="4"/>
<rect x="648" y="28" width="1" height="4"/>
<rect x="648" y="768" width="1" height="4"/>
<rect x="655" y="28" width="1" height="4"/>
<rect x="655" y="768" width="1" height="4"/>
<rect x="663" y="28" width="1" height="17"/>
<rect x="663" y="755" width="1" height="17"/>
<rect x="670" y="28" width="1" height="4"/>
<rect x="670" y="768" width="1" height="4"/>
<rect x="677" y="28" width="1" height="4"/>
<rect x="677" y="768" width="1" height="4"/>
<rect x="685" y="28" width="1" height="4"/>
<rect x="685" y="768" width="1" height="4"/>
<rect x="692" y="28" width="1" height="4"/>
<rect x="692" y="768" width="1" height="4"/>
<rect x="699" y="28" width="1" height="8"/>
<rect x="699" y="764" width="1" height="8"/>
<rect x="706" y="28" width="1" height="4"/>
<rect x="706" y="768" width="1" height="4"/>
<rect x="714" y="28" width="1" height="4"/>
<rect x="714" y="768" width="1" height="4"/>
<rect x="721" y="28" width="1" height="4"/>
<rect x="721" y="768" width="1" height="4"/>
<rect x="728" y="28" width="1" height="4"/>
<rect x="728" y="768" width="1" height="4"/>
<rect x="736" y="28" width="1" height="17"/>
<rect x="736" y="755" width="1" height="17"/>
<rect x="743" y="28" width="1" height="4"/>
<rect x="743" y="768" width="1" height="4"/>
<rect x="750" y="28" width="1" height="4"/>
<rect x="750" y="768" width="1" height="4"/>
<rect x="758" y="28" width="1" height="4"/>
<rect x="758" y="768" width="1" height="4"/>
<rect x="765" y="28" width="1" height="4"/>
<rect x="765" y="768" width="1" height="4"/>
<rect x="772" y="28" width="1" height="8"/>
<rect x="772" y="764" width="1" height="8"/>
<rect x="779" y="28" width="1" height="4"/>
<rect x="779" y="768" width="1" height="4"/>
<rect x="787" y="28" width="1" height="4"/>
<rect x="787" y="768" width="1" height="4"/>
<rect x="794" y="28" width="1" height="4"/>
<rect x="794" y="768" width="1" height="4"/>
<rect x="1" y="29" width="4" height="1"/>
<rect x="796" y="29" width="4" height="1"/>
<rect x="1" y="36" width="17" height="1"/>
<rect x="783" y="36" width="17" height="1"/>
<rect x="1" y="43" width="4" height="1"/>
<rect x="796" y="43" width="4" height="1"/>
<rect x="1" y="50" width="4" height="1"/>
<rect x="796" y="50" width="4" height="1"/>
<rect x="1" y="58" width="4" height="1"/>
<rect x="796" y="58" width="4" height="1"/>
<rect x="1" y="65" width="4" height="1"/>
<rect x="796" y="65" width="4" height="1"/>
<rect x="1" y="72" width="8" height="1"/>
<rect x="792" y="72" width="8" height="1"/>
<rect x="1" y="79" width="4" height="1"/>
<rect x="796" y="79" width="4" height="1"/>
<rect x="1" y="87" width="4" height="1"/>
<rect x="796" y="87" width="4" height="1"/>
<rect x="1" y="94" width="4" height="1"/>
<rect x="796" y="94" width="4" height="1"/>
<rect x="1" y="101" width="4" height="1"/>
<rect x="796" y="101" width="4" height="1"/>
<rect x="1" y="109" width="17" height="1"/>
<rect x="783" y="109" width="17" height="1"/>
<rect x="1" y="116" width="4" height="1"/>
<rect x="796" y="116" width="4" height="1"/>
<rect x="1" y="123" width="4" height="1"/>
<rect x="796" y="123" width="4" height="1"/>
<rect x="1" y="131" width="4" height="1"/>
<rect x="796" y="131" width="4" height="1"/>
<rect x="1" y="138" width="4" height="1"/>
<rect x="796" y="138" width="4" height="1"/>
<rect x="1" y="145" width="8" height="1"/>
<rect x="792" y="145" width="8" height="1"/>
<rect x="1" y="152" width="4" height="1"/>
<rect x="796" y="152" width="4" height="1"/>
<rect x="1" y="160" width="4" height="1"/>
<rect x="796" y="160" width="4" height="1"/>
<rect x="1" y="167" width="4" height="1"/>
<rect x="796" y="167" width="4" height="1"/>
<rect x="1" y="174" width="4" height="1"/>
<rect x="796" y="174" width="4" height="1"/>
<rect x="1" y="181" width="17" height="1"/>
<rect x="783" y="181" width="17" height="1"/>
<rect x="1" y="188" width="4" height="1"/>
<rect x="796" y="188" width="4" height="1"/>
<rect x="1" y="195" width="4" height="1"/>
<rect x="796" y="195" width="4" height="1"/>
<rect x="1" y="203" width="4" height="1"/>
<rect x="796" y="203" width="4" height="1"/>
<rect x="1" y="210" width="4" height="1"/>
<rect x="796" y="210" width="4" height="1"/>
<rect x="1" y="217" width="8" height="1"/>
<rect x="792" y="217" width="8" height="1"/>
<rect x="1" y="224" width="4" height="1"/>
<rect x="796" y="224" width="4" height="1"/>
<rect x="1" y="232" width="4" height="1"/>
<rect x="796" y="232" width="4" height="1"/>
<rect x="1" y="239" width="4" height="1"/>
<rect x="796" y="239" width="4" height="1"/>
<rect x="1" y="246" width="4" height="1"/>
<rect x="796" y="246" width="4" height="1"/>
<rect x="1" y="254" width="17" height="1"/>
<rect x="783" y="254" width="17" height="1"/>
<rect x="1" y="261" width="4" height="1"/>
<rect x="796" y="261" width="4" height="1"/>
<rect x="1" y="268" width="4" height="1"/>
<rect x="796" y="268" width="4" height="1"/>
<rect x="1" y="276" width="4" height="1"/>
<rect x="796" y="276" width="4" height="1"/>
<rect x="1" y="283" width="4" height="1"/>
<rect x="796" y="283" width="4" height="1"/>
<rect x="1" y="290" width="8" height="1"/>
<rect x="792" y="290" width="8" height="1"/>
<rect x="1" y="297" width="4" height="1"/>
<rect x="796" y="297" width="4" height="1"/>
<rect x="1" y="305" width="4" height="1"/>
<rect x="796" y="305" width="4" height="1"/>
<rect x="1" y="312" width="4" height="1"/>
<rect x="796" y="312" width="4" height="1"/>
<rect x="1" y="319" width="4" height="1"/>
<rect x="796" y="319" width="4" height="1"/>
<rect x="1" y="327" width="17" height="1"/>
<rect x="783" y="327" width="17" height="1"/>
<rect x="1" y="334" width="4" height="1"/>
<rect x="796" y="334" width="4" height="1"/>
<rect x="1" y="341" width="4" height="1"/>
<rect x="796" y="341" width="4" height="1"/>
<rect x="1" y="349" width="4" height="1"/>
<rect x="796" y="349" width="4" height="1"/>
<rect x="1" y="356" width="4" height="1"/>
<rect x="796" y="356" width="4" height="1"/>
<rect x="1" y="363" width="8" height="1"/>
<rect x="792" y="363" width="8" height="1"/>
<rect x="1" y="370" width="4" height="1"/>
<rect x="796" y="370" width="4" height="1"/>
<rect x="1" y="378" width="4" height="1"/>
<rect x="796" y="378" width="4" height="1"/>
<rect x="1" y="385" width="4" height="1"/>
<rect x="796" y="385" width="4" height="1"/>
<rect x="1" y="392" width="4" height="1"/>
<rect x="796" y="392" width="4" height="1"/>
<rect x="1" y="400" width="17" height="1"/>
<rect x="783" y="400" width="17" height="1"/>
<rect x="1" y="407" width="4" height="1"/>
<rect x="796" y="407" width="4" height="1"/>
<rect x="1" y="414" width="4" height="1"/>
<rect x="796" y="414" width="4" height="1"/>
<rect x="1" y="422" width="4" height="1"/>
<rect x="796" y="422" width="4" height="1"/>
<rect x="1" y="429" width="4" height="1"/>
<rect x="796" y="429" width="4" height="1"/>
<rect x="1" y="436" width="8" height="1"/>
<rect x="792" y="436" width="8" height="1"/>
<rect x="1" y="443" width="4" height="1"/>
<rect x="796" y="443" width="4" height="1"/>
<rect x="1" y="451" width="4" height="1"/>
<rect x="796" y="451" width="4" height="1"/>
<rect x="1" y="458" width="4" height="1"/>
<rect x="796" y="458" width="4" height="1"/>
<rect x="1" y="465" width="4" height="1"/>
<rect x="796" y="465" width="4" height="1"/>
<rect x="1" y="472" width="17" height="1"/>
<rect x="783" y="472" width="17" height="1"/>
<rect x="1" y="479" width="4" height="1"/>
<rect x="796" y="479" width="4" height="1"/>
<rect x="1" y="486" width="4" height="1"/>
<rect x="796" y="486" width="4" height="1"/>
<rect x="1" y="494" width="4" height="1"/>
<rect x="796" y="494" width="4" height="1"/>
<rect x="1" y="501" width="4" height="1"/>
<rect x="796" y="501" width="4" height="1"/>
<rect x="1" y="508" width="8" height="1"/>
<rect x="792" y="508" width="8" height="1"/>
<rect x="1" y="515" width="4" height="1"/>
<rect x="796" y="515" width="4" height="1"/>
<rect x="1" y="523" width="4" height="1"/>
<rect x="796" y="523" width="4" height="1"/>
<rect x="1" y="530" width="4" height="1"/>
<rect x="796" y="530" width="4" height="1"/>
<rect x="1" y="537" width="4" height="1"/>
<rect x="796" y="537" width="4" height="1"/>
<rect x="1" y="545" width="17" height="1"/>
<rect x="783" y="545" width="17" height="1"/>
<rect x="1" y="552" width="4" height="1"/>
<rect x="796" y="552" width="4" height="1"/>
<rect x="1" y="559" width="4" height="1"/>
<rect x="796" y="559" width="4" height="1"/>
<rect x="1" y="567" width="4" height="1"/>
<rect x="796" y="567" width="4" height="1"/>
<rect x="1" y="574" width="4" height="1"/>
<rect x="796" y="574" width="4" height="1"/>
<rect x="1" y="581" width="8" height="1"/>
<rect x="792" y="581" width="8" height="1"/>
<rect x="1" y="588" width="4" height="1"/>
<rect x="796" y="588" width="4" height="1"/>
<rect x="1" y="596" width="4" height="1"/>
<rect x="796" y="596" width="4" height="1"/>
<rect x="1" y="603" width="4" height="1"/>
<rect x="796" y="603" width="4" height="1"/>
<rect x="1" y="610" width="4" height="1"/>
<rect x="796" y="610" width="4" height="1"/>
<rect x="1" y="618" width="17" height="1"/>
<rect x="783" y="618" width="17" height="1"/>
<rect x="1" y="625" width="4" height="1"/>
<rect x="796" y="625" width="4" height="1"/>
<rect x="1" y="632" width="4" height="1"/>
<rect x="796" y="632" width="4" height="1"/>
<rect x="1" y="640" width="4" height="1"/>
<rect x="796" y="640" width="4" height="1"/>
<rect x="1" y="647" width="4" height="1"/>
<rect x="796" y="647" width="4" height="1"/>
<rect x="1" y="654" width="8" height="1"/>
<rect x="792" y="654" width="8" height="1"/>
<rect x="1" y="661" width="4" height="1"/>
<rect x="796" y="661" width="4" height="1"/>
<rect x="1" y="669" width="4" height="1"/>
<rect x="796" y="669" width="4" height="1"/>
<rect x="1" y="676" width="4" height="1"/>
<rect x="796" y="676" width="4" height="1"/>
<rect x="1" y="683" width="4" height="1"/>
<rect x="796" y="683" width="4" height="1"/>
<rect x="1" y="690" width="17" height="1"/>
<rect x="783" y="690" width="17" height="1"/>
<rect x="1" y="697" width="4" height="1"/>
<rect x="796" y="697" width="4" height="1"/>
<rect x="1" y="704" width="4" height="1"/>
<rect x="796" y="704" width="4" height="1"/>
<rect x="1" y="712" width="4" height="1"/>
<rect x="796" y="712" width="4" height="1"/>
<rect x="1" y="719" width="4" height="1"/>
<rect x="796" y="719" width="4" height="1"/>
<rect x="1" y="726" width="8" height="1"/>
<rect x="792" y="726" width="8" height="1"/>
<rect x="1" y="733" width="4" height="1"/>
<rect x="796" y="733" width="4" height="1"/>
<rect x="1" y="741" width="4" height="1"/>
<rect x="796" y="741" width="4" height="1"/>
<rect x="1" y="748" width="4" height="1"/>
<rect x="796" y="748" width="4" height="1"/>
<rect x="1" y="755" width="4" height="1"/>
<rect x="796" y="755" width="4" height="1"/>
<rect x="1" y="763" width="17" height="1"/>
<rect x="783" y="763" width="17" height="1"/>
<rect x="1" y="770" width="4" height="1"/>
<rect x="796" y="770" width="4" height="1"/>
</g>
<g shape-rendering="crispEdges"><rect x="32" y="160" width="49" height="608" fill="#000"/>
<rect x="33" y="161" width="47" height="606" fill="#fff"/>
<rect x="34" y="162" width="45" height="604" fill="url(#cb)"/></g>
<g font-family="DejaVu Sans, sans-serif" font-size="14" fill="#000">
<text x="34" y="149" textLength="43" lengthAdjust="spacingAndGlyphs">[m/s]</text>
<text x="86.5" y="164.5">30</text>
<text x="86.5" y="316.5">22</text>
<text x="86.5" y="468.5">15</text>
<text x="86.5" y="620.5">8</text>
<text x="86.5" y="772.5">0</text>
</g>
<g font-family="DejaVu Sans, sans-serif" font-size="11.5" fill="#808080">
<text x="771" y="104.5" textLength="21" lengthAdjust="spacingAndGlyphs">32S</text>
<text x="771" y="177.2" textLength="21" lengthAdjust="spacingAndGlyphs">33S</text>
<text x="771" y="250.0" textLength="21" lengthAdjust="spacingAndGlyphs">34S</text>
<text x="771" y="322.7" textLength="21" lengthAdjust="spacingAndGlyphs">35S</text>
<text x="771" y="395.4" textLength="21" lengthAdjust="spacingAndGlyphs">36S</text>
<text x="771" y="468.1" textLength="21" lengthAdjust="spacingAndGlyphs">37S</text>
<text x="771" y="540.9" textLength="21" lengthAdjust="spacingAndGlyphs">38S</text>
<text x="771" y="613.6" textLength="21" lengthAdjust="spacingAndGlyphs">39S</text>
<text x="771" y="686.3" textLength="21" lengthAdjust="spacingAndGlyphs">40S</text>
<text x="771" y="759.0" textLength="21" lengthAdjust="spacingAndGlyphs">41S</text>
<text transform="translate(13.9,744) rotate(90)" textLength="21" lengthAdjust="spacingAndGlyphs">61W</text>
<text transform="translate(86.6,744) rotate(90)" textLength="21" lengthAdjust="spacingAndGlyphs">60W</text>
<text transform="translate(159.4,744) rotate(90)" textLength="21" lengthAdjust="spacingAndGlyphs">59W</text>
<text transform="translate(232.1,744) rotate(90)" textLength="21" lengthAdjust="spacingAndGlyphs">58W</text>
<text transform="translate(304.8,744) rotate(90)" textLength="21" lengthAdjust="spacingAndGlyphs">57W</text>
<text transform="translate(377.5,744) rotate(90)" textLength="21" lengthAdjust="spacingAndGlyphs">56W</text>
<text transform="translate(450.3,744) rotate(90)" textLength="21" lengthAdjust="spacingAndGlyphs">55W</text>
<text transform="translate(523.0,744) rotate(90)" textLength="21" lengthAdjust="spacingAndGlyphs">54W</text>
<text transform="translate(595.7,744) rotate(90)" textLength="21" lengthAdjust="spacingAndGlyphs">53W</text>
<text transform="translate(668.4,744) rotate(90)" textLength="21" lengthAdjust="spacingAndGlyphs">52W</text>
<text transform="translate(741.2,744) rotate(90)" textLength="21" lengthAdjust="spacingAndGlyphs">51W</text>
</g>
</svg></body></html>
